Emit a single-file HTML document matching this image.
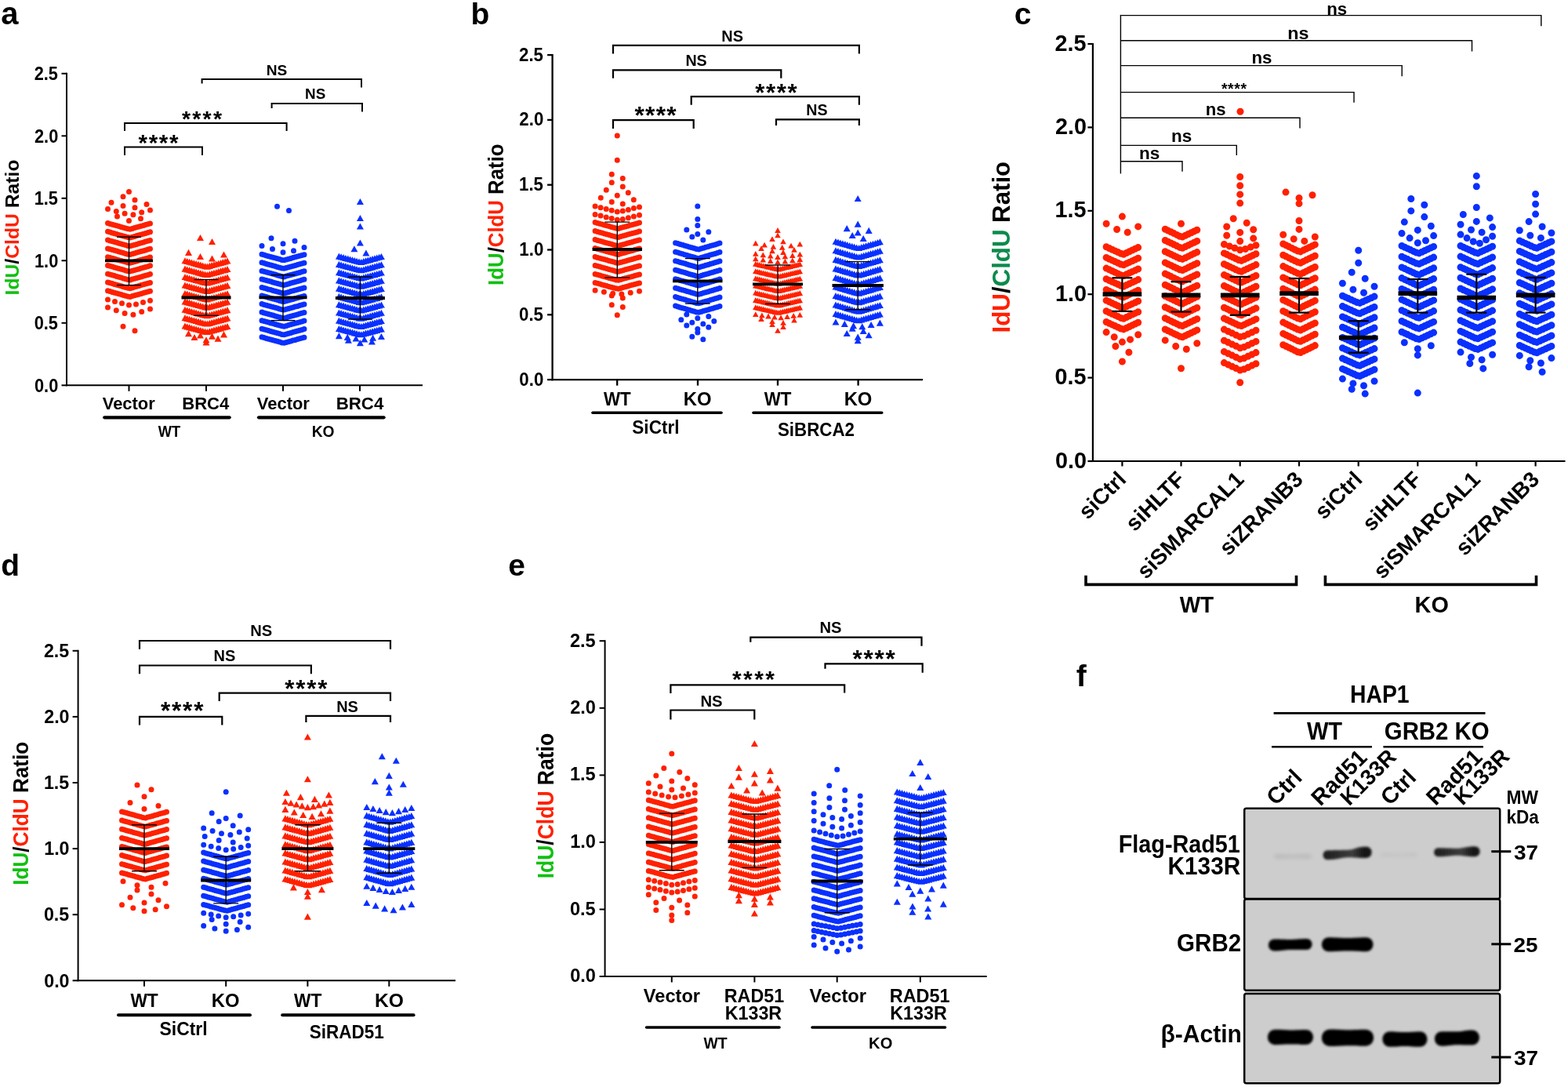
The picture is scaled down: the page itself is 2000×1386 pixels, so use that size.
<!DOCTYPE html><html><head><meta charset="utf-8"><style>html,body{margin:0;padding:0;background:#fff;overflow:hidden}svg{display:block}text{font-family:'Liberation Sans', Arial, Helvetica, sans-serif}</style></head><body>
<svg width="2000" height="1386" viewBox="0 0 2000 1386">
<defs>
<filter id="bl1_6" x="-20%" y="-80%" width="140%" height="260%"><feGaussianBlur stdDeviation="1.6"/></filter>
<filter id="bl1_8" x="-20%" y="-80%" width="140%" height="260%"><feGaussianBlur stdDeviation="1.8"/></filter>
<filter id="bl2_5" x="-20%" y="-80%" width="140%" height="260%"><feGaussianBlur stdDeviation="2.5"/></filter>
<linearGradient id="gb1" x1="0" y1="0" x2="1" y2="0"><stop offset="0" stop-color="#1c1c1c"/><stop offset="0.3" stop-color="#2c2c2c"/><stop offset="0.6" stop-color="#3c3c3c"/><stop offset="0.85" stop-color="#161616"/><stop offset="1" stop-color="#101010"/></linearGradient>
</defs>
<rect width="2000" height="1386" fill="#fff"/>
<text x="1.2" y="31.2" font-size="40" font-weight="bold" fill="#000" >a</text>
<line x1="85" y1="92.8" x2="85" y2="492.3" stroke="#000" stroke-width="2" stroke-linecap="butt"/>
<line x1="84" y1="491.3" x2="539" y2="491.3" stroke="#000" stroke-width="2" stroke-linecap="butt"/>
<line x1="78.5" y1="491.3" x2="85" y2="491.3" stroke="#000" stroke-width="2" stroke-linecap="butt"/>
<text x="44" y="499.8" font-size="23.3" font-weight="bold" fill="#000" textLength="30.3" lengthAdjust="spacingAndGlyphs" >0.0</text>
<line x1="78.5" y1="411.8" x2="85" y2="411.8" stroke="#000" stroke-width="2" stroke-linecap="butt"/>
<text x="43.7" y="420.3" font-size="23.3" font-weight="bold" fill="#000" textLength="30.3" lengthAdjust="spacingAndGlyphs" >0.5</text>
<line x1="78.5" y1="332.3" x2="85" y2="332.3" stroke="#000" stroke-width="2" stroke-linecap="butt"/>
<text x="44" y="340.8" font-size="23.3" font-weight="bold" fill="#000" textLength="30.3" lengthAdjust="spacingAndGlyphs" >1.0</text>
<line x1="78.5" y1="252.8" x2="85" y2="252.8" stroke="#000" stroke-width="2" stroke-linecap="butt"/>
<text x="43.7" y="261.2" font-size="23.3" font-weight="bold" fill="#000" textLength="30.3" lengthAdjust="spacingAndGlyphs" >1.5</text>
<line x1="78.5" y1="173.3" x2="85" y2="173.3" stroke="#000" stroke-width="2" stroke-linecap="butt"/>
<text x="44" y="181.8" font-size="23.3" font-weight="bold" fill="#000" textLength="30.3" lengthAdjust="spacingAndGlyphs" >2.0</text>
<line x1="78.5" y1="93.8" x2="85" y2="93.8" stroke="#000" stroke-width="2" stroke-linecap="butt"/>
<text x="43.7" y="102.3" font-size="23.3" font-weight="bold" fill="#000" textLength="30.3" lengthAdjust="spacingAndGlyphs" >2.5</text>
<line x1="164.5" y1="491.3" x2="164.5" y2="498.8" stroke="#000" stroke-width="2" stroke-linecap="butt"/>
<line x1="263" y1="491.3" x2="263" y2="498.8" stroke="#000" stroke-width="2" stroke-linecap="butt"/>
<line x1="361" y1="491.3" x2="361" y2="498.8" stroke="#000" stroke-width="2" stroke-linecap="butt"/>
<line x1="459" y1="491.3" x2="459" y2="498.8" stroke="#000" stroke-width="2" stroke-linecap="butt"/>
<path d="M165.9 378.5h0M163.1 378h0M168.8 377.6h0M160.2 377.2h0M171.6 376.8h0M157.4 376.4h0M174.4 376h0M154.6 375.6h0M177.3 375.2h0M151.7 374.8h0M180.1 374.4h0M148.9 374h0M183 373.6h0M146 373.2h0M185.8 372.8h0M143.2 372.4h0M188.7 372h0M140.3 371.6h0M191.5 371.2h0M137.5 370.8h0M165.9 367.7h0M163.1 367.3h0M168.8 366.9h0M160.2 366.5h0M171.6 366.1h0M157.4 365.7h0M174.4 365.2h0M154.6 364.8h0M177.3 364.4h0M151.7 364h0M180.1 363.6h0M148.9 363.2h0M183 362.8h0M146 362.4h0M185.8 362h0M143.2 361.6h0M188.7 361.2h0M140.3 360.8h0M191.5 360.4h0M137.5 360h0M165.9 356.9h0M163.1 356.5h0M168.8 356.1h0M160.2 355.7h0M171.6 355.3h0M157.4 354.9h0M174.4 354.5h0M154.6 354.1h0M177.3 353.7h0M151.7 353.3h0M180.1 352.9h0M148.9 352.5h0M183 352h0M146 351.6h0M185.8 351.2h0M143.2 350.8h0M188.7 350.4h0M140.3 350h0M191.5 349.6h0M137.5 349.2h0M165.9 346.1h0M163.1 345.7h0M168.8 345.3h0M160.2 344.9h0M171.6 344.5h0M157.4 344.1h0M174.4 343.7h0M154.6 343.3h0M177.3 342.9h0M151.7 342.5h0M180.1 342.1h0M148.9 341.7h0M183 341.3h0M146 340.9h0M185.8 340.5h0M143.2 340.1h0M188.7 339.7h0M140.3 339.3h0M191.5 338.8h0M137.5 338.4h0M165.9 335.3h0M163.1 334.9h0M168.8 334.5h0M160.2 334.1h0M171.6 333.7h0M157.4 333.3h0M174.4 332.9h0M154.6 332.5h0M177.3 332.1h0M151.7 331.7h0M180.1 331.3h0M148.9 330.9h0M183 330.5h0M146 330.1h0M185.8 329.7h0M143.2 329.3h0M188.7 328.9h0M140.3 328.5h0M191.5 328.1h0M137.5 327.7h0M165.9 324.6h0M163.1 324.2h0M168.8 323.8h0M160.2 323.4h0M171.6 323h0M157.4 322.5h0M174.4 322.1h0M154.6 321.7h0M177.3 321.3h0M151.7 320.9h0M180.1 320.5h0M148.9 320.1h0M183 319.7h0M146 319.3h0M185.8 318.9h0M143.2 318.5h0M188.7 318.1h0M140.3 317.7h0M191.5 317.3h0M137.5 316.9h0M165.9 313.8h0M163.1 313.4h0M168.8 313h0M160.2 312.6h0M171.6 312.2h0M157.4 311.8h0M174.4 311.4h0M154.6 311h0M177.3 310.6h0M151.7 310.2h0M180.1 309.7h0M148.9 309.3h0M183 308.9h0M146 308.5h0M185.8 308.1h0M143.2 307.7h0M188.7 307.3h0M140.3 306.9h0M191.5 306.5h0M137.5 306.1h0M165.9 303h0M163.1 302.6h0M168.8 302.2h0M160.2 301.8h0M171.6 301.4h0M157.4 301h0M174.4 300.6h0M154.6 300.2h0M177.3 299.8h0M151.7 299.4h0M180.1 299h0M148.9 298.6h0M183 298.2h0M146 297.8h0M185.8 297.4h0M143.2 297h0M188.7 296.5h0M140.3 296.1h0M191.5 295.7h0M137.5 295.3h0M165.9 292.2h0M163.1 291.8h0M168.8 291.4h0M160.2 291h0M171.6 290.6h0M157.4 290.2h0M174.4 289.8h0M154.6 289.4h0M177.3 289h0M151.7 288.6h0M180.1 288.2h0M148.9 287.8h0M183 287.4h0M146 287h0M185.8 286.6h0M143.2 286.2h0M188.7 285.8h0M140.3 285.4h0M191.5 285h0M137.5 284.6h0M164.5 281.6h0M179.5 278.7h0M149.5 275.9h0M169.9 273.7h0M159.1 272.3h0M180.7 270.8h0M148.3 269.4h0M191.5 268h0M137.5 266.6h0M172 264.8h0M157 262.6h0M187 260.5h0M142 258.3h0M172 255.1h0M157 250.8h0M164.5 244.4h0M164.5 389.1h0M173.5 387.9h0M155.5 386.8h0M182.5 385.6h0M146.5 384.4h0M191.5 383.2h0M137.5 382h0M169.9 401.3h0M159.1 399.5h0M180.7 397.6h0M148.3 395.8h0M191.5 393.9h0M137.5 392.1h0M172 421.7h0M157 416.2h0" stroke="#ff2000" stroke-width="7" stroke-linecap="round" fill="none"/>
<line x1="164.5" y1="302.1" x2="164.5" y2="363.6" stroke="#000" stroke-width="1.4" stroke-linecap="butt"/>
<line x1="149" y1="302.1" x2="180" y2="302.1" stroke="#000" stroke-width="1.4" stroke-linecap="butt"/>
<line x1="149" y1="363.6" x2="180" y2="363.6" stroke="#000" stroke-width="1.4" stroke-linecap="butt"/>
<line x1="134" y1="332.3" x2="195" y2="332.3" stroke="#000" stroke-width="3.8" stroke-linecap="butt"/>
<path d="M259.9 427.1l4.5 -8.1l4.5 8.1zM257.1 426.7l4.5 -8.1l4.5 8.1zM262.8 426.3l4.5 -8.1l4.5 8.1zM254.2 425.9l4.5 -8.1l4.5 8.1zM265.6 425.5l4.5 -8.1l4.5 8.1zM251.4 425.1l4.5 -8.1l4.5 8.1zM268.4 424.7l4.5 -8.1l4.5 8.1zM248.6 424.3l4.5 -8.1l4.5 8.1zM271.3 423.9l4.5 -8.1l4.5 8.1zM245.7 423.6l4.5 -8.1l4.5 8.1zM274.1 423.2l4.5 -8.1l4.5 8.1zM242.9 422.8l4.5 -8.1l4.5 8.1zM277 422.4l4.5 -8.1l4.5 8.1zM240 422l4.5 -8.1l4.5 8.1zM279.8 421.6l4.5 -8.1l4.5 8.1zM237.2 421.2l4.5 -8.1l4.5 8.1zM282.7 420.8l4.5 -8.1l4.5 8.1zM234.3 420.4l4.5 -8.1l4.5 8.1zM285.5 420l4.5 -8.1l4.5 8.1zM231.5 419.6l4.5 -8.1l4.5 8.1zM259.9 416.6l4.5 -8.1l4.5 8.1zM257.1 416.3l4.5 -8.1l4.5 8.1zM262.8 415.9l4.5 -8.1l4.5 8.1zM254.2 415.5l4.5 -8.1l4.5 8.1zM265.6 415.1l4.5 -8.1l4.5 8.1zM251.4 414.7l4.5 -8.1l4.5 8.1zM268.4 414.3l4.5 -8.1l4.5 8.1zM248.6 413.9l4.5 -8.1l4.5 8.1zM271.3 413.5l4.5 -8.1l4.5 8.1zM245.7 413.1l4.5 -8.1l4.5 8.1zM274.1 412.7l4.5 -8.1l4.5 8.1zM242.9 412.3l4.5 -8.1l4.5 8.1zM277 412l4.5 -8.1l4.5 8.1zM240 411.6l4.5 -8.1l4.5 8.1zM279.8 411.2l4.5 -8.1l4.5 8.1zM237.2 410.8l4.5 -8.1l4.5 8.1zM282.7 410.4l4.5 -8.1l4.5 8.1zM234.3 410l4.5 -8.1l4.5 8.1zM285.5 409.6l4.5 -8.1l4.5 8.1zM231.5 409.2l4.5 -8.1l4.5 8.1zM259.9 406.2l4.5 -8.1l4.5 8.1zM257.1 405.8l4.5 -8.1l4.5 8.1zM262.8 405.4l4.5 -8.1l4.5 8.1zM254.2 405.1l4.5 -8.1l4.5 8.1zM265.6 404.7l4.5 -8.1l4.5 8.1zM251.4 404.3l4.5 -8.1l4.5 8.1zM268.4 403.9l4.5 -8.1l4.5 8.1zM248.6 403.5l4.5 -8.1l4.5 8.1zM271.3 403.1l4.5 -8.1l4.5 8.1zM245.7 402.7l4.5 -8.1l4.5 8.1zM274.1 402.3l4.5 -8.1l4.5 8.1zM242.9 401.9l4.5 -8.1l4.5 8.1zM277 401.5l4.5 -8.1l4.5 8.1zM240 401.1l4.5 -8.1l4.5 8.1zM279.8 400.8l4.5 -8.1l4.5 8.1zM237.2 400.4l4.5 -8.1l4.5 8.1zM282.7 400l4.5 -8.1l4.5 8.1zM234.3 399.6l4.5 -8.1l4.5 8.1zM285.5 399.2l4.5 -8.1l4.5 8.1zM231.5 398.8l4.5 -8.1l4.5 8.1zM259.9 395.8l4.5 -8.1l4.5 8.1zM257.1 395.4l4.5 -8.1l4.5 8.1zM262.8 395l4.5 -8.1l4.5 8.1zM254.2 394.6l4.5 -8.1l4.5 8.1zM265.6 394.2l4.5 -8.1l4.5 8.1zM251.4 393.8l4.5 -8.1l4.5 8.1zM268.4 393.5l4.5 -8.1l4.5 8.1zM248.6 393.1l4.5 -8.1l4.5 8.1zM271.3 392.7l4.5 -8.1l4.5 8.1zM245.7 392.3l4.5 -8.1l4.5 8.1zM274.1 391.9l4.5 -8.1l4.5 8.1zM242.9 391.5l4.5 -8.1l4.5 8.1zM277 391.1l4.5 -8.1l4.5 8.1zM240 390.7l4.5 -8.1l4.5 8.1zM279.8 390.3l4.5 -8.1l4.5 8.1zM237.2 389.9l4.5 -8.1l4.5 8.1zM282.7 389.5l4.5 -8.1l4.5 8.1zM234.3 389.2l4.5 -8.1l4.5 8.1zM285.5 388.8l4.5 -8.1l4.5 8.1zM231.5 388.4l4.5 -8.1l4.5 8.1zM259.9 385.4l4.5 -8.1l4.5 8.1zM257.1 385l4.5 -8.1l4.5 8.1zM262.8 384.6l4.5 -8.1l4.5 8.1zM254.2 384.2l4.5 -8.1l4.5 8.1zM265.6 383.8l4.5 -8.1l4.5 8.1zM251.4 383.4l4.5 -8.1l4.5 8.1zM268.4 383l4.5 -8.1l4.5 8.1zM248.6 382.6l4.5 -8.1l4.5 8.1zM271.3 382.3l4.5 -8.1l4.5 8.1zM245.7 381.9l4.5 -8.1l4.5 8.1zM274.1 381.5l4.5 -8.1l4.5 8.1zM242.9 381.1l4.5 -8.1l4.5 8.1zM277 380.7l4.5 -8.1l4.5 8.1zM240 380.3l4.5 -8.1l4.5 8.1zM279.8 379.9l4.5 -8.1l4.5 8.1zM237.2 379.5l4.5 -8.1l4.5 8.1zM282.7 379.1l4.5 -8.1l4.5 8.1zM234.3 378.7l4.5 -8.1l4.5 8.1zM285.5 378.3l4.5 -8.1l4.5 8.1zM231.5 378l4.5 -8.1l4.5 8.1zM259.9 375l4.5 -8.1l4.5 8.1zM257.1 374.6l4.5 -8.1l4.5 8.1zM262.8 374.2l4.5 -8.1l4.5 8.1zM254.2 373.8l4.5 -8.1l4.5 8.1zM265.6 373.4l4.5 -8.1l4.5 8.1zM251.4 373l4.5 -8.1l4.5 8.1zM268.4 372.6l4.5 -8.1l4.5 8.1zM248.6 372.2l4.5 -8.1l4.5 8.1zM271.3 371.8l4.5 -8.1l4.5 8.1zM245.7 371.4l4.5 -8.1l4.5 8.1zM274.1 371l4.5 -8.1l4.5 8.1zM242.9 370.7l4.5 -8.1l4.5 8.1zM277 370.3l4.5 -8.1l4.5 8.1zM240 369.9l4.5 -8.1l4.5 8.1zM279.8 369.5l4.5 -8.1l4.5 8.1zM237.2 369.1l4.5 -8.1l4.5 8.1zM282.7 368.7l4.5 -8.1l4.5 8.1zM234.3 368.3l4.5 -8.1l4.5 8.1zM285.5 367.9l4.5 -8.1l4.5 8.1zM231.5 367.5l4.5 -8.1l4.5 8.1zM259.9 364.5l4.5 -8.1l4.5 8.1zM257.1 364.1l4.5 -8.1l4.5 8.1zM262.8 363.7l4.5 -8.1l4.5 8.1zM254.2 363.4l4.5 -8.1l4.5 8.1zM265.6 363l4.5 -8.1l4.5 8.1zM251.4 362.6l4.5 -8.1l4.5 8.1zM268.4 362.2l4.5 -8.1l4.5 8.1zM248.6 361.8l4.5 -8.1l4.5 8.1zM271.3 361.4l4.5 -8.1l4.5 8.1zM245.7 361l4.5 -8.1l4.5 8.1zM274.1 360.6l4.5 -8.1l4.5 8.1zM242.9 360.2l4.5 -8.1l4.5 8.1zM277 359.8l4.5 -8.1l4.5 8.1zM240 359.5l4.5 -8.1l4.5 8.1zM279.8 359.1l4.5 -8.1l4.5 8.1zM237.2 358.7l4.5 -8.1l4.5 8.1zM282.7 358.3l4.5 -8.1l4.5 8.1zM234.3 357.9l4.5 -8.1l4.5 8.1zM285.5 357.5l4.5 -8.1l4.5 8.1zM231.5 357.1l4.5 -8.1l4.5 8.1zM259.9 354.1l4.5 -8.1l4.5 8.1zM257.1 353.7l4.5 -8.1l4.5 8.1zM262.8 353.3l4.5 -8.1l4.5 8.1zM254.2 352.9l4.5 -8.1l4.5 8.1zM265.6 352.5l4.5 -8.1l4.5 8.1zM251.4 352.2l4.5 -8.1l4.5 8.1zM268.4 351.8l4.5 -8.1l4.5 8.1zM248.6 351.4l4.5 -8.1l4.5 8.1zM271.3 351l4.5 -8.1l4.5 8.1zM245.7 350.6l4.5 -8.1l4.5 8.1zM274.1 350.2l4.5 -8.1l4.5 8.1zM242.9 349.8l4.5 -8.1l4.5 8.1zM277 349.4l4.5 -8.1l4.5 8.1zM240 349l4.5 -8.1l4.5 8.1zM279.8 348.6l4.5 -8.1l4.5 8.1zM237.2 348.2l4.5 -8.1l4.5 8.1zM282.7 347.9l4.5 -8.1l4.5 8.1zM234.3 347.5l4.5 -8.1l4.5 8.1zM285.5 347.1l4.5 -8.1l4.5 8.1zM231.5 346.7l4.5 -8.1l4.5 8.1zM259.9 343.7l4.5 -8.1l4.5 8.1zM257.1 343.3l4.5 -8.1l4.5 8.1zM262.8 342.9l4.5 -8.1l4.5 8.1zM254.2 342.5l4.5 -8.1l4.5 8.1zM265.6 342.1l4.5 -8.1l4.5 8.1zM251.4 341.7l4.5 -8.1l4.5 8.1zM268.4 341.3l4.5 -8.1l4.5 8.1zM248.6 340.9l4.5 -8.1l4.5 8.1zM271.3 340.6l4.5 -8.1l4.5 8.1zM245.7 340.2l4.5 -8.1l4.5 8.1zM274.1 339.8l4.5 -8.1l4.5 8.1zM242.9 339.4l4.5 -8.1l4.5 8.1zM277 339l4.5 -8.1l4.5 8.1zM240 338.6l4.5 -8.1l4.5 8.1zM279.8 338.2l4.5 -8.1l4.5 8.1zM237.2 337.8l4.5 -8.1l4.5 8.1zM282.7 337.4l4.5 -8.1l4.5 8.1zM234.3 337l4.5 -8.1l4.5 8.1zM285.5 336.6l4.5 -8.1l4.5 8.1zM231.5 336.3l4.5 -8.1l4.5 8.1zM266 333.5l4.5 -8.1l4.5 8.1zM251 331l4.5 -8.1l4.5 8.1zM281 328.5l4.5 -8.1l4.5 8.1zM236 325.9l4.5 -8.1l4.5 8.1zM266 312.1l4.5 -8.1l4.5 8.1zM251 307.1l4.5 -8.1l4.5 8.1zM266 432.7l4.5 -8.1l4.5 8.1zM251 431.6l4.5 -8.1l4.5 8.1zM281 430.4l4.5 -8.1l4.5 8.1zM236 429.2l4.5 -8.1l4.5 8.1zM258.5 437.3l4.5 -8.1l4.5 8.1zM273.5 435.7l4.5 -8.1l4.5 8.1zM243.5 434.1l4.5 -8.1l4.5 8.1zM258.5 440.5l4.5 -8.1l4.5 8.1z" fill="#ff2000"/>
<line x1="263" y1="356.5" x2="263" y2="402.3" stroke="#000" stroke-width="1.4" stroke-linecap="butt"/>
<line x1="247.5" y1="356.5" x2="278.5" y2="356.5" stroke="#000" stroke-width="1.4" stroke-linecap="butt"/>
<line x1="247.5" y1="402.3" x2="278.5" y2="402.3" stroke="#000" stroke-width="1.4" stroke-linecap="butt"/>
<line x1="231.5" y1="379.5" x2="294.5" y2="379.5" stroke="#000" stroke-width="3.8" stroke-linecap="butt"/>
<path d="M362.4 437.3h0M359.6 436.9h0M365.3 436.5h0M356.7 436.1h0M368.1 435.7h0M353.9 435.3h0M370.9 434.9h0M351.1 434.5h0M373.8 434.1h0M348.2 433.8h0M376.6 433.4h0M345.4 433h0M379.5 432.6h0M342.5 432.2h0M382.3 431.8h0M339.7 431.4h0M385.2 431h0M336.8 430.6h0M388 430.2h0M334 429.8h0M362.4 426.8h0M359.6 426.4h0M365.3 426h0M356.7 425.6h0M368.1 425.2h0M353.9 424.8h0M370.9 424.4h0M351.1 424h0M373.8 423.6h0M348.2 423.2h0M376.6 422.8h0M345.4 422.4h0M379.5 422h0M342.5 421.6h0M382.3 421.2h0M339.7 420.8h0M385.2 420.4h0M336.8 420h0M388 419.6h0M334 419.2h0M362.4 416.2h0M359.6 415.8h0M365.3 415.4h0M356.7 415h0M368.1 414.6h0M353.9 414.2h0M370.9 413.8h0M351.1 413.4h0M373.8 413h0M348.2 412.6h0M376.6 412.3h0M345.4 411.9h0M379.5 411.5h0M342.5 411.1h0M382.3 410.7h0M339.7 410.3h0M385.2 409.9h0M336.8 409.5h0M388 409.1h0M334 408.7h0M362.4 405.7h0M359.6 405.3h0M365.3 404.9h0M356.7 404.5h0M368.1 404.1h0M353.9 403.7h0M370.9 403.3h0M351.1 402.9h0M373.8 402.5h0M348.2 402.1h0M376.6 401.7h0M345.4 401.3h0M379.5 400.9h0M342.5 400.5h0M382.3 400.1h0M339.7 399.7h0M385.2 399.3h0M336.8 398.9h0M388 398.5h0M334 398.1h0M362.4 395.1h0M359.6 394.7h0M365.3 394.3h0M356.7 393.9h0M368.1 393.5h0M353.9 393.1h0M370.9 392.7h0M351.1 392.3h0M373.8 391.9h0M348.2 391.5h0M376.6 391.1h0M345.4 390.8h0M379.5 390.4h0M342.5 390h0M382.3 389.6h0M339.7 389.2h0M385.2 388.8h0M336.8 388.4h0M388 388h0M334 387.6h0M362.4 384.6h0M359.6 384.2h0M365.3 383.8h0M356.7 383.4h0M368.1 383h0M353.9 382.6h0M370.9 382.2h0M351.1 381.8h0M373.8 381.4h0M348.2 381h0M376.6 380.6h0M345.4 380.2h0M379.5 379.8h0M342.5 379.4h0M382.3 379h0M339.7 378.6h0M385.2 378.2h0M336.8 377.8h0M388 377.4h0M334 377h0M362.4 374h0M359.6 373.6h0M365.3 373.2h0M356.7 372.8h0M368.1 372.4h0M353.9 372h0M370.9 371.6h0M351.1 371.2h0M373.8 370.8h0M348.2 370.4h0M376.6 370h0M345.4 369.6h0M379.5 369.3h0M342.5 368.9h0M382.3 368.5h0M339.7 368.1h0M385.2 367.7h0M336.8 367.3h0M388 366.9h0M334 366.5h0M362.4 363.5h0M359.6 363.1h0M365.3 362.7h0M356.7 362.3h0M368.1 361.9h0M353.9 361.5h0M370.9 361.1h0M351.1 360.7h0M373.8 360.3h0M348.2 359.9h0M376.6 359.5h0M345.4 359.1h0M379.5 358.7h0M342.5 358.3h0M382.3 357.9h0M339.7 357.5h0M385.2 357.1h0M336.8 356.7h0M388 356.3h0M334 355.9h0M362.4 352.9h0M359.6 352.5h0M365.3 352.1h0M356.7 351.7h0M368.1 351.3h0M353.9 350.9h0M370.9 350.5h0M351.1 350.1h0M373.8 349.7h0M348.2 349.3h0M376.6 348.9h0M345.4 348.5h0M379.5 348.2h0M342.5 347.8h0M382.3 347.4h0M339.7 347h0M385.2 346.6h0M336.8 346.2h0M388 345.8h0M334 345.4h0M362.4 342.3h0M359.6 342h0M365.3 341.6h0M356.7 341.2h0M368.1 340.8h0M353.9 340.4h0M370.9 340h0M351.1 339.6h0M373.8 339.2h0M348.2 338.8h0M376.6 338.4h0M345.4 338h0M379.5 337.6h0M342.5 337.2h0M382.3 336.8h0M339.7 336.4h0M385.2 336h0M336.8 335.6h0M388 335.2h0M334 334.8h0M362.4 331.8h0M359.6 331.4h0M365.3 331h0M356.7 330.6h0M368.1 330.2h0M353.9 329.8h0M370.9 329.4h0M351.1 329h0M373.8 328.6h0M348.2 328.2h0M376.6 327.8h0M345.4 327.4h0M379.5 327h0M342.5 326.7h0M382.3 326.3h0M339.7 325.9h0M385.2 325.5h0M336.8 325.1h0M388 324.7h0M334 324.3h0M361 321.7h0M374.5 319.7h0M347.5 317.6h0M388 315.5h0M334 313.5h0M361 310.7h0M376 307.3h0M346 303.8h0M368.5 268.5h0M353.5 263.3h0" stroke="#0a30ff" stroke-width="7" stroke-linecap="round" fill="none"/>
<line x1="361" y1="350.6" x2="361" y2="408.6" stroke="#000" stroke-width="1.4" stroke-linecap="butt"/>
<line x1="345.5" y1="350.6" x2="376.5" y2="350.6" stroke="#000" stroke-width="1.4" stroke-linecap="butt"/>
<line x1="345.5" y1="408.6" x2="376.5" y2="408.6" stroke="#000" stroke-width="1.4" stroke-linecap="butt"/>
<line x1="330.5" y1="379.4" x2="391.5" y2="379.4" stroke="#000" stroke-width="3.8" stroke-linecap="butt"/>
<path d="M456.3 430.3l4.5 -8.1l4.5 8.1zM453.5 429.9l4.5 -8.1l4.5 8.1zM459.2 429.5l4.5 -8.1l4.5 8.1zM450.6 429.1l4.5 -8.1l4.5 8.1zM462 428.7l4.5 -8.1l4.5 8.1zM447.8 428.4l4.5 -8.1l4.5 8.1zM464.8 428l4.5 -8.1l4.5 8.1zM445 427.6l4.5 -8.1l4.5 8.1zM467.7 427.2l4.5 -8.1l4.5 8.1zM442.1 426.8l4.5 -8.1l4.5 8.1zM470.5 426.4l4.5 -8.1l4.5 8.1zM439.3 426l4.5 -8.1l4.5 8.1zM473.4 425.7l4.5 -8.1l4.5 8.1zM436.4 425.3l4.5 -8.1l4.5 8.1zM476.2 424.9l4.5 -8.1l4.5 8.1zM433.6 424.5l4.5 -8.1l4.5 8.1zM479.1 424.1l4.5 -8.1l4.5 8.1zM430.7 423.7l4.5 -8.1l4.5 8.1zM481.9 423.4l4.5 -8.1l4.5 8.1zM427.9 423l4.5 -8.1l4.5 8.1zM456.3 420l4.5 -8.1l4.5 8.1zM453.5 419.6l4.5 -8.1l4.5 8.1zM459.2 419.3l4.5 -8.1l4.5 8.1zM450.6 418.9l4.5 -8.1l4.5 8.1zM462 418.5l4.5 -8.1l4.5 8.1zM447.8 418.1l4.5 -8.1l4.5 8.1zM464.8 417.7l4.5 -8.1l4.5 8.1zM445 417.3l4.5 -8.1l4.5 8.1zM467.7 416.9l4.5 -8.1l4.5 8.1zM442.1 416.6l4.5 -8.1l4.5 8.1zM470.5 416.2l4.5 -8.1l4.5 8.1zM439.3 415.8l4.5 -8.1l4.5 8.1zM473.4 415.4l4.5 -8.1l4.5 8.1zM436.4 415l4.5 -8.1l4.5 8.1zM476.2 414.6l4.5 -8.1l4.5 8.1zM433.6 414.3l4.5 -8.1l4.5 8.1zM479.1 413.9l4.5 -8.1l4.5 8.1zM430.7 413.5l4.5 -8.1l4.5 8.1zM481.9 413.1l4.5 -8.1l4.5 8.1zM427.9 412.7l4.5 -8.1l4.5 8.1zM456.3 409.8l4.5 -8.1l4.5 8.1zM453.5 409.4l4.5 -8.1l4.5 8.1zM459.2 409l4.5 -8.1l4.5 8.1zM450.6 408.6l4.5 -8.1l4.5 8.1zM462 408.2l4.5 -8.1l4.5 8.1zM447.8 407.8l4.5 -8.1l4.5 8.1zM464.8 407.5l4.5 -8.1l4.5 8.1zM445 407.1l4.5 -8.1l4.5 8.1zM467.7 406.7l4.5 -8.1l4.5 8.1zM442.1 406.3l4.5 -8.1l4.5 8.1zM470.5 405.9l4.5 -8.1l4.5 8.1zM439.3 405.5l4.5 -8.1l4.5 8.1zM473.4 405.1l4.5 -8.1l4.5 8.1zM436.4 404.8l4.5 -8.1l4.5 8.1zM476.2 404.4l4.5 -8.1l4.5 8.1zM433.6 404l4.5 -8.1l4.5 8.1zM479.1 403.6l4.5 -8.1l4.5 8.1zM430.7 403.2l4.5 -8.1l4.5 8.1zM481.9 402.8l4.5 -8.1l4.5 8.1zM427.9 402.5l4.5 -8.1l4.5 8.1zM456.3 399.5l4.5 -8.1l4.5 8.1zM453.5 399.1l4.5 -8.1l4.5 8.1zM459.2 398.7l4.5 -8.1l4.5 8.1zM450.6 398.4l4.5 -8.1l4.5 8.1zM462 398l4.5 -8.1l4.5 8.1zM447.8 397.6l4.5 -8.1l4.5 8.1zM464.8 397.2l4.5 -8.1l4.5 8.1zM445 396.8l4.5 -8.1l4.5 8.1zM467.7 396.4l4.5 -8.1l4.5 8.1zM442.1 396l4.5 -8.1l4.5 8.1zM470.5 395.7l4.5 -8.1l4.5 8.1zM439.3 395.3l4.5 -8.1l4.5 8.1zM473.4 394.9l4.5 -8.1l4.5 8.1zM436.4 394.5l4.5 -8.1l4.5 8.1zM476.2 394.1l4.5 -8.1l4.5 8.1zM433.6 393.7l4.5 -8.1l4.5 8.1zM479.1 393.4l4.5 -8.1l4.5 8.1zM430.7 393l4.5 -8.1l4.5 8.1zM481.9 392.6l4.5 -8.1l4.5 8.1zM427.9 392.2l4.5 -8.1l4.5 8.1zM456.3 389.3l4.5 -8.1l4.5 8.1zM453.5 388.9l4.5 -8.1l4.5 8.1zM459.2 388.5l4.5 -8.1l4.5 8.1zM450.6 388.1l4.5 -8.1l4.5 8.1zM462 387.7l4.5 -8.1l4.5 8.1zM447.8 387.3l4.5 -8.1l4.5 8.1zM464.8 386.9l4.5 -8.1l4.5 8.1zM445 386.6l4.5 -8.1l4.5 8.1zM467.7 386.2l4.5 -8.1l4.5 8.1zM442.1 385.8l4.5 -8.1l4.5 8.1zM470.5 385.4l4.5 -8.1l4.5 8.1zM439.3 385l4.5 -8.1l4.5 8.1zM473.4 384.6l4.5 -8.1l4.5 8.1zM436.4 384.3l4.5 -8.1l4.5 8.1zM476.2 383.9l4.5 -8.1l4.5 8.1zM433.6 383.5l4.5 -8.1l4.5 8.1zM479.1 383.1l4.5 -8.1l4.5 8.1zM430.7 382.7l4.5 -8.1l4.5 8.1zM481.9 382.3l4.5 -8.1l4.5 8.1zM427.9 381.9l4.5 -8.1l4.5 8.1zM456.3 379l4.5 -8.1l4.5 8.1zM453.5 378.6l4.5 -8.1l4.5 8.1zM459.2 378.2l4.5 -8.1l4.5 8.1zM450.6 377.8l4.5 -8.1l4.5 8.1zM462 377.5l4.5 -8.1l4.5 8.1zM447.8 377.1l4.5 -8.1l4.5 8.1zM464.8 376.7l4.5 -8.1l4.5 8.1zM445 376.3l4.5 -8.1l4.5 8.1zM467.7 375.9l4.5 -8.1l4.5 8.1zM442.1 375.5l4.5 -8.1l4.5 8.1zM470.5 375.2l4.5 -8.1l4.5 8.1zM439.3 374.8l4.5 -8.1l4.5 8.1zM473.4 374.4l4.5 -8.1l4.5 8.1zM436.4 374l4.5 -8.1l4.5 8.1zM476.2 373.6l4.5 -8.1l4.5 8.1zM433.6 373.2l4.5 -8.1l4.5 8.1zM479.1 372.8l4.5 -8.1l4.5 8.1zM430.7 372.5l4.5 -8.1l4.5 8.1zM481.9 372.1l4.5 -8.1l4.5 8.1zM427.9 371.7l4.5 -8.1l4.5 8.1zM456.3 368.7l4.5 -8.1l4.5 8.1zM453.5 368.4l4.5 -8.1l4.5 8.1zM459.2 368l4.5 -8.1l4.5 8.1zM450.6 367.6l4.5 -8.1l4.5 8.1zM462 367.2l4.5 -8.1l4.5 8.1zM447.8 366.8l4.5 -8.1l4.5 8.1zM464.8 366.4l4.5 -8.1l4.5 8.1zM445 366.1l4.5 -8.1l4.5 8.1zM467.7 365.7l4.5 -8.1l4.5 8.1zM442.1 365.3l4.5 -8.1l4.5 8.1zM470.5 364.9l4.5 -8.1l4.5 8.1zM439.3 364.5l4.5 -8.1l4.5 8.1zM473.4 364.1l4.5 -8.1l4.5 8.1zM436.4 363.7l4.5 -8.1l4.5 8.1zM476.2 363.4l4.5 -8.1l4.5 8.1zM433.6 363l4.5 -8.1l4.5 8.1zM479.1 362.6l4.5 -8.1l4.5 8.1zM430.7 362.2l4.5 -8.1l4.5 8.1zM481.9 361.8l4.5 -8.1l4.5 8.1zM427.9 361.4l4.5 -8.1l4.5 8.1zM456.3 358.5l4.5 -8.1l4.5 8.1zM453.5 358.1l4.5 -8.1l4.5 8.1zM459.2 357.7l4.5 -8.1l4.5 8.1zM450.6 357.3l4.5 -8.1l4.5 8.1zM462 356.9l4.5 -8.1l4.5 8.1zM447.8 356.6l4.5 -8.1l4.5 8.1zM464.8 356.2l4.5 -8.1l4.5 8.1zM445 355.8l4.5 -8.1l4.5 8.1zM467.7 355.4l4.5 -8.1l4.5 8.1zM442.1 355l4.5 -8.1l4.5 8.1zM470.5 354.6l4.5 -8.1l4.5 8.1zM439.3 354.3l4.5 -8.1l4.5 8.1zM473.4 353.9l4.5 -8.1l4.5 8.1zM436.4 353.5l4.5 -8.1l4.5 8.1zM476.2 353.1l4.5 -8.1l4.5 8.1zM433.6 352.7l4.5 -8.1l4.5 8.1zM479.1 352.3l4.5 -8.1l4.5 8.1zM430.7 351.9l4.5 -8.1l4.5 8.1zM481.9 351.6l4.5 -8.1l4.5 8.1zM427.9 351.2l4.5 -8.1l4.5 8.1zM456.3 348.2l4.5 -8.1l4.5 8.1zM453.5 347.8l4.5 -8.1l4.5 8.1zM459.2 347.5l4.5 -8.1l4.5 8.1zM450.6 347.1l4.5 -8.1l4.5 8.1zM462 346.7l4.5 -8.1l4.5 8.1zM447.8 346.3l4.5 -8.1l4.5 8.1zM464.8 345.9l4.5 -8.1l4.5 8.1zM445 345.5l4.5 -8.1l4.5 8.1zM467.7 345.2l4.5 -8.1l4.5 8.1zM442.1 344.8l4.5 -8.1l4.5 8.1zM470.5 344.4l4.5 -8.1l4.5 8.1zM439.3 344l4.5 -8.1l4.5 8.1zM473.4 343.6l4.5 -8.1l4.5 8.1zM436.4 343.2l4.5 -8.1l4.5 8.1zM476.2 342.8l4.5 -8.1l4.5 8.1zM433.6 342.5l4.5 -8.1l4.5 8.1zM479.1 342.1l4.5 -8.1l4.5 8.1zM430.7 341.7l4.5 -8.1l4.5 8.1zM481.9 341.3l4.5 -8.1l4.5 8.1zM427.9 340.9l4.5 -8.1l4.5 8.1zM456.3 338l4.5 -8.1l4.5 8.1zM453.5 337.6l4.5 -8.1l4.5 8.1zM459.2 337.2l4.5 -8.1l4.5 8.1zM450.6 336.8l4.5 -8.1l4.5 8.1zM462 336.4l4.5 -8.1l4.5 8.1zM447.8 336.1l4.5 -8.1l4.5 8.1zM464.8 335.7l4.5 -8.1l4.5 8.1zM445 335.3l4.5 -8.1l4.5 8.1zM467.7 334.9l4.5 -8.1l4.5 8.1zM442.1 334.5l4.5 -8.1l4.5 8.1zM470.5 334.1l4.5 -8.1l4.5 8.1zM439.3 333.7l4.5 -8.1l4.5 8.1zM473.4 333.4l4.5 -8.1l4.5 8.1zM436.4 333l4.5 -8.1l4.5 8.1zM476.2 332.6l4.5 -8.1l4.5 8.1zM433.6 332.2l4.5 -8.1l4.5 8.1zM479.1 331.8l4.5 -8.1l4.5 8.1zM430.7 331.4l4.5 -8.1l4.5 8.1zM481.9 331.1l4.5 -8.1l4.5 8.1zM427.9 330.7l4.5 -8.1l4.5 8.1zM462.4 326.6l4.5 -8.1l4.5 8.1zM447.4 321.3l4.5 -8.1l4.5 8.1zM454.9 313.5l4.5 -8.1l4.5 8.1zM454.9 292.5l4.5 -8.1l4.5 8.1zM454.9 282l4.5 -8.1l4.5 8.1zM454.9 261l4.5 -8.1l4.5 8.1zM460.3 436.5l4.5 -8.1l4.5 8.1zM449.5 435.6l4.5 -8.1l4.5 8.1zM471.1 434.8l4.5 -8.1l4.5 8.1zM438.7 433.9l4.5 -8.1l4.5 8.1zM481.9 433l4.5 -8.1l4.5 8.1zM427.9 432.2l4.5 -8.1l4.5 8.1zM454.9 441.2l4.5 -8.1l4.5 8.1zM469.9 439.5l4.5 -8.1l4.5 8.1zM439.9 437.8l4.5 -8.1l4.5 8.1z" fill="#0a30ff"/>
<line x1="459.4" y1="353" x2="459.4" y2="407" stroke="#000" stroke-width="1.4" stroke-linecap="butt"/>
<line x1="443.9" y1="353" x2="474.9" y2="353" stroke="#000" stroke-width="1.4" stroke-linecap="butt"/>
<line x1="443.9" y1="407" x2="474.9" y2="407" stroke="#000" stroke-width="1.4" stroke-linecap="butt"/>
<line x1="427.9" y1="380" x2="490.9" y2="380" stroke="#000" stroke-width="3.8" stroke-linecap="butt"/>
<path d="M257.6 106.4 L257.6 101 L461 101 L461 111.6" fill="none" stroke="#000" stroke-width="2" stroke-linecap="butt" stroke-linejoin="miter"/>
<text x="339.7" y="96" font-size="18.6" font-weight="bold" fill="#000" textLength="26.6" lengthAdjust="spacingAndGlyphs" >NS</text>
<path d="M346.6 138 L346.6 132 L462 132 L462 142.4" fill="none" stroke="#000" stroke-width="2" stroke-linecap="butt" stroke-linejoin="miter"/>
<text x="389.1" y="126.4" font-size="18.6" font-weight="bold" fill="#000" textLength="26.2" lengthAdjust="spacingAndGlyphs" >NS</text>
<path d="M159 167 L159 157 L365.6 157 L365.6 167" fill="none" stroke="#000" stroke-width="2" stroke-linecap="butt" stroke-linejoin="miter"/>
<text x="231.9" y="160.6" font-size="28.5" font-weight="bold" letter-spacing="2.26">****</text>
<path d="M159 198 L159 187.6 L258 187.6 L258 198" fill="none" stroke="#000" stroke-width="2" stroke-linecap="butt" stroke-linejoin="miter"/>
<text x="176.5" y="192.4" font-size="29.6" font-weight="bold" letter-spacing="1.62">****</text>
<text x="130.8" y="522.4" font-size="22.3" font-weight="bold" fill="#000" textLength="66.9" lengthAdjust="spacingAndGlyphs" >Vector</text>
<text x="232.2" y="522.4" font-size="22.3" font-weight="bold" fill="#000" textLength="60.2" lengthAdjust="spacingAndGlyphs" >BRC4</text>
<text x="327.8" y="522.4" font-size="22.3" font-weight="bold" fill="#000" textLength="67.1" lengthAdjust="spacingAndGlyphs" >Vector</text>
<text x="428.7" y="522.4" font-size="22.3" font-weight="bold" fill="#000" textLength="60.6" lengthAdjust="spacingAndGlyphs" >BRC4</text>
<line x1="133.2" y1="532.3" x2="292.7" y2="532.3" stroke="#000" stroke-width="4.2" stroke-linecap="round"/>
<line x1="330" y1="532.3" x2="489.6" y2="532.3" stroke="#000" stroke-width="4.2" stroke-linecap="round"/>
<text x="201.8" y="557.3" font-size="19.3" font-weight="bold" fill="#000" textLength="28.4" lengthAdjust="spacingAndGlyphs" >WT</text>
<text x="397.7" y="557.3" font-size="19.3" font-weight="bold" fill="#000" textLength="28.9" lengthAdjust="spacingAndGlyphs" >KO</text>
<text transform="translate(24.2 374.8) rotate(-90)" x="-1.7" y="0" font-size="24" font-weight="bold" textLength="173" lengthAdjust="spacingAndGlyphs"><tspan fill="#10c010">IdU</tspan><tspan fill="#000">/</tspan><tspan fill="#ff2000">CldU</tspan><tspan fill="#000"> Ratio</tspan></text>
<text x="600.4" y="30.6" font-size="39" font-weight="bold" fill="#000" >b</text>
<line x1="704.6" y1="69" x2="704.6" y2="485.2" stroke="#000" stroke-width="2.3" stroke-linecap="butt"/>
<line x1="703.5" y1="484.1" x2="1177" y2="484.1" stroke="#000" stroke-width="2.3" stroke-linecap="butt"/>
<line x1="698.1" y1="484.1" x2="704.6" y2="484.1" stroke="#000" stroke-width="2.3" stroke-linecap="butt"/>
<text x="662.3" y="491.5" font-size="23.4" font-weight="bold" fill="#000" textLength="31" lengthAdjust="spacingAndGlyphs" >0.0</text>
<line x1="698.1" y1="401.3" x2="704.6" y2="401.3" stroke="#000" stroke-width="2.3" stroke-linecap="butt"/>
<text x="662" y="408.7" font-size="23.4" font-weight="bold" fill="#000" textLength="31" lengthAdjust="spacingAndGlyphs" >0.5</text>
<line x1="698.1" y1="318.5" x2="704.6" y2="318.5" stroke="#000" stroke-width="2.3" stroke-linecap="butt"/>
<text x="662.3" y="325.9" font-size="23.4" font-weight="bold" fill="#000" textLength="31" lengthAdjust="spacingAndGlyphs" >1.0</text>
<line x1="698.1" y1="235.7" x2="704.6" y2="235.7" stroke="#000" stroke-width="2.3" stroke-linecap="butt"/>
<text x="662" y="243" font-size="23.4" font-weight="bold" fill="#000" textLength="31" lengthAdjust="spacingAndGlyphs" >1.5</text>
<line x1="698.1" y1="152.9" x2="704.6" y2="152.9" stroke="#000" stroke-width="2.3" stroke-linecap="butt"/>
<text x="662.3" y="160.3" font-size="23.4" font-weight="bold" fill="#000" textLength="31" lengthAdjust="spacingAndGlyphs" >2.0</text>
<line x1="698.1" y1="70.1" x2="704.6" y2="70.1" stroke="#000" stroke-width="2.3" stroke-linecap="butt"/>
<text x="662" y="77.5" font-size="23.4" font-weight="bold" fill="#000" textLength="31" lengthAdjust="spacingAndGlyphs" >2.5</text>
<line x1="787.2" y1="484.1" x2="787.2" y2="491.6" stroke="#000" stroke-width="2.3" stroke-linecap="butt"/>
<line x1="890" y1="484.1" x2="890" y2="491.6" stroke="#000" stroke-width="2.3" stroke-linecap="butt"/>
<line x1="992" y1="484.1" x2="992" y2="491.6" stroke="#000" stroke-width="2.3" stroke-linecap="butt"/>
<line x1="1094.6" y1="484.1" x2="1094.6" y2="491.6" stroke="#000" stroke-width="2.3" stroke-linecap="butt"/>
<path d="M788.8 368.3h0M785.8 367.8h0M791.8 367.4h0M782.8 367h0M794.7 366.6h0M779.9 366.2h0M797.7 365.8h0M776.9 365.4h0M800.7 365h0M773.9 364.6h0M803.6 364.1h0M771 363.7h0M806.6 363.3h0M768 362.9h0M809.6 362.5h0M765 362.1h0M812.5 361.7h0M762.1 361.3h0M815.5 360.9h0M759.1 360.4h0M788.8 357.3h0M785.8 356.9h0M791.8 356.5h0M782.8 356.1h0M794.7 355.6h0M779.9 355.2h0M797.7 354.8h0M776.9 354.4h0M800.7 354h0M773.9 353.6h0M803.6 353.2h0M771 352.8h0M806.6 352.4h0M768 351.9h0M809.6 351.5h0M765 351.1h0M812.5 350.7h0M762.1 350.3h0M815.5 349.9h0M759.1 349.5h0M788.8 346.3h0M785.8 345.9h0M791.8 345.5h0M782.8 345.1h0M794.7 344.7h0M779.9 344.3h0M797.7 343.8h0M776.9 343.4h0M800.7 343h0M773.9 342.6h0M803.6 342.2h0M771 341.8h0M806.6 341.4h0M768 341h0M809.6 340.6h0M765 340.1h0M812.5 339.7h0M762.1 339.3h0M815.5 338.9h0M759.1 338.5h0M788.8 335.3h0M785.8 334.9h0M791.8 334.5h0M782.8 334.1h0M794.7 333.7h0M779.9 333.3h0M797.7 332.9h0M776.9 332.5h0M800.7 332.1h0M773.9 331.6h0M803.6 331.2h0M771 330.8h0M806.6 330.4h0M768 330h0M809.6 329.6h0M765 329.2h0M812.5 328.8h0M762.1 328.4h0M815.5 327.9h0M759.1 327.5h0M788.8 324.4h0M785.8 324h0M791.8 323.6h0M782.8 323.1h0M794.7 322.7h0M779.9 322.3h0M797.7 321.9h0M776.9 321.5h0M800.7 321.1h0M773.9 320.7h0M803.6 320.3h0M771 319.8h0M806.6 319.4h0M768 319h0M809.6 318.6h0M765 318.2h0M812.5 317.8h0M762.1 317.4h0M815.5 317h0M759.1 316.6h0M788.8 313.4h0M785.8 313h0M791.8 312.6h0M782.8 312.2h0M794.7 311.8h0M779.9 311.3h0M797.7 310.9h0M776.9 310.5h0M800.7 310.1h0M773.9 309.7h0M803.6 309.3h0M771 308.9h0M806.6 308.5h0M768 308.1h0M809.6 307.6h0M765 307.2h0M812.5 306.8h0M762.1 306.4h0M815.5 306h0M759.1 305.6h0M788.8 302.4h0M785.8 302h0M791.8 301.6h0M782.8 301.2h0M794.7 300.8h0M779.9 300.4h0M797.7 300h0M776.9 299.6h0M800.7 299.1h0M773.9 298.7h0M803.6 298.3h0M771 297.9h0M806.6 297.5h0M768 297.1h0M809.6 296.7h0M765 296.3h0M812.5 295.9h0M762.1 295.4h0M815.5 295h0M759.1 294.6h0M788.8 291.5h0M785.8 291.1h0M791.8 290.6h0M782.8 290.2h0M794.7 289.8h0M779.9 289.4h0M797.7 289h0M776.9 288.6h0M800.7 288.2h0M773.9 287.8h0M803.6 287.3h0M771 286.9h0M806.6 286.5h0M768 286.1h0M809.6 285.7h0M765 285.3h0M812.5 284.9h0M762.1 284.5h0M815.5 284.1h0M759.1 283.6h0M787.3 280.3h0M794.3 279.5h0M780.2 278.6h0M801.4 277.7h0M773.2 276.9h0M808.4 276h0M766.1 275.1h0M815.5 274.3h0M759.1 273.4h0M787.3 269.9h0M794.3 269.1h0M780.2 268.2h0M801.4 267.4h0M773.2 266.5h0M808.4 265.6h0M766.1 264.8h0M815.5 263.9h0M759.1 263h0M794.3 260h0M780.3 257.4h0M808.3 254.8h0M766.3 252.2h0M787.3 249.2h0M801.3 245.7h0M773.3 242.2h0M794.3 237.9h0M780.3 232.7h0M794.3 227.5h0M780.3 222.3h0M787.3 204.2h0M787.3 173h0M792.9 375.1h0M781.7 374.2h0M804.2 373.2h0M770.4 372.3h0M815.5 371.3h0M759.1 370.3h0M794.3 380h0M780.3 377.1h0M794.3 391.6h0M780.3 388.7h0M787.3 401.7h0" stroke="#ff2000" stroke-width="7" stroke-linecap="round" fill="none"/>
<line x1="787.3" y1="283.1" x2="787.3" y2="353.9" stroke="#000" stroke-width="1.4" stroke-linecap="butt"/>
<line x1="771.3" y1="283.1" x2="803.3" y2="283.1" stroke="#000" stroke-width="1.4" stroke-linecap="butt"/>
<line x1="771.3" y1="353.9" x2="803.3" y2="353.9" stroke="#000" stroke-width="1.4" stroke-linecap="butt"/>
<line x1="755.6" y1="318" x2="819" y2="318" stroke="#000" stroke-width="3.8" stroke-linecap="butt"/>
<path d="M891.3 398.3h0M888.3 397.9h0M894.3 397.5h0M885.3 397h0M897.2 396.6h0M882.4 396.2h0M900.2 395.7h0M879.4 395.3h0M903.2 394.9h0M876.4 394.4h0M906.1 394h0M873.5 393.6h0M909.1 393.2h0M870.5 392.7h0M912.1 392.3h0M867.5 391.9h0M915 391.4h0M864.6 391h0M918 390.6h0M861.6 390.1h0M891.3 386.8h0M888.3 386.4h0M894.3 386h0M885.3 385.5h0M897.2 385.1h0M882.4 384.7h0M900.2 384.3h0M879.4 383.8h0M903.2 383.4h0M876.4 383h0M906.1 382.5h0M873.5 382.1h0M909.1 381.7h0M870.5 381.2h0M912.1 380.8h0M867.5 380.4h0M915 379.9h0M864.6 379.5h0M918 379.1h0M861.6 378.6h0M891.3 375.3h0M888.3 374.9h0M894.3 374.5h0M885.3 374.1h0M897.2 373.6h0M882.4 373.2h0M900.2 372.8h0M879.4 372.3h0M903.2 371.9h0M876.4 371.5h0M906.1 371h0M873.5 370.6h0M909.1 370.2h0M870.5 369.7h0M912.1 369.3h0M867.5 368.9h0M915 368.5h0M864.6 368h0M918 367.6h0M861.6 367.2h0M891.3 363.9h0M888.3 363.4h0M894.3 363h0M885.3 362.6h0M897.2 362.1h0M882.4 361.7h0M900.2 361.3h0M879.4 360.8h0M903.2 360.4h0M876.4 360h0M906.1 359.6h0M873.5 359.1h0M909.1 358.7h0M870.5 358.3h0M912.1 357.8h0M867.5 357.4h0M915 357h0M864.6 356.5h0M918 356.1h0M861.6 355.7h0M891.3 352.4h0M888.3 351.9h0M894.3 351.5h0M885.3 351.1h0M897.2 350.6h0M882.4 350.2h0M900.2 349.8h0M879.4 349.4h0M903.2 348.9h0M876.4 348.5h0M906.1 348.1h0M873.5 347.6h0M909.1 347.2h0M870.5 346.8h0M912.1 346.3h0M867.5 345.9h0M915 345.5h0M864.6 345h0M918 344.6h0M861.6 344.2h0M891.3 340.9h0M888.3 340.5h0M894.3 340h0M885.3 339.6h0M897.2 339.2h0M882.4 338.7h0M900.2 338.3h0M879.4 337.9h0M903.2 337.4h0M876.4 337h0M906.1 336.6h0M873.5 336.1h0M909.1 335.7h0M870.5 335.3h0M912.1 334.8h0M867.5 334.4h0M915 334h0M864.6 333.6h0M918 333.1h0M861.6 332.7h0M891.3 329.4h0M888.3 329h0M894.3 328.5h0M885.3 328.1h0M897.2 327.7h0M882.4 327.2h0M900.2 326.8h0M879.4 326.4h0M903.2 325.9h0M876.4 325.5h0M906.1 325.1h0M873.5 324.7h0M909.1 324.2h0M870.5 323.8h0M912.1 323.4h0M867.5 322.9h0M915 322.5h0M864.6 322.1h0M918 321.6h0M861.6 321.2h0M891.3 317.9h0M888.3 317.5h0M894.3 317h0M885.3 316.6h0M897.2 316.2h0M882.4 315.8h0M900.2 315.3h0M879.4 314.9h0M903.2 314.5h0M876.4 314h0M906.1 313.6h0M873.5 313.2h0M909.1 312.7h0M870.5 312.3h0M912.1 311.9h0M867.5 311.4h0M915 311h0M864.6 310.6h0M918 310.1h0M861.6 309.7h0M896.8 306h0M882.8 301.9h0M889.8 298.5h0M903.8 295.8h0M875.8 293h0M889.8 287.6h0M889.8 279.4h0M889.8 263h0M889.8 405.7h0M903.8 403.4h0M875.8 401.1h0M896.8 412.9h0M882.8 411.2h0M910.8 409.4h0M868.8 407.7h0M889.8 419.5h0M903.8 417.2h0M875.8 414.9h0M889.8 424.1h0M896.8 432.7h0M882.8 429.3h0" stroke="#0a30ff" stroke-width="7" stroke-linecap="round" fill="none"/>
<line x1="889.8" y1="329.6" x2="889.8" y2="387.1" stroke="#000" stroke-width="1.4" stroke-linecap="butt"/>
<line x1="873.8" y1="329.6" x2="905.8" y2="329.6" stroke="#000" stroke-width="1.4" stroke-linecap="butt"/>
<line x1="873.8" y1="387.1" x2="905.8" y2="387.1" stroke="#000" stroke-width="1.4" stroke-linecap="butt"/>
<line x1="858.1" y1="358.4" x2="921.5" y2="358.4" stroke="#000" stroke-width="3.8" stroke-linecap="butt"/>
<path d="M989.5 401.7l3.8 -6.8l3.8 6.8zM987 401.4l3.8 -6.8l3.8 6.8zM991.9 401.1l3.8 -6.8l3.8 6.8zM984.6 400.9l3.8 -6.8l3.8 6.8zM994.4 400.6l3.8 -6.8l3.8 6.8zM982.1 400.3l3.8 -6.8l3.8 6.8zM996.8 400l3.8 -6.8l3.8 6.8zM979.7 399.7l3.8 -6.8l3.8 6.8zM999.3 399.4l3.8 -6.8l3.8 6.8zM977.2 399.1l3.8 -6.8l3.8 6.8zM1001.7 398.8l3.8 -6.8l3.8 6.8zM974.8 398.6l3.8 -6.8l3.8 6.8zM1004.2 398.3l3.8 -6.8l3.8 6.8zM972.3 398l3.8 -6.8l3.8 6.8zM1006.6 397.7l3.8 -6.8l3.8 6.8zM969.9 397.4l3.8 -6.8l3.8 6.8zM1009.1 397.1l3.8 -6.8l3.8 6.8zM967.4 396.8l3.8 -6.8l3.8 6.8zM1011.5 396.5l3.8 -6.8l3.8 6.8zM965 396.2l3.8 -6.8l3.8 6.8zM1014 396l3.8 -6.8l3.8 6.8zM962.5 395.7l3.8 -6.8l3.8 6.8zM1016.5 395.4l3.8 -6.8l3.8 6.8zM960 395.1l3.8 -6.8l3.8 6.8zM989.5 392.5l3.8 -6.8l3.8 6.8zM987 392.2l3.8 -6.8l3.8 6.8zM991.9 391.9l3.8 -6.8l3.8 6.8zM984.6 391.6l3.8 -6.8l3.8 6.8zM994.4 391.3l3.8 -6.8l3.8 6.8zM982.1 391.1l3.8 -6.8l3.8 6.8zM996.8 390.8l3.8 -6.8l3.8 6.8zM979.7 390.5l3.8 -6.8l3.8 6.8zM999.3 390.2l3.8 -6.8l3.8 6.8zM977.2 389.9l3.8 -6.8l3.8 6.8zM1001.7 389.6l3.8 -6.8l3.8 6.8zM974.8 389.3l3.8 -6.8l3.8 6.8zM1004.2 389l3.8 -6.8l3.8 6.8zM972.3 388.7l3.8 -6.8l3.8 6.8zM1006.6 388.5l3.8 -6.8l3.8 6.8zM969.9 388.2l3.8 -6.8l3.8 6.8zM1009.1 387.9l3.8 -6.8l3.8 6.8zM967.4 387.6l3.8 -6.8l3.8 6.8zM1011.5 387.3l3.8 -6.8l3.8 6.8zM965 387l3.8 -6.8l3.8 6.8zM1014 386.7l3.8 -6.8l3.8 6.8zM962.5 386.4l3.8 -6.8l3.8 6.8zM1016.5 386.2l3.8 -6.8l3.8 6.8zM960 385.9l3.8 -6.8l3.8 6.8zM989.5 383.3l3.8 -6.8l3.8 6.8zM987 383l3.8 -6.8l3.8 6.8zM991.9 382.7l3.8 -6.8l3.8 6.8zM984.6 382.4l3.8 -6.8l3.8 6.8zM994.4 382.1l3.8 -6.8l3.8 6.8zM982.1 381.8l3.8 -6.8l3.8 6.8zM996.8 381.5l3.8 -6.8l3.8 6.8zM979.7 381.3l3.8 -6.8l3.8 6.8zM999.3 381l3.8 -6.8l3.8 6.8zM977.2 380.7l3.8 -6.8l3.8 6.8zM1001.7 380.4l3.8 -6.8l3.8 6.8zM974.8 380.1l3.8 -6.8l3.8 6.8zM1004.2 379.8l3.8 -6.8l3.8 6.8zM972.3 379.5l3.8 -6.8l3.8 6.8zM1006.6 379.2l3.8 -6.8l3.8 6.8zM969.9 378.9l3.8 -6.8l3.8 6.8zM1009.1 378.7l3.8 -6.8l3.8 6.8zM967.4 378.4l3.8 -6.8l3.8 6.8zM1011.5 378.1l3.8 -6.8l3.8 6.8zM965 377.8l3.8 -6.8l3.8 6.8zM1014 377.5l3.8 -6.8l3.8 6.8zM962.5 377.2l3.8 -6.8l3.8 6.8zM1016.5 376.9l3.8 -6.8l3.8 6.8zM960 376.6l3.8 -6.8l3.8 6.8zM989.5 374l3.8 -6.8l3.8 6.8zM987 373.8l3.8 -6.8l3.8 6.8zM991.9 373.5l3.8 -6.8l3.8 6.8zM984.6 373.2l3.8 -6.8l3.8 6.8zM994.4 372.9l3.8 -6.8l3.8 6.8zM982.1 372.6l3.8 -6.8l3.8 6.8zM996.8 372.3l3.8 -6.8l3.8 6.8zM979.7 372l3.8 -6.8l3.8 6.8zM999.3 371.7l3.8 -6.8l3.8 6.8zM977.2 371.4l3.8 -6.8l3.8 6.8zM1001.7 371.2l3.8 -6.8l3.8 6.8zM974.8 370.9l3.8 -6.8l3.8 6.8zM1004.2 370.6l3.8 -6.8l3.8 6.8zM972.3 370.3l3.8 -6.8l3.8 6.8zM1006.6 370l3.8 -6.8l3.8 6.8zM969.9 369.7l3.8 -6.8l3.8 6.8zM1009.1 369.4l3.8 -6.8l3.8 6.8zM967.4 369.1l3.8 -6.8l3.8 6.8zM1011.5 368.9l3.8 -6.8l3.8 6.8zM965 368.6l3.8 -6.8l3.8 6.8zM1014 368.3l3.8 -6.8l3.8 6.8zM962.5 368l3.8 -6.8l3.8 6.8zM1016.5 367.7l3.8 -6.8l3.8 6.8zM960 367.4l3.8 -6.8l3.8 6.8zM989.5 364.8l3.8 -6.8l3.8 6.8zM987 364.5l3.8 -6.8l3.8 6.8zM991.9 364.2l3.8 -6.8l3.8 6.8zM984.6 364l3.8 -6.8l3.8 6.8zM994.4 363.7l3.8 -6.8l3.8 6.8zM982.1 363.4l3.8 -6.8l3.8 6.8zM996.8 363.1l3.8 -6.8l3.8 6.8zM979.7 362.8l3.8 -6.8l3.8 6.8zM999.3 362.5l3.8 -6.8l3.8 6.8zM977.2 362.2l3.8 -6.8l3.8 6.8zM1001.7 361.9l3.8 -6.8l3.8 6.8zM974.8 361.6l3.8 -6.8l3.8 6.8zM1004.2 361.4l3.8 -6.8l3.8 6.8zM972.3 361.1l3.8 -6.8l3.8 6.8zM1006.6 360.8l3.8 -6.8l3.8 6.8zM969.9 360.5l3.8 -6.8l3.8 6.8zM1009.1 360.2l3.8 -6.8l3.8 6.8zM967.4 359.9l3.8 -6.8l3.8 6.8zM1011.5 359.6l3.8 -6.8l3.8 6.8zM965 359.3l3.8 -6.8l3.8 6.8zM1014 359l3.8 -6.8l3.8 6.8zM962.5 358.8l3.8 -6.8l3.8 6.8zM1016.5 358.5l3.8 -6.8l3.8 6.8zM960 358.2l3.8 -6.8l3.8 6.8zM989.5 355.6l3.8 -6.8l3.8 6.8zM987 355.3l3.8 -6.8l3.8 6.8zM991.9 355l3.8 -6.8l3.8 6.8zM984.6 354.7l3.8 -6.8l3.8 6.8zM994.4 354.4l3.8 -6.8l3.8 6.8zM982.1 354.1l3.8 -6.8l3.8 6.8zM996.8 353.9l3.8 -6.8l3.8 6.8zM979.7 353.6l3.8 -6.8l3.8 6.8zM999.3 353.3l3.8 -6.8l3.8 6.8zM977.2 353l3.8 -6.8l3.8 6.8zM1001.7 352.7l3.8 -6.8l3.8 6.8zM974.8 352.4l3.8 -6.8l3.8 6.8zM1004.2 352.1l3.8 -6.8l3.8 6.8zM972.3 351.8l3.8 -6.8l3.8 6.8zM1006.6 351.6l3.8 -6.8l3.8 6.8zM969.9 351.3l3.8 -6.8l3.8 6.8zM1009.1 351l3.8 -6.8l3.8 6.8zM967.4 350.7l3.8 -6.8l3.8 6.8zM1011.5 350.4l3.8 -6.8l3.8 6.8zM965 350.1l3.8 -6.8l3.8 6.8zM1014 349.8l3.8 -6.8l3.8 6.8zM962.5 349.5l3.8 -6.8l3.8 6.8zM1016.5 349.2l3.8 -6.8l3.8 6.8zM960 349l3.8 -6.8l3.8 6.8zM989.5 346.4l3.8 -6.8l3.8 6.8zM987 346.1l3.8 -6.8l3.8 6.8zM991.9 345.8l3.8 -6.8l3.8 6.8zM984.6 345.5l3.8 -6.8l3.8 6.8zM994.4 345.2l3.8 -6.8l3.8 6.8zM982.1 344.9l3.8 -6.8l3.8 6.8zM996.8 344.6l3.8 -6.8l3.8 6.8zM979.7 344.3l3.8 -6.8l3.8 6.8zM999.3 344.1l3.8 -6.8l3.8 6.8zM977.2 343.8l3.8 -6.8l3.8 6.8zM1001.7 343.5l3.8 -6.8l3.8 6.8zM974.8 343.2l3.8 -6.8l3.8 6.8zM1004.2 342.9l3.8 -6.8l3.8 6.8zM972.3 342.6l3.8 -6.8l3.8 6.8zM1006.6 342.3l3.8 -6.8l3.8 6.8zM969.9 342l3.8 -6.8l3.8 6.8zM1009.1 341.8l3.8 -6.8l3.8 6.8zM967.4 341.5l3.8 -6.8l3.8 6.8zM1011.5 341.2l3.8 -6.8l3.8 6.8zM965 340.9l3.8 -6.8l3.8 6.8zM1014 340.6l3.8 -6.8l3.8 6.8zM962.5 340.3l3.8 -6.8l3.8 6.8zM1016.5 340l3.8 -6.8l3.8 6.8zM960 339.7l3.8 -6.8l3.8 6.8zM988.2 337.3l3.8 -6.8l3.8 6.8zM997.6 336.6l3.8 -6.8l3.8 6.8zM978.9 335.9l3.8 -6.8l3.8 6.8zM1007 335.2l3.8 -6.8l3.8 6.8zM969.5 334.6l3.8 -6.8l3.8 6.8zM1016.5 333.9l3.8 -6.8l3.8 6.8zM960 333.2l3.8 -6.8l3.8 6.8zM988.2 330.9l3.8 -6.8l3.8 6.8zM997.6 330.2l3.8 -6.8l3.8 6.8zM978.9 329.5l3.8 -6.8l3.8 6.8zM1007 328.9l3.8 -6.8l3.8 6.8zM969.5 328.2l3.8 -6.8l3.8 6.8zM1016.5 327.5l3.8 -6.8l3.8 6.8zM960 326.8l3.8 -6.8l3.8 6.8zM995.2 324.9l3.8 -6.8l3.8 6.8zM981.2 323.3l3.8 -6.8l3.8 6.8zM1009.2 321.7l3.8 -6.8l3.8 6.8zM967.2 320.1l3.8 -6.8l3.8 6.8zM993.9 318.7l3.8 -6.8l3.8 6.8zM982.6 317.7l3.8 -6.8l3.8 6.8zM1005.2 316.6l3.8 -6.8l3.8 6.8zM971.3 315.5l3.8 -6.8l3.8 6.8zM1016.5 314.5l3.8 -6.8l3.8 6.8zM960 313.4l3.8 -6.8l3.8 6.8zM995.2 311.3l3.8 -6.8l3.8 6.8zM981.2 308.1l3.8 -6.8l3.8 6.8zM988.2 303.3l3.8 -6.8l3.8 6.8zM988.2 296.9l3.8 -6.8l3.8 6.8zM992.3 408.2l3.8 -6.8l3.8 6.8zM984.2 407.6l3.8 -6.8l3.8 6.8zM1000.3 407l3.8 -6.8l3.8 6.8zM976.2 406.4l3.8 -6.8l3.8 6.8zM1008.4 405.8l3.8 -6.8l3.8 6.8zM968.1 405.3l3.8 -6.8l3.8 6.8zM1016.5 404.7l3.8 -6.8l3.8 6.8zM960 404.1l3.8 -6.8l3.8 6.8zM995.2 414.7l3.8 -6.8l3.8 6.8zM981.2 413.1l3.8 -6.8l3.8 6.8zM1009.2 411.6l3.8 -6.8l3.8 6.8zM967.2 410l3.8 -6.8l3.8 6.8zM995.2 420.1l3.8 -6.8l3.8 6.8zM981.2 417l3.8 -6.8l3.8 6.8zM988.2 424.8l3.8 -6.8l3.8 6.8z" fill="#ff2000"/>
<line x1="992" y1="338" x2="992" y2="387.4" stroke="#000" stroke-width="1.4" stroke-linecap="butt"/>
<line x1="976" y1="338" x2="1008" y2="338" stroke="#000" stroke-width="1.4" stroke-linecap="butt"/>
<line x1="976" y1="387.4" x2="1008" y2="387.4" stroke="#000" stroke-width="1.4" stroke-linecap="butt"/>
<line x1="960" y1="362.4" x2="1024" y2="362.4" stroke="#000" stroke-width="3.8" stroke-linecap="butt"/>
<path d="M1091.2 412.3l4.5 -8.1l4.5 8.1zM1088.2 411.9l4.5 -8.1l4.5 8.1zM1094.2 411.4l4.5 -8.1l4.5 8.1zM1085.2 411l4.5 -8.1l4.5 8.1zM1097.1 410.6l4.5 -8.1l4.5 8.1zM1082.3 410.1l4.5 -8.1l4.5 8.1zM1100.1 409.7l4.5 -8.1l4.5 8.1zM1079.3 409.3l4.5 -8.1l4.5 8.1zM1103.1 408.8l4.5 -8.1l4.5 8.1zM1076.3 408.4l4.5 -8.1l4.5 8.1zM1106 408l4.5 -8.1l4.5 8.1zM1073.4 407.5l4.5 -8.1l4.5 8.1zM1109 407.1l4.5 -8.1l4.5 8.1zM1070.4 406.7l4.5 -8.1l4.5 8.1zM1112 406.2l4.5 -8.1l4.5 8.1zM1067.4 405.8l4.5 -8.1l4.5 8.1zM1114.9 405.4l4.5 -8.1l4.5 8.1zM1064.5 404.9l4.5 -8.1l4.5 8.1zM1117.9 404.5l4.5 -8.1l4.5 8.1zM1061.5 404.1l4.5 -8.1l4.5 8.1zM1091.2 400.8l4.5 -8.1l4.5 8.1zM1088.2 400.3l4.5 -8.1l4.5 8.1zM1094.2 399.9l4.5 -8.1l4.5 8.1zM1085.2 399.5l4.5 -8.1l4.5 8.1zM1097.1 399l4.5 -8.1l4.5 8.1zM1082.3 398.6l4.5 -8.1l4.5 8.1zM1100.1 398.2l4.5 -8.1l4.5 8.1zM1079.3 397.7l4.5 -8.1l4.5 8.1zM1103.1 397.3l4.5 -8.1l4.5 8.1zM1076.3 396.9l4.5 -8.1l4.5 8.1zM1106 396.4l4.5 -8.1l4.5 8.1zM1073.4 396l4.5 -8.1l4.5 8.1zM1109 395.6l4.5 -8.1l4.5 8.1zM1070.4 395.1l4.5 -8.1l4.5 8.1zM1112 394.7l4.5 -8.1l4.5 8.1zM1067.4 394.3l4.5 -8.1l4.5 8.1zM1114.9 393.8l4.5 -8.1l4.5 8.1zM1064.5 393.4l4.5 -8.1l4.5 8.1zM1117.9 393l4.5 -8.1l4.5 8.1zM1061.5 392.5l4.5 -8.1l4.5 8.1zM1091.2 389.2l4.5 -8.1l4.5 8.1zM1088.2 388.8l4.5 -8.1l4.5 8.1zM1094.2 388.4l4.5 -8.1l4.5 8.1zM1085.2 387.9l4.5 -8.1l4.5 8.1zM1097.1 387.5l4.5 -8.1l4.5 8.1zM1082.3 387.1l4.5 -8.1l4.5 8.1zM1100.1 386.6l4.5 -8.1l4.5 8.1zM1079.3 386.2l4.5 -8.1l4.5 8.1zM1103.1 385.8l4.5 -8.1l4.5 8.1zM1076.3 385.3l4.5 -8.1l4.5 8.1zM1106 384.9l4.5 -8.1l4.5 8.1zM1073.4 384.5l4.5 -8.1l4.5 8.1zM1109 384l4.5 -8.1l4.5 8.1zM1070.4 383.6l4.5 -8.1l4.5 8.1zM1112 383.2l4.5 -8.1l4.5 8.1zM1067.4 382.7l4.5 -8.1l4.5 8.1zM1114.9 382.3l4.5 -8.1l4.5 8.1zM1064.5 381.9l4.5 -8.1l4.5 8.1zM1117.9 381.4l4.5 -8.1l4.5 8.1zM1061.5 381l4.5 -8.1l4.5 8.1zM1091.2 377.7l4.5 -8.1l4.5 8.1zM1088.2 377.3l4.5 -8.1l4.5 8.1zM1094.2 376.8l4.5 -8.1l4.5 8.1zM1085.2 376.4l4.5 -8.1l4.5 8.1zM1097.1 376l4.5 -8.1l4.5 8.1zM1082.3 375.5l4.5 -8.1l4.5 8.1zM1100.1 375.1l4.5 -8.1l4.5 8.1zM1079.3 374.7l4.5 -8.1l4.5 8.1zM1103.1 374.2l4.5 -8.1l4.5 8.1zM1076.3 373.8l4.5 -8.1l4.5 8.1zM1106 373.4l4.5 -8.1l4.5 8.1zM1073.4 372.9l4.5 -8.1l4.5 8.1zM1109 372.5l4.5 -8.1l4.5 8.1zM1070.4 372.1l4.5 -8.1l4.5 8.1zM1112 371.6l4.5 -8.1l4.5 8.1zM1067.4 371.2l4.5 -8.1l4.5 8.1zM1114.9 370.8l4.5 -8.1l4.5 8.1zM1064.5 370.3l4.5 -8.1l4.5 8.1zM1117.9 369.9l4.5 -8.1l4.5 8.1zM1061.5 369.5l4.5 -8.1l4.5 8.1zM1091.2 366.2l4.5 -8.1l4.5 8.1zM1088.2 365.7l4.5 -8.1l4.5 8.1zM1094.2 365.3l4.5 -8.1l4.5 8.1zM1085.2 364.9l4.5 -8.1l4.5 8.1zM1097.1 364.4l4.5 -8.1l4.5 8.1zM1082.3 364l4.5 -8.1l4.5 8.1zM1100.1 363.6l4.5 -8.1l4.5 8.1zM1079.3 363.1l4.5 -8.1l4.5 8.1zM1103.1 362.7l4.5 -8.1l4.5 8.1zM1076.3 362.3l4.5 -8.1l4.5 8.1zM1106 361.8l4.5 -8.1l4.5 8.1zM1073.4 361.4l4.5 -8.1l4.5 8.1zM1109 361l4.5 -8.1l4.5 8.1zM1070.4 360.5l4.5 -8.1l4.5 8.1zM1112 360.1l4.5 -8.1l4.5 8.1zM1067.4 359.7l4.5 -8.1l4.5 8.1zM1114.9 359.2l4.5 -8.1l4.5 8.1zM1064.5 358.8l4.5 -8.1l4.5 8.1zM1117.9 358.4l4.5 -8.1l4.5 8.1zM1061.5 357.9l4.5 -8.1l4.5 8.1zM1091.2 354.6l4.5 -8.1l4.5 8.1zM1088.2 354.2l4.5 -8.1l4.5 8.1zM1094.2 353.8l4.5 -8.1l4.5 8.1zM1085.2 353.3l4.5 -8.1l4.5 8.1zM1097.1 352.9l4.5 -8.1l4.5 8.1zM1082.3 352.5l4.5 -8.1l4.5 8.1zM1100.1 352l4.5 -8.1l4.5 8.1zM1079.3 351.6l4.5 -8.1l4.5 8.1zM1103.1 351.2l4.5 -8.1l4.5 8.1zM1076.3 350.7l4.5 -8.1l4.5 8.1zM1106 350.3l4.5 -8.1l4.5 8.1zM1073.4 349.9l4.5 -8.1l4.5 8.1zM1109 349.4l4.5 -8.1l4.5 8.1zM1070.4 349l4.5 -8.1l4.5 8.1zM1112 348.6l4.5 -8.1l4.5 8.1zM1067.4 348.1l4.5 -8.1l4.5 8.1zM1114.9 347.7l4.5 -8.1l4.5 8.1zM1064.5 347.3l4.5 -8.1l4.5 8.1zM1117.9 346.8l4.5 -8.1l4.5 8.1zM1061.5 346.4l4.5 -8.1l4.5 8.1zM1091.2 343.1l4.5 -8.1l4.5 8.1zM1088.2 342.6l4.5 -8.1l4.5 8.1zM1094.2 342.2l4.5 -8.1l4.5 8.1zM1085.2 341.8l4.5 -8.1l4.5 8.1zM1097.1 341.4l4.5 -8.1l4.5 8.1zM1082.3 340.9l4.5 -8.1l4.5 8.1zM1100.1 340.5l4.5 -8.1l4.5 8.1zM1079.3 340.1l4.5 -8.1l4.5 8.1zM1103.1 339.6l4.5 -8.1l4.5 8.1zM1076.3 339.2l4.5 -8.1l4.5 8.1zM1106 338.8l4.5 -8.1l4.5 8.1zM1073.4 338.3l4.5 -8.1l4.5 8.1zM1109 337.9l4.5 -8.1l4.5 8.1zM1070.4 337.5l4.5 -8.1l4.5 8.1zM1112 337l4.5 -8.1l4.5 8.1zM1067.4 336.6l4.5 -8.1l4.5 8.1zM1114.9 336.2l4.5 -8.1l4.5 8.1zM1064.5 335.7l4.5 -8.1l4.5 8.1zM1117.9 335.3l4.5 -8.1l4.5 8.1zM1061.5 334.9l4.5 -8.1l4.5 8.1zM1091.2 331.5l4.5 -8.1l4.5 8.1zM1088.2 331.1l4.5 -8.1l4.5 8.1zM1094.2 330.7l4.5 -8.1l4.5 8.1zM1085.2 330.2l4.5 -8.1l4.5 8.1zM1097.1 329.8l4.5 -8.1l4.5 8.1zM1082.3 329.4l4.5 -8.1l4.5 8.1zM1100.1 328.9l4.5 -8.1l4.5 8.1zM1079.3 328.5l4.5 -8.1l4.5 8.1zM1103.1 328.1l4.5 -8.1l4.5 8.1zM1076.3 327.7l4.5 -8.1l4.5 8.1zM1106 327.2l4.5 -8.1l4.5 8.1zM1073.4 326.8l4.5 -8.1l4.5 8.1zM1109 326.4l4.5 -8.1l4.5 8.1zM1070.4 325.9l4.5 -8.1l4.5 8.1zM1112 325.5l4.5 -8.1l4.5 8.1zM1067.4 325.1l4.5 -8.1l4.5 8.1zM1114.9 324.6l4.5 -8.1l4.5 8.1zM1064.5 324.2l4.5 -8.1l4.5 8.1zM1117.9 323.8l4.5 -8.1l4.5 8.1zM1061.5 323.3l4.5 -8.1l4.5 8.1zM1091.2 320l4.5 -8.1l4.5 8.1zM1088.2 319.6l4.5 -8.1l4.5 8.1zM1094.2 319.1l4.5 -8.1l4.5 8.1zM1085.2 318.7l4.5 -8.1l4.5 8.1zM1097.1 318.3l4.5 -8.1l4.5 8.1zM1082.3 317.8l4.5 -8.1l4.5 8.1zM1100.1 317.4l4.5 -8.1l4.5 8.1zM1079.3 317l4.5 -8.1l4.5 8.1zM1103.1 316.5l4.5 -8.1l4.5 8.1zM1076.3 316.1l4.5 -8.1l4.5 8.1zM1106 315.7l4.5 -8.1l4.5 8.1zM1073.4 315.2l4.5 -8.1l4.5 8.1zM1109 314.8l4.5 -8.1l4.5 8.1zM1070.4 314.4l4.5 -8.1l4.5 8.1zM1112 314l4.5 -8.1l4.5 8.1zM1067.4 313.5l4.5 -8.1l4.5 8.1zM1114.9 313.1l4.5 -8.1l4.5 8.1zM1064.5 312.7l4.5 -8.1l4.5 8.1zM1117.9 312.2l4.5 -8.1l4.5 8.1zM1061.5 311.8l4.5 -8.1l4.5 8.1zM1096.7 308.1l4.5 -8.1l4.5 8.1zM1082.7 304l4.5 -8.1l4.5 8.1zM1089.7 300.6l4.5 -8.1l4.5 8.1zM1103.7 297.9l4.5 -8.1l4.5 8.1zM1075.7 295.2l4.5 -8.1l4.5 8.1zM1089.7 289.7l4.5 -8.1l4.5 8.1zM1089.7 257.1l4.5 -8.1l4.5 8.1zM1095.3 420.3l4.5 -8.1l4.5 8.1zM1084.1 419.2l4.5 -8.1l4.5 8.1zM1106.6 418l4.5 -8.1l4.5 8.1zM1072.8 416.9l4.5 -8.1l4.5 8.1zM1117.9 415.7l4.5 -8.1l4.5 8.1zM1061.5 414.5l4.5 -8.1l4.5 8.1zM1096.7 426.1l4.5 -8.1l4.5 8.1zM1082.7 422.7l4.5 -8.1l4.5 8.1zM1089.7 433.7l4.5 -8.1l4.5 8.1zM1103.7 431.3l4.5 -8.1l4.5 8.1zM1075.7 429l4.5 -8.1l4.5 8.1zM1089.7 438.3l4.5 -8.1l4.5 8.1z" fill="#0a30ff"/>
<line x1="1094.2" y1="333.6" x2="1094.2" y2="394.7" stroke="#000" stroke-width="1.4" stroke-linecap="butt"/>
<line x1="1078.2" y1="333.6" x2="1110.2" y2="333.6" stroke="#000" stroke-width="1.4" stroke-linecap="butt"/>
<line x1="1078.2" y1="394.7" x2="1110.2" y2="394.7" stroke="#000" stroke-width="1.4" stroke-linecap="butt"/>
<line x1="1061.5" y1="364" x2="1126.9" y2="364" stroke="#000" stroke-width="3.8" stroke-linecap="butt"/>
<path d="M782 68.6 L782 57.8 L1095.9 57.8 L1095.9 68.6" fill="none" stroke="#000" stroke-width="2.2" stroke-linecap="butt" stroke-linejoin="miter"/>
<text x="920.3" y="52.8" font-size="19.9" font-weight="bold" fill="#000" textLength="27.7" lengthAdjust="spacingAndGlyphs" >NS</text>
<path d="M782 99.7 L782 89.3 L996.3 89.3 L996.3 99.7" fill="none" stroke="#000" stroke-width="2.2" stroke-linecap="butt" stroke-linejoin="miter"/>
<text x="874.4" y="83.9" font-size="19.9" font-weight="bold" fill="#000" textLength="27.3" lengthAdjust="spacingAndGlyphs" >NS</text>
<path d="M881.7 133.7 L881.7 123.1 L1095.9 123.1 L1095.9 133.7" fill="none" stroke="#000" stroke-width="2.2" stroke-linecap="butt" stroke-linejoin="miter"/>
<text x="963.3" y="128.5" font-size="31.2" font-weight="bold" letter-spacing="1.56">****</text>
<path d="M990 160 L990 152.3 L1095.9 152.3 L1095.9 160" fill="none" stroke="#000" stroke-width="2.2" stroke-linecap="butt" stroke-linejoin="miter"/>
<text x="1028.3" y="147.4" font-size="19.9" font-weight="bold" fill="#000" textLength="27.3" lengthAdjust="spacingAndGlyphs" >NS</text>
<path d="M782 164 L782 153.2 L884.7 153.2 L884.7 164" fill="none" stroke="#000" stroke-width="2.2" stroke-linecap="butt" stroke-linejoin="miter"/>
<text x="809.4" y="157.8" font-size="31.7" font-weight="bold" letter-spacing="1.30">****</text>
<text x="770" y="516.5" font-size="23.5" font-weight="bold" fill="#000" textLength="34.8" lengthAdjust="spacingAndGlyphs" >WT</text>
<text x="871.8" y="516.5" font-size="23.5" font-weight="bold" fill="#000" textLength="35.8" lengthAdjust="spacingAndGlyphs" >KO</text>
<text x="974.7" y="516.5" font-size="23.5" font-weight="bold" fill="#000" textLength="34.7" lengthAdjust="spacingAndGlyphs" >WT</text>
<text x="1076.7" y="516.5" font-size="23.5" font-weight="bold" fill="#000" textLength="35.7" lengthAdjust="spacingAndGlyphs" >KO</text>
<line x1="756" y1="526.2" x2="920" y2="526.2" stroke="#000" stroke-width="3.6" stroke-linecap="round"/>
<line x1="961" y1="526.2" x2="1124.7" y2="526.2" stroke="#000" stroke-width="3.6" stroke-linecap="round"/>
<text x="806.3" y="553" font-size="23.5" font-weight="bold" fill="#000" textLength="60.3" lengthAdjust="spacingAndGlyphs" >SiCtrl</text>
<text x="992" y="556" font-size="23.5" font-weight="bold" fill="#000" textLength="97.9" lengthAdjust="spacingAndGlyphs" >SiBRCA2</text>
<text transform="translate(642.3 362.2) rotate(-90)" x="-1.7" y="0" font-size="27" font-weight="bold" textLength="180.5" lengthAdjust="spacingAndGlyphs"><tspan fill="#10c010">IdU</tspan><tspan fill="#000">/</tspan><tspan fill="#ff2000">CldU</tspan><tspan fill="#000"> Ratio</tspan></text>
<text x="1293.7" y="30.8" font-size="39" font-weight="bold" fill="#000" >c</text>
<line x1="1393.9" y1="54.9" x2="1393.9" y2="589.1" stroke="#000" stroke-width="2.2" stroke-linecap="butt"/>
<line x1="1392.8" y1="588" x2="1996.5" y2="588" stroke="#000" stroke-width="2.2" stroke-linecap="butt"/>
<line x1="1387.4" y1="588" x2="1393.9" y2="588" stroke="#000" stroke-width="2.2" stroke-linecap="butt"/>
<text x="1345.9" y="596.6" font-size="29.4" font-weight="bold" fill="#000" textLength="40" lengthAdjust="spacingAndGlyphs" >0.0</text>
<line x1="1387.4" y1="481.6" x2="1393.9" y2="481.6" stroke="#000" stroke-width="2.2" stroke-linecap="butt"/>
<text x="1345.5" y="490.2" font-size="29.4" font-weight="bold" fill="#000" textLength="40" lengthAdjust="spacingAndGlyphs" >0.5</text>
<line x1="1387.4" y1="375.2" x2="1393.9" y2="375.2" stroke="#000" stroke-width="2.2" stroke-linecap="butt"/>
<text x="1345.9" y="383.8" font-size="29.4" font-weight="bold" fill="#000" textLength="40" lengthAdjust="spacingAndGlyphs" >1.0</text>
<line x1="1387.4" y1="268.8" x2="1393.9" y2="268.8" stroke="#000" stroke-width="2.2" stroke-linecap="butt"/>
<text x="1345.5" y="277.3" font-size="29.4" font-weight="bold" fill="#000" textLength="40" lengthAdjust="spacingAndGlyphs" >1.5</text>
<line x1="1387.4" y1="162.4" x2="1393.9" y2="162.4" stroke="#000" stroke-width="2.2" stroke-linecap="butt"/>
<text x="1345.9" y="171" font-size="29.4" font-weight="bold" fill="#000" textLength="40" lengthAdjust="spacingAndGlyphs" >2.0</text>
<line x1="1387.4" y1="56" x2="1393.9" y2="56" stroke="#000" stroke-width="2.2" stroke-linecap="butt"/>
<text x="1345.5" y="64.6" font-size="29.4" font-weight="bold" fill="#000" textLength="40" lengthAdjust="spacingAndGlyphs" >2.5</text>
<line x1="1431.4" y1="588" x2="1431.4" y2="594.5" stroke="#000" stroke-width="2.2" stroke-linecap="butt"/>
<line x1="1506.5" y1="588" x2="1506.5" y2="594.5" stroke="#000" stroke-width="2.2" stroke-linecap="butt"/>
<line x1="1581.7" y1="588" x2="1581.7" y2="594.5" stroke="#000" stroke-width="2.2" stroke-linecap="butt"/>
<line x1="1657" y1="588" x2="1657" y2="594.5" stroke="#000" stroke-width="2.2" stroke-linecap="butt"/>
<line x1="1732.7" y1="588" x2="1732.7" y2="594.5" stroke="#000" stroke-width="2.2" stroke-linecap="butt"/>
<line x1="1808.3" y1="588" x2="1808.3" y2="594.5" stroke="#000" stroke-width="2.2" stroke-linecap="butt"/>
<line x1="1883.3" y1="588" x2="1883.3" y2="594.5" stroke="#000" stroke-width="2.2" stroke-linecap="butt"/>
<line x1="1958.6" y1="588" x2="1958.6" y2="594.5" stroke="#000" stroke-width="2.2" stroke-linecap="butt"/>
<path d="M1433.2 419.9h0M1429.6 419h0M1436.9 418.2h0M1425.9 417.3h0M1440.6 416.5h0M1422.2 415.6h0M1444.3 414.8h0M1418.5 413.9h0M1448 413h0M1414.8 412.2h0M1451.7 411.3h0M1411.1 410.5h0M1433.2 406.2h0M1429.6 405.4h0M1436.9 404.5h0M1425.9 403.6h0M1440.6 402.8h0M1422.2 401.9h0M1444.3 401.1h0M1418.5 400.2h0M1448 399.4h0M1414.8 398.5h0M1451.7 397.7h0M1411.1 396.8h0M1433.2 392.5h0M1429.6 391.7h0M1436.9 390.8h0M1425.9 390h0M1440.6 389.1h0M1422.2 388.3h0M1444.3 387.4h0M1418.5 386.6h0M1448 385.7h0M1414.8 384.8h0M1451.7 384h0M1411.1 383.1h0M1433.2 378.9h0M1429.6 378h0M1436.9 377.2h0M1425.9 376.3h0M1440.6 375.4h0M1422.2 374.6h0M1444.3 373.7h0M1418.5 372.9h0M1448 372h0M1414.8 371.2h0M1451.7 370.3h0M1411.1 369.5h0M1433.2 365.2h0M1429.6 364.3h0M1436.9 363.5h0M1425.9 362.6h0M1440.6 361.8h0M1422.2 360.9h0M1444.3 360.1h0M1418.5 359.2h0M1448 358.4h0M1414.8 357.5h0M1451.7 356.6h0M1411.1 355.8h0M1433.2 351.5h0M1429.6 350.7h0M1436.9 349.8h0M1425.9 349h0M1440.6 348.1h0M1422.2 347.2h0M1444.3 346.4h0M1418.5 345.5h0M1448 344.7h0M1414.8 343.8h0M1451.7 343h0M1411.1 342.1h0M1433.2 337.8h0M1429.6 337h0M1436.9 336.1h0M1425.9 335.3h0M1440.6 334.4h0M1422.2 333.6h0M1444.3 332.7h0M1418.5 331.9h0M1448 331h0M1414.8 330.2h0M1451.7 329.3h0M1411.1 328.4h0M1433.2 324.2h0M1429.6 323.3h0M1436.9 322.5h0M1425.9 321.6h0M1440.6 320.8h0M1422.2 319.9h0M1444.3 319h0M1418.5 318.2h0M1448 317.3h0M1414.8 316.5h0M1451.7 315.6h0M1411.1 314.8h0M1438.2 296.2h0M1424.6 292.5h0M1451.7 288.9h0M1411.1 285.2h0M1431.4 276.1h0M1431.4 436.1h0M1441.6 432.9h0M1421.2 429.8h0M1451.7 426.7h0M1411.1 423.6h0M1439.9 449.3h0M1422.9 441.5h0M1431.4 461h0" stroke="#ff2000" stroke-width="9" stroke-linecap="round" fill="none"/>
<line x1="1431.4" y1="354.3" x2="1431.4" y2="396.9" stroke="#000" stroke-width="2.2" stroke-linecap="butt"/>
<line x1="1418.4" y1="354.3" x2="1444.4" y2="354.3" stroke="#000" stroke-width="2.2" stroke-linecap="butt"/>
<line x1="1418.4" y1="396.9" x2="1444.4" y2="396.9" stroke="#000" stroke-width="2.2" stroke-linecap="butt"/>
<line x1="1406.6" y1="375.2" x2="1456.2" y2="375.2" stroke="#000" stroke-width="5.7" stroke-linecap="butt"/>
<path d="M1508.3 429.8h0M1504.7 428.9h0M1512 428h0M1501 427.1h0M1515.7 426.3h0M1497.3 425.4h0M1519.4 424.5h0M1493.6 423.6h0M1523.1 422.7h0M1489.9 421.8h0M1526.8 420.9h0M1486.2 420h0M1508.3 415.6h0M1504.7 414.7h0M1512 413.8h0M1501 412.9h0M1515.7 412.1h0M1497.3 411.2h0M1519.4 410.3h0M1493.6 409.4h0M1523.1 408.5h0M1489.9 407.6h0M1526.8 406.7h0M1486.2 405.8h0M1508.3 401.4h0M1504.7 400.5h0M1512 399.6h0M1501 398.8h0M1515.7 397.9h0M1497.3 397h0M1519.4 396.1h0M1493.6 395.2h0M1523.1 394.3h0M1489.9 393.4h0M1526.8 392.5h0M1486.2 391.7h0M1508.3 387.2h0M1504.7 386.3h0M1512 385.4h0M1501 384.6h0M1515.7 383.7h0M1497.3 382.8h0M1519.4 381.9h0M1493.6 381h0M1523.1 380.1h0M1489.9 379.2h0M1526.8 378.3h0M1486.2 377.5h0M1508.3 373h0M1504.7 372.1h0M1512 371.3h0M1501 370.4h0M1515.7 369.5h0M1497.3 368.6h0M1519.4 367.7h0M1493.6 366.8h0M1523.1 365.9h0M1489.9 365h0M1526.8 364.2h0M1486.2 363.3h0M1508.3 358.8h0M1504.7 357.9h0M1512 357.1h0M1501 356.2h0M1515.7 355.3h0M1497.3 354.4h0M1519.4 353.5h0M1493.6 352.6h0M1523.1 351.7h0M1489.9 350.8h0M1526.8 350h0M1486.2 349.1h0M1508.3 344.6h0M1504.7 343.8h0M1512 342.9h0M1501 342h0M1515.7 341.1h0M1497.3 340.2h0M1519.4 339.3h0M1493.6 338.4h0M1523.1 337.5h0M1489.9 336.7h0M1526.8 335.8h0M1486.2 334.9h0M1508.3 330.4h0M1504.7 329.6h0M1512 328.7h0M1501 327.8h0M1515.7 326.9h0M1497.3 326h0M1519.4 325.1h0M1493.6 324.2h0M1523.1 323.3h0M1489.9 322.5h0M1526.8 321.6h0M1486.2 320.7h0M1508.3 316.2h0M1504.7 315.4h0M1512 314.5h0M1501 313.6h0M1515.7 312.7h0M1497.3 311.8h0M1519.4 310.9h0M1493.6 310h0M1523.1 309.2h0M1489.9 308.3h0M1526.8 307.4h0M1486.2 306.5h0M1508.3 302.1h0M1504.7 301.2h0M1512 300.3h0M1501 299.4h0M1515.7 298.5h0M1497.3 297.6h0M1519.4 296.7h0M1493.6 295.8h0M1523.1 295h0M1489.9 294.1h0M1526.8 293.2h0M1486.2 292.3h0M1506.5 285.3h0M1513.3 445.2h0M1499.7 441.5h0M1526.8 437.7h0M1486.2 433.9h0M1506.5 469.8h0" stroke="#ff2000" stroke-width="9" stroke-linecap="round" fill="none"/>
<line x1="1506.5" y1="359.2" x2="1506.5" y2="397.5" stroke="#000" stroke-width="2.2" stroke-linecap="butt"/>
<line x1="1493.5" y1="359.2" x2="1519.5" y2="359.2" stroke="#000" stroke-width="2.2" stroke-linecap="butt"/>
<line x1="1493.5" y1="397.5" x2="1519.5" y2="397.5" stroke="#000" stroke-width="2.2" stroke-linecap="butt"/>
<line x1="1481.7" y1="376.3" x2="1531.3" y2="376.3" stroke="#000" stroke-width="5.7" stroke-linecap="butt"/>
<path d="M1581.7 472h0M1586.8 470.8h0M1576.6 469.6h0M1591.9 468.5h0M1571.5 467.3h0M1596.9 466.1h0M1566.5 464.9h0M1602 463.8h0M1561.4 462.6h0M1581.7 457.9h0M1586.8 456.7h0M1576.6 455.5h0M1591.9 454.3h0M1571.5 453.1h0M1596.9 452h0M1566.5 450.8h0M1602 449.6h0M1561.4 448.4h0M1581.7 443.7h0M1586.8 442.5h0M1576.6 441.3h0M1591.9 440.2h0M1571.5 439h0M1596.9 437.8h0M1566.5 436.6h0M1602 435.4h0M1561.4 434.3h0M1581.7 429.6h0M1586.8 428.4h0M1576.6 427.2h0M1591.9 426h0M1571.5 424.8h0M1596.9 423.7h0M1566.5 422.5h0M1602 421.3h0M1561.4 420.1h0M1583.5 415.6h0M1579.9 414.7h0M1587.2 413.9h0M1576.2 413h0M1590.9 412.1h0M1572.5 411.3h0M1594.6 410.4h0M1568.8 409.5h0M1598.3 408.7h0M1565.1 407.8h0M1602 406.9h0M1561.4 406.1h0M1583.5 401.7h0M1579.9 400.9h0M1587.2 400h0M1576.2 399.1h0M1590.9 398.3h0M1572.5 397.4h0M1594.6 396.5h0M1568.8 395.7h0M1598.3 394.8h0M1565.1 393.9h0M1602 393.1h0M1561.4 392.2h0M1583.5 387.9h0M1579.9 387h0M1587.2 386.1h0M1576.2 385.3h0M1590.9 384.4h0M1572.5 383.5h0M1594.6 382.7h0M1568.8 381.8h0M1598.3 380.9h0M1565.1 380.1h0M1602 379.2h0M1561.4 378.3h0M1583.5 374h0M1579.9 373.1h0M1587.2 372.3h0M1576.2 371.4h0M1590.9 370.5h0M1572.5 369.7h0M1594.6 368.8h0M1568.8 367.9h0M1598.3 367.1h0M1565.1 366.2h0M1602 365.3h0M1561.4 364.5h0M1583.5 360.1h0M1579.9 359.3h0M1587.2 358.4h0M1576.2 357.5h0M1590.9 356.7h0M1572.5 355.8h0M1594.6 354.9h0M1568.8 354.1h0M1598.3 353.2h0M1565.1 352.3h0M1602 351.5h0M1561.4 350.6h0M1583.5 346.3h0M1579.9 345.4h0M1587.2 344.5h0M1576.2 343.7h0M1590.9 342.8h0M1572.5 341.9h0M1594.6 341.1h0M1568.8 340.2h0M1598.3 339.4h0M1565.1 338.5h0M1602 337.6h0M1561.4 336.8h0M1583.5 332.4h0M1579.9 331.6h0M1587.2 330.7h0M1576.2 329.8h0M1590.9 329h0M1572.5 328.1h0M1594.6 327.2h0M1568.8 326.4h0M1598.3 325.5h0M1565.1 324.6h0M1602 323.8h0M1561.4 322.9h0M1581.7 318.7h0M1588.5 317.5h0M1574.9 316.3h0M1595.2 315.1h0M1568.2 313.9h0M1602 312.7h0M1561.4 311.5h0M1581.7 307.6h0M1598.7 303.9h0M1564.7 300.2h0M1581.7 296.4h0M1598.7 292.7h0M1564.7 289h0M1590.2 284.3h0M1573.2 278.7h0M1581.7 259.1h0M1581.7 247.9h0M1581.7 236.7h0M1581.7 225.5h0M1581.7 487.8h0" stroke="#ff2000" stroke-width="9" stroke-linecap="round" fill="none"/>
<line x1="1581.7" y1="352.9" x2="1581.7" y2="401.8" stroke="#000" stroke-width="2.2" stroke-linecap="butt"/>
<line x1="1568.7" y1="352.9" x2="1594.7" y2="352.9" stroke="#000" stroke-width="2.2" stroke-linecap="butt"/>
<line x1="1568.7" y1="401.8" x2="1594.7" y2="401.8" stroke="#000" stroke-width="2.2" stroke-linecap="butt"/>
<line x1="1556.9" y1="376.3" x2="1606.5" y2="376.3" stroke="#000" stroke-width="5.7" stroke-linecap="butt"/>
<path d="M1658.8 449.6h0M1655.2 448.7h0M1662.5 447.8h0M1651.5 446.9h0M1666.2 446h0M1647.8 445.1h0M1669.9 444.2h0M1644.1 443.3h0M1673.6 442.4h0M1640.4 441.5h0M1677.3 440.6h0M1636.7 439.7h0M1658.8 435.3h0M1655.2 434.4h0M1662.5 433.5h0M1651.5 432.6h0M1666.2 431.7h0M1647.8 430.8h0M1669.9 429.9h0M1644.1 429h0M1673.6 428.1h0M1640.4 427.2h0M1677.3 426.3h0M1636.7 425.4h0M1658.8 421h0M1655.2 420.1h0M1662.5 419.2h0M1651.5 418.3h0M1666.2 417.4h0M1647.8 416.5h0M1669.9 415.6h0M1644.1 414.7h0M1673.6 413.8h0M1640.4 412.9h0M1677.3 412h0M1636.7 411.1h0M1658.8 406.7h0M1655.2 405.8h0M1662.5 404.9h0M1651.5 404h0M1666.2 403.1h0M1647.8 402.2h0M1669.9 401.3h0M1644.1 400.4h0M1673.6 399.5h0M1640.4 398.6h0M1677.3 397.7h0M1636.7 396.8h0M1658.8 392.4h0M1655.2 391.5h0M1662.5 390.6h0M1651.5 389.7h0M1666.2 388.8h0M1647.8 387.9h0M1669.9 387h0M1644.1 386.1h0M1673.6 385.2h0M1640.4 384.3h0M1677.3 383.4h0M1636.7 382.5h0M1658.8 378.1h0M1655.2 377.2h0M1662.5 376.3h0M1651.5 375.4h0M1666.2 374.5h0M1647.8 373.6h0M1669.9 372.7h0M1644.1 371.8h0M1673.6 370.9h0M1640.4 370h0M1677.3 369.1h0M1636.7 368.2h0M1658.8 363.8h0M1655.2 362.9h0M1662.5 362h0M1651.5 361.1h0M1666.2 360.2h0M1647.8 359.3h0M1669.9 358.4h0M1644.1 357.5h0M1673.6 356.6h0M1640.4 355.7h0M1677.3 354.8h0M1636.7 353.9h0M1658.8 349.5h0M1655.2 348.6h0M1662.5 347.7h0M1651.5 346.8h0M1666.2 345.9h0M1647.8 345h0M1669.9 344.1h0M1644.1 343.2h0M1673.6 342.3h0M1640.4 341.4h0M1677.3 340.5h0M1636.7 339.6h0M1658.8 335.2h0M1655.2 334.3h0M1662.5 333.4h0M1651.5 332.5h0M1666.2 331.6h0M1647.8 330.7h0M1669.9 329.8h0M1644.1 328.9h0M1673.6 328h0M1640.4 327.1h0M1677.3 326.2h0M1636.7 325.3h0M1658.8 320.9h0M1655.2 320h0M1662.5 319.1h0M1651.5 318.2h0M1666.2 317.3h0M1647.8 316.4h0M1669.9 315.5h0M1644.1 314.6h0M1673.6 313.7h0M1640.4 312.8h0M1677.3 311.9h0M1636.7 311h0M1663.8 307.4h0M1650.2 304.7h0M1677.3 302h0M1636.7 299.2h0M1657 292.4h0M1657 281.5h0M1657 259.6h0M1657 252.4h0M1674 248.7h0M1640 245.1h0" stroke="#ff2000" stroke-width="9" stroke-linecap="round" fill="none"/>
<line x1="1657" y1="355" x2="1657" y2="398.6" stroke="#000" stroke-width="2.2" stroke-linecap="butt"/>
<line x1="1644" y1="355" x2="1670" y2="355" stroke="#000" stroke-width="2.2" stroke-linecap="butt"/>
<line x1="1644" y1="398.6" x2="1670" y2="398.6" stroke="#000" stroke-width="2.2" stroke-linecap="butt"/>
<line x1="1632.2" y1="374.1" x2="1681.8" y2="374.1" stroke="#000" stroke-width="5.7" stroke-linecap="butt"/>
<path d="M1734.5 479.5h0M1730.9 478.7h0M1738.2 477.9h0M1727.2 477h0M1741.9 476.2h0M1723.5 475.4h0M1745.6 474.5h0M1719.8 473.7h0M1749.3 472.9h0M1716.1 472h0M1753 471.2h0M1712.4 470.4h0M1734.5 466.2h0M1730.9 465.4h0M1738.2 464.6h0M1727.2 463.7h0M1741.9 462.9h0M1723.5 462.1h0M1745.6 461.2h0M1719.8 460.4h0M1749.3 459.6h0M1716.1 458.7h0M1753 457.9h0M1712.4 457.1h0M1734.5 452.9h0M1730.9 452.1h0M1738.2 451.3h0M1727.2 450.4h0M1741.9 449.6h0M1723.5 448.8h0M1745.6 447.9h0M1719.8 447.1h0M1749.3 446.3h0M1716.1 445.4h0M1753 444.6h0M1712.4 443.8h0M1734.5 439.6h0M1730.9 438.8h0M1738.2 438h0M1727.2 437.1h0M1741.9 436.3h0M1723.5 435.5h0M1745.6 434.6h0M1719.8 433.8h0M1749.3 433h0M1716.1 432.1h0M1753 431.3h0M1712.4 430.5h0M1734.5 426.3h0M1730.9 425.5h0M1738.2 424.7h0M1727.2 423.8h0M1741.9 423h0M1723.5 422.2h0M1745.6 421.3h0M1719.8 420.5h0M1749.3 419.7h0M1716.1 418.8h0M1753 418h0M1712.4 417.2h0M1734.5 413h0M1730.9 412.2h0M1738.2 411.4h0M1727.2 410.5h0M1741.9 409.7h0M1723.5 408.9h0M1745.6 408h0M1719.8 407.2h0M1749.3 406.4h0M1716.1 405.5h0M1753 404.7h0M1712.4 403.9h0M1734.5 399.7h0M1730.9 398.9h0M1738.2 398.1h0M1727.2 397.2h0M1741.9 396.4h0M1723.5 395.6h0M1745.6 394.7h0M1719.8 393.9h0M1749.3 393.1h0M1716.1 392.2h0M1753 391.4h0M1712.4 390.6h0M1734.5 386.4h0M1730.9 385.6h0M1738.2 384.8h0M1727.2 383.9h0M1741.9 383.1h0M1723.5 382.3h0M1745.6 381.4h0M1719.8 380.6h0M1749.3 379.8h0M1716.1 378.9h0M1753 378.1h0M1712.4 377.3h0M1739.5 373.2h0M1725.9 369.2h0M1753 365.2h0M1712.4 361.2h0M1741.2 355.2h0M1724.2 347.3h0M1732.7 335.3h0M1732.7 319.3h0M1739.5 491.8h0M1725.9 488.9h0M1753 486h0M1712.4 483.1h0M1741.2 502.1h0M1724.2 496.2h0" stroke="#0a30ff" stroke-width="9" stroke-linecap="round" fill="none"/>
<line x1="1732.7" y1="409.2" x2="1732.7" y2="449.7" stroke="#000" stroke-width="2.2" stroke-linecap="butt"/>
<line x1="1719.7" y1="409.2" x2="1745.7" y2="409.2" stroke="#000" stroke-width="2.2" stroke-linecap="butt"/>
<line x1="1719.7" y1="449.7" x2="1745.7" y2="449.7" stroke="#000" stroke-width="2.2" stroke-linecap="butt"/>
<line x1="1707.9" y1="430.5" x2="1757.5" y2="430.5" stroke="#000" stroke-width="5.7" stroke-linecap="butt"/>
<path d="M1810.1 432.6h0M1806.5 431.8h0M1813.8 430.9h0M1802.8 430.1h0M1817.5 429.2h0M1799.1 428.4h0M1821.2 427.5h0M1795.4 426.6h0M1824.9 425.8h0M1791.7 424.9h0M1828.6 424.1h0M1788 423.2h0M1810.1 418.9h0M1806.5 418.1h0M1813.8 417.2h0M1802.8 416.4h0M1817.5 415.5h0M1799.1 414.6h0M1821.2 413.8h0M1795.4 412.9h0M1824.9 412.1h0M1791.7 411.2h0M1828.6 410.4h0M1788 409.5h0M1810.1 405.2h0M1806.5 404.4h0M1813.8 403.5h0M1802.8 402.6h0M1817.5 401.8h0M1799.1 400.9h0M1821.2 400.1h0M1795.4 399.2h0M1824.9 398.4h0M1791.7 397.5h0M1828.6 396.6h0M1788 395.8h0M1810.1 391.5h0M1806.5 390.6h0M1813.8 389.8h0M1802.8 388.9h0M1817.5 388.1h0M1799.1 387.2h0M1821.2 386.4h0M1795.4 385.5h0M1824.9 384.6h0M1791.7 383.8h0M1828.6 382.9h0M1788 382.1h0M1810.1 377.8h0M1806.5 376.9h0M1813.8 376.1h0M1802.8 375.2h0M1817.5 374.4h0M1799.1 373.5h0M1821.2 372.6h0M1795.4 371.8h0M1824.9 370.9h0M1791.7 370.1h0M1828.6 369.2h0M1788 368.4h0M1810.1 364.1h0M1806.5 363.2h0M1813.8 362.4h0M1802.8 361.5h0M1817.5 360.6h0M1799.1 359.8h0M1821.2 358.9h0M1795.4 358.1h0M1824.9 357.2h0M1791.7 356.4h0M1828.6 355.5h0M1788 354.6h0M1810.1 350.4h0M1806.5 349.5h0M1813.8 348.6h0M1802.8 347.8h0M1817.5 346.9h0M1799.1 346.1h0M1821.2 345.2h0M1795.4 344.4h0M1824.9 343.5h0M1791.7 342.6h0M1828.6 341.8h0M1788 340.9h0M1810.1 336.6h0M1806.5 335.8h0M1813.8 334.9h0M1802.8 334.1h0M1817.5 333.2h0M1799.1 332.4h0M1821.2 331.5h0M1795.4 330.6h0M1824.9 329.8h0M1791.7 328.9h0M1828.6 328.1h0M1788 327.2h0M1810.1 322.9h0M1806.5 322.1h0M1813.8 321.2h0M1802.8 320.4h0M1817.5 319.5h0M1799.1 318.6h0M1821.2 317.8h0M1795.4 316.9h0M1824.9 316.1h0M1791.7 315.2h0M1828.6 314.4h0M1788 313.5h0M1808.3 309.8h0M1818.5 306.7h0M1798.1 303.6h0M1828.6 300.6h0M1788 297.5h0M1808.3 293.4h0M1825.3 288.2h0M1791.3 283.1h0M1816.8 276.6h0M1799.8 268.9h0M1816.8 261.2h0M1799.8 253.5h0M1808.3 444.8h0M1825.3 440.8h0M1791.3 436.8h0M1808.3 452.9h0M1808.3 501.1h0" stroke="#0a30ff" stroke-width="9" stroke-linecap="round" fill="none"/>
<line x1="1808.3" y1="356" x2="1808.3" y2="398.6" stroke="#000" stroke-width="2.2" stroke-linecap="butt"/>
<line x1="1795.3" y1="356" x2="1821.3" y2="356" stroke="#000" stroke-width="2.2" stroke-linecap="butt"/>
<line x1="1795.3" y1="398.6" x2="1821.3" y2="398.6" stroke="#000" stroke-width="2.2" stroke-linecap="butt"/>
<line x1="1783.5" y1="374.1" x2="1833.1" y2="374.1" stroke="#000" stroke-width="5.7" stroke-linecap="butt"/>
<path d="M1885.1 445.4h0M1881.5 444.6h0M1888.8 443.7h0M1877.8 442.9h0M1892.5 442h0M1874.1 441.2h0M1896.2 440.3h0M1870.4 439.5h0M1899.9 438.6h0M1866.7 437.8h0M1903.6 436.9h0M1863 436.1h0M1885.1 431.8h0M1881.5 431h0M1888.8 430.1h0M1877.8 429.3h0M1892.5 428.4h0M1874.1 427.5h0M1896.2 426.7h0M1870.4 425.8h0M1899.9 425h0M1866.7 424.1h0M1903.6 423.3h0M1863 422.4h0M1885.1 418.2h0M1881.5 417.3h0M1888.8 416.5h0M1877.8 415.6h0M1892.5 414.8h0M1874.1 413.9h0M1896.2 413.1h0M1870.4 412.2h0M1899.9 411.4h0M1866.7 410.5h0M1903.6 409.7h0M1863 408.8h0M1885.1 404.6h0M1881.5 403.7h0M1888.8 402.9h0M1877.8 402h0M1892.5 401.2h0M1874.1 400.3h0M1896.2 399.5h0M1870.4 398.6h0M1899.9 397.8h0M1866.7 396.9h0M1903.6 396.1h0M1863 395.2h0M1885.1 390.9h0M1881.5 390.1h0M1888.8 389.2h0M1877.8 388.4h0M1892.5 387.5h0M1874.1 386.7h0M1896.2 385.8h0M1870.4 385h0M1899.9 384.1h0M1866.7 383.3h0M1903.6 382.4h0M1863 381.6h0M1885.1 377.3h0M1881.5 376.5h0M1888.8 375.6h0M1877.8 374.8h0M1892.5 373.9h0M1874.1 373.1h0M1896.2 372.2h0M1870.4 371.4h0M1899.9 370.5h0M1866.7 369.7h0M1903.6 368.8h0M1863 368h0M1885.1 363.7h0M1881.5 362.9h0M1888.8 362h0M1877.8 361.2h0M1892.5 360.3h0M1874.1 359.5h0M1896.2 358.6h0M1870.4 357.8h0M1899.9 356.9h0M1866.7 356h0M1903.6 355.2h0M1863 354.3h0M1885.1 350.1h0M1881.5 349.2h0M1888.8 348.4h0M1877.8 347.5h0M1892.5 346.7h0M1874.1 345.8h0M1896.2 345h0M1870.4 344.1h0M1899.9 343.3h0M1866.7 342.4h0M1903.6 341.6h0M1863 340.7h0M1885.1 336.5h0M1881.5 335.6h0M1888.8 334.8h0M1877.8 333.9h0M1892.5 333.1h0M1874.1 332.2h0M1896.2 331.4h0M1870.4 330.5h0M1899.9 329.7h0M1866.7 328.8h0M1903.6 328h0M1863 327.1h0M1885.1 322.9h0M1881.5 322h0M1888.8 321.1h0M1877.8 320.3h0M1892.5 319.4h0M1874.1 318.6h0M1896.2 317.7h0M1870.4 316.9h0M1899.9 316h0M1866.7 315.2h0M1903.6 314.3h0M1863 313.5h0M1887.4 310.2h0M1879.2 308h0M1895.5 305.8h0M1871.1 303.6h0M1903.6 301.3h0M1863 299.1h0M1890.1 296.3h0M1876.5 293h0M1903.6 289.6h0M1863 286.3h0M1883.3 282.4h0M1900.3 277.9h0M1866.3 273.5h0M1883.3 264.5h0M1883.3 237.8h0M1883.3 224.4h0M1890.1 458.7h0M1876.5 455.5h0M1903.6 452.3h0M1863 449.1h0M1891.8 469.9h0M1874.8 463.5h0" stroke="#0a30ff" stroke-width="9" stroke-linecap="round" fill="none"/>
<line x1="1883.3" y1="349.7" x2="1883.3" y2="398.6" stroke="#000" stroke-width="2.2" stroke-linecap="butt"/>
<line x1="1870.3" y1="349.7" x2="1896.3" y2="349.7" stroke="#000" stroke-width="2.2" stroke-linecap="butt"/>
<line x1="1870.3" y1="398.6" x2="1896.3" y2="398.6" stroke="#000" stroke-width="2.2" stroke-linecap="butt"/>
<line x1="1858.5" y1="379.5" x2="1908.1" y2="379.5" stroke="#000" stroke-width="5.7" stroke-linecap="butt"/>
<path d="M1960.4 449.7h0M1956.8 448.9h0M1964.1 448.1h0M1953.1 447.2h0M1967.8 446.4h0M1949.4 445.6h0M1971.5 444.7h0M1945.7 443.9h0M1975.2 443h0M1942 442.2h0M1978.9 441.4h0M1938.3 440.5h0M1960.4 436.4h0M1956.8 435.5h0M1964.1 434.7h0M1953.1 433.9h0M1967.8 433h0M1949.4 432.2h0M1971.5 431.4h0M1945.7 430.5h0M1975.2 429.7h0M1942 428.9h0M1978.9 428h0M1938.3 427.2h0M1960.4 423h0M1956.8 422.2h0M1964.1 421.4h0M1953.1 420.5h0M1967.8 419.7h0M1949.4 418.9h0M1971.5 418h0M1945.7 417.2h0M1975.2 416.4h0M1942 415.5h0M1978.9 414.7h0M1938.3 413.8h0M1960.4 409.7h0M1956.8 408.8h0M1964.1 408h0M1953.1 407.2h0M1967.8 406.3h0M1949.4 405.5h0M1971.5 404.7h0M1945.7 403.8h0M1975.2 403h0M1942 402.2h0M1978.9 401.3h0M1938.3 400.5h0M1960.4 396.3h0M1956.8 395.5h0M1964.1 394.7h0M1953.1 393.8h0M1967.8 393h0M1949.4 392.2h0M1971.5 391.3h0M1945.7 390.5h0M1975.2 389.7h0M1942 388.8h0M1978.9 388h0M1938.3 387.2h0M1960.4 383h0M1956.8 382.1h0M1964.1 381.3h0M1953.1 380.5h0M1967.8 379.6h0M1949.4 378.8h0M1971.5 378h0M1945.7 377.1h0M1975.2 376.3h0M1942 375.5h0M1978.9 374.6h0M1938.3 373.8h0M1960.4 369.6h0M1956.8 368.8h0M1964.1 368h0M1953.1 367.1h0M1967.8 366.3h0M1949.4 365.5h0M1971.5 364.6h0M1945.7 363.8h0M1975.2 363h0M1942 362.1h0M1978.9 361.3h0M1938.3 360.5h0M1960.4 356.3h0M1956.8 355.4h0M1964.1 354.6h0M1953.1 353.8h0M1967.8 352.9h0M1949.4 352.1h0M1971.5 351.3h0M1945.7 350.4h0M1975.2 349.6h0M1942 348.8h0M1978.9 347.9h0M1938.3 347.1h0M1960.4 342.9h0M1956.8 342.1h0M1964.1 341.3h0M1953.1 340.4h0M1967.8 339.6h0M1949.4 338.8h0M1971.5 337.9h0M1945.7 337.1h0M1975.2 336.3h0M1942 335.4h0M1978.9 334.6h0M1938.3 333.8h0M1960.4 329.6h0M1956.8 328.8h0M1964.1 327.9h0M1953.1 327.1h0M1967.8 326.2h0M1949.4 325.4h0M1971.5 324.6h0M1945.7 323.7h0M1975.2 322.9h0M1942 322.1h0M1978.9 321.2h0M1938.3 320.4h0M1960.4 316.2h0M1956.8 315.4h0M1964.1 314.6h0M1953.1 313.7h0M1967.8 312.9h0M1949.4 312.1h0M1971.5 311.2h0M1945.7 310.4h0M1975.2 309.6h0M1942 308.7h0M1978.9 307.9h0M1938.3 307.1h0M1965.4 303.4h0M1951.8 300.2h0M1978.9 297h0M1938.3 293.8h0M1967.1 289h0M1950.1 282.6h0M1958.6 273.1h0M1958.6 260.3h0M1958.6 247.5h0M1965.4 463h0M1951.8 459.8h0M1978.9 456.6h0M1938.3 453.4h0M1967.1 474.2h0M1950.1 467.8h0" stroke="#0a30ff" stroke-width="9" stroke-linecap="round" fill="none"/>
<line x1="1958.6" y1="353.9" x2="1958.6" y2="398.6" stroke="#000" stroke-width="2.2" stroke-linecap="butt"/>
<line x1="1945.6" y1="353.9" x2="1971.6" y2="353.9" stroke="#000" stroke-width="2.2" stroke-linecap="butt"/>
<line x1="1945.6" y1="398.6" x2="1971.6" y2="398.6" stroke="#000" stroke-width="2.2" stroke-linecap="butt"/>
<line x1="1933.8" y1="376.3" x2="1983.4" y2="376.3" stroke="#000" stroke-width="5.7" stroke-linecap="butt"/>
<line x1="1429.4" y1="18.9" x2="1429.4" y2="221.4" stroke="#000" stroke-width="1.4" stroke-linecap="butt"/>
<path d="M1429.4 19.6 L1965.8 19.6 L1965.8 33.3" fill="none" stroke="#000" stroke-width="1.4" stroke-linecap="butt" stroke-linejoin="miter"/>
<path d="M1429.4 51.7 L1877.5 51.7 L1877.5 65.5" fill="none" stroke="#000" stroke-width="1.4" stroke-linecap="butt" stroke-linejoin="miter"/>
<path d="M1429.4 83.6 L1788.2 83.6 L1788.2 97.3" fill="none" stroke="#000" stroke-width="1.4" stroke-linecap="butt" stroke-linejoin="miter"/>
<path d="M1429.4 117.6 L1727 117.6 L1727 130.7" fill="none" stroke="#000" stroke-width="1.4" stroke-linecap="butt" stroke-linejoin="miter"/>
<path d="M1429.4 150.2 L1658 150.2 L1658 163.4" fill="none" stroke="#000" stroke-width="1.4" stroke-linecap="butt" stroke-linejoin="miter"/>
<path d="M1429.4 185.4 L1577.3 185.4 L1577.3 198" fill="none" stroke="#000" stroke-width="1.4" stroke-linecap="butt" stroke-linejoin="miter"/>
<path d="M1429.4 205.7 L1508 205.7 L1508 218.7" fill="none" stroke="#000" stroke-width="1.4" stroke-linecap="butt" stroke-linejoin="miter"/>
<text x="1692.2" y="18.6" font-size="21.5" font-weight="bold" fill="#000" textLength="26" lengthAdjust="spacingAndGlyphs" >ns</text>
<text x="1642.3" y="49.8" font-size="21.5" font-weight="bold" fill="#000" textLength="27.2" lengthAdjust="spacingAndGlyphs" >ns</text>
<text x="1596.5" y="81" font-size="21.5" font-weight="bold" fill="#000" textLength="26" lengthAdjust="spacingAndGlyphs" >ns</text>
<text x="1537.7" y="146.7" font-size="21.5" font-weight="bold" fill="#000" textLength="25.8" lengthAdjust="spacingAndGlyphs" >ns</text>
<text x="1494.1" y="180.9" font-size="21.5" font-weight="bold" fill="#000" textLength="26.2" lengthAdjust="spacingAndGlyphs" >ns</text>
<text x="1453.1" y="202.5" font-size="21.5" font-weight="bold" fill="#000" textLength="26.3" lengthAdjust="spacingAndGlyphs" >ns</text>
<text x="1557.9" y="119.5" font-size="19.4" font-weight="bold" letter-spacing="0.63">****</text>
<circle cx="1582" cy="142.2" r="4.5" fill="#ff2000"/>
<text transform="translate(1437.9 613) rotate(-45)" font-size="28" font-weight="bold" text-anchor="end">siCtrl</text>
<text transform="translate(1513 613) rotate(-45)" font-size="28" font-weight="bold" text-anchor="end">siHLTF</text>
<text transform="translate(1588.2 613) rotate(-45)" font-size="28" font-weight="bold" text-anchor="end">siSMARCAL1</text>
<text transform="translate(1663.5 613) rotate(-45)" font-size="28" font-weight="bold" text-anchor="end">siZRANB3</text>
<text transform="translate(1739.2 613) rotate(-45)" font-size="28" font-weight="bold" text-anchor="end">siCtrl</text>
<text transform="translate(1814.8 613) rotate(-45)" font-size="28" font-weight="bold" text-anchor="end">siHLTF</text>
<text transform="translate(1889.8 613) rotate(-45)" font-size="28" font-weight="bold" text-anchor="end">siSMARCAL1</text>
<text transform="translate(1965.1 613) rotate(-45)" font-size="28" font-weight="bold" text-anchor="end">siZRANB3</text>
<path d="M1385 733.7 L1385 745.4 L1653.5 745.4 L1653.5 733.7" fill="none" stroke="#000" stroke-width="3.6" stroke-linecap="butt" stroke-linejoin="miter"/>
<path d="M1690.4 733.7 L1690.4 745.4 L1959.5 745.4 L1959.5 733.7" fill="none" stroke="#000" stroke-width="3.6" stroke-linecap="butt" stroke-linejoin="miter"/>
<text x="1504.7" y="780.5" font-size="30" font-weight="bold" fill="#000" textLength="43.5" lengthAdjust="spacingAndGlyphs" >WT</text>
<text x="1804.6" y="780.5" font-size="30" font-weight="bold" fill="#000" textLength="43.2" lengthAdjust="spacingAndGlyphs" >KO</text>
<text transform="translate(1287.9 422.3) rotate(-90)" x="-2.1" y="0" font-size="31" font-weight="bold" textLength="218.6" lengthAdjust="spacingAndGlyphs"><tspan fill="#ff2000">IdU</tspan><tspan fill="#000">/</tspan><tspan fill="#0c8a4c">CldU</tspan><tspan fill="#000"> Ratio</tspan></text>
<text x="1.2" y="734" font-size="38.9" font-weight="bold" fill="#000" >d</text>
<line x1="99.6" y1="828.8" x2="99.6" y2="1251.3" stroke="#000" stroke-width="2" stroke-linecap="butt"/>
<line x1="98.6" y1="1250.3" x2="581" y2="1250.3" stroke="#000" stroke-width="2" stroke-linecap="butt"/>
<line x1="92.6" y1="1250.3" x2="99.6" y2="1250.3" stroke="#000" stroke-width="2" stroke-linecap="butt"/>
<text x="56.2" y="1258.5" font-size="23.7" font-weight="bold" fill="#000" textLength="32.4" lengthAdjust="spacingAndGlyphs" >0.0</text>
<line x1="92.6" y1="1166.2" x2="99.6" y2="1166.2" stroke="#000" stroke-width="2" stroke-linecap="butt"/>
<text x="55.9" y="1174.4" font-size="23.7" font-weight="bold" fill="#000" textLength="32.4" lengthAdjust="spacingAndGlyphs" >0.5</text>
<line x1="92.6" y1="1082.1" x2="99.6" y2="1082.1" stroke="#000" stroke-width="2" stroke-linecap="butt"/>
<text x="56.2" y="1090.3" font-size="23.7" font-weight="bold" fill="#000" textLength="32.4" lengthAdjust="spacingAndGlyphs" >1.0</text>
<line x1="92.6" y1="998" x2="99.6" y2="998" stroke="#000" stroke-width="2" stroke-linecap="butt"/>
<text x="55.9" y="1006" font-size="23.7" font-weight="bold" fill="#000" textLength="32.4" lengthAdjust="spacingAndGlyphs" >1.5</text>
<line x1="92.6" y1="913.9" x2="99.6" y2="913.9" stroke="#000" stroke-width="2" stroke-linecap="butt"/>
<text x="56.2" y="922.1" font-size="23.7" font-weight="bold" fill="#000" textLength="32.4" lengthAdjust="spacingAndGlyphs" >2.0</text>
<line x1="92.6" y1="829.8" x2="99.6" y2="829.8" stroke="#000" stroke-width="2" stroke-linecap="butt"/>
<text x="55.9" y="838" font-size="23.7" font-weight="bold" fill="#000" textLength="32.4" lengthAdjust="spacingAndGlyphs" >2.5</text>
<line x1="184" y1="1250.3" x2="184" y2="1257.8" stroke="#000" stroke-width="2" stroke-linecap="butt"/>
<line x1="288.2" y1="1250.3" x2="288.2" y2="1257.8" stroke="#000" stroke-width="2" stroke-linecap="butt"/>
<line x1="392.4" y1="1250.3" x2="392.4" y2="1257.8" stroke="#000" stroke-width="2" stroke-linecap="butt"/>
<line x1="496.3" y1="1250.3" x2="496.3" y2="1257.8" stroke="#000" stroke-width="2" stroke-linecap="butt"/>
<path d="M185.5 1120.9h0M182.5 1120.4h0M188.5 1120h0M179.5 1119.6h0M191.5 1119.2h0M176.5 1118.8h0M194.5 1118.4h0M173.5 1117.9h0M197.5 1117.5h0M170.5 1117.1h0M200.5 1116.7h0M167.5 1116.3h0M203.5 1115.9h0M164.5 1115.4h0M206.5 1115h0M161.5 1114.6h0M209.5 1114.2h0M158.5 1113.8h0M212.5 1113.3h0M155.5 1112.9h0M185.5 1109.7h0M182.5 1109.3h0M188.5 1108.9h0M179.5 1108.5h0M191.5 1108.1h0M176.5 1107.6h0M194.5 1107.2h0M173.5 1106.8h0M197.5 1106.4h0M170.5 1106h0M200.5 1105.5h0M167.5 1105.1h0M203.5 1104.7h0M164.5 1104.3h0M206.5 1103.9h0M161.5 1103.5h0M209.5 1103h0M158.5 1102.6h0M212.5 1102.2h0M155.5 1101.8h0M185.5 1098.6h0M182.5 1098.2h0M188.5 1097.7h0M179.5 1097.3h0M191.5 1096.9h0M176.5 1096.5h0M194.5 1096.1h0M173.5 1095.7h0M197.5 1095.2h0M170.5 1094.8h0M200.5 1094.4h0M167.5 1094h0M203.5 1093.6h0M164.5 1093.1h0M206.5 1092.7h0M161.5 1092.3h0M209.5 1091.9h0M158.5 1091.5h0M212.5 1091.1h0M155.5 1090.6h0M185.5 1087.4h0M182.5 1087h0M188.5 1086.6h0M179.5 1086.2h0M191.5 1085.8h0M176.5 1085.3h0M194.5 1084.9h0M173.5 1084.5h0M197.5 1084.1h0M170.5 1083.7h0M200.5 1083.3h0M167.5 1082.8h0M203.5 1082.4h0M164.5 1082h0M206.5 1081.6h0M161.5 1081.2h0M209.5 1080.8h0M158.5 1080.3h0M212.5 1079.9h0M155.5 1079.5h0M185.5 1076.3h0M182.5 1075.9h0M188.5 1075.5h0M179.5 1075h0M191.5 1074.6h0M176.5 1074.2h0M194.5 1073.8h0M173.5 1073.4h0M197.5 1073h0M170.5 1072.5h0M200.5 1072.1h0M167.5 1071.7h0M203.5 1071.3h0M164.5 1070.9h0M206.5 1070.4h0M161.5 1070h0M209.5 1069.6h0M158.5 1069.2h0M212.5 1068.8h0M155.5 1068.4h0M185.5 1065.1h0M182.5 1064.7h0M188.5 1064.3h0M179.5 1063.9h0M191.5 1063.5h0M176.5 1063.1h0M194.5 1062.6h0M173.5 1062.2h0M197.5 1061.8h0M170.5 1061.4h0M200.5 1061h0M167.5 1060.6h0M203.5 1060.1h0M164.5 1059.7h0M206.5 1059.3h0M161.5 1058.9h0M209.5 1058.5h0M158.5 1058h0M212.5 1057.6h0M155.5 1057.2h0M185.5 1054h0M182.5 1053.6h0M188.5 1053.2h0M179.5 1052.8h0M191.5 1052.3h0M176.5 1051.9h0M194.5 1051.5h0M173.5 1051.1h0M197.5 1050.7h0M170.5 1050.2h0M200.5 1049.8h0M167.5 1049.4h0M203.5 1049h0M164.5 1048.6h0M206.5 1048.2h0M161.5 1047.7h0M209.5 1047.3h0M158.5 1046.9h0M212.5 1046.5h0M155.5 1046.1h0M185.5 1042.9h0M182.5 1042.4h0M188.5 1042h0M179.5 1041.6h0M191.5 1041.2h0M176.5 1040.8h0M194.5 1040.4h0M173.5 1039.9h0M197.5 1039.5h0M170.5 1039.1h0M200.5 1038.7h0M167.5 1038.3h0M203.5 1037.8h0M164.5 1037.4h0M206.5 1037h0M161.5 1036.6h0M209.5 1036.2h0M158.5 1035.8h0M212.5 1035.3h0M155.5 1034.9h0M184 1031.4h0M202 1027.4h0M166 1023.5h0M184 1015.7h0M193 1006.8h0M175 1000.9h0M193 1131.3h0M175 1128.8h0M211 1126.3h0M157 1123.7h0M193 1140.1h0M175 1135.1h0M184 1151.1h0M202 1147.7h0M166 1144.3h0M184 1161.8h0M198.2 1159.8h0M169.8 1157.8h0M212.5 1155.8h0M155.5 1153.8h0" stroke="#ff2000" stroke-width="7" stroke-linecap="round" fill="none"/>
<line x1="184" y1="1051.8" x2="184" y2="1110.7" stroke="#000" stroke-width="1.4" stroke-linecap="butt"/>
<line x1="168" y1="1051.8" x2="200" y2="1051.8" stroke="#000" stroke-width="1.4" stroke-linecap="butt"/>
<line x1="168" y1="1110.7" x2="200" y2="1110.7" stroke="#000" stroke-width="1.4" stroke-linecap="butt"/>
<line x1="152" y1="1082.1" x2="216" y2="1082.1" stroke="#000" stroke-width="3.8" stroke-linecap="butt"/>
<path d="M289.7 1161.2h0M286.7 1160.8h0M292.7 1160.4h0M283.7 1160h0M295.7 1159.6h0M280.7 1159.2h0M298.7 1158.8h0M277.7 1158.3h0M301.7 1157.9h0M274.7 1157.5h0M304.7 1157.1h0M271.7 1156.7h0M307.7 1156.3h0M268.7 1155.9h0M310.7 1155.4h0M265.7 1155h0M313.7 1154.6h0M262.7 1154.2h0M316.7 1153.8h0M259.7 1153.4h0M289.7 1150.2h0M286.7 1149.8h0M292.7 1149.4h0M283.7 1149h0M295.7 1148.5h0M280.7 1148.1h0M298.7 1147.7h0M277.7 1147.3h0M301.7 1146.9h0M274.7 1146.5h0M304.7 1146h0M271.7 1145.6h0M307.7 1145.2h0M268.7 1144.8h0M310.7 1144.4h0M265.7 1144h0M313.7 1143.6h0M262.7 1143.1h0M316.7 1142.7h0M259.7 1142.3h0M289.7 1139.1h0M286.7 1138.7h0M292.7 1138.3h0M283.7 1137.9h0M295.7 1137.5h0M280.7 1137.1h0M298.7 1136.7h0M277.7 1136.2h0M301.7 1135.8h0M274.7 1135.4h0M304.7 1135h0M271.7 1134.6h0M307.7 1134.2h0M268.7 1133.8h0M310.7 1133.3h0M265.7 1132.9h0M313.7 1132.5h0M262.7 1132.1h0M316.7 1131.7h0M259.7 1131.3h0M289.7 1128.1h0M286.7 1127.7h0M292.7 1127.3h0M283.7 1126.8h0M295.7 1126.4h0M280.7 1126h0M298.7 1125.6h0M277.7 1125.2h0M301.7 1124.8h0M274.7 1124.4h0M304.7 1123.9h0M271.7 1123.5h0M307.7 1123.1h0M268.7 1122.7h0M310.7 1122.3h0M265.7 1121.9h0M313.7 1121.5h0M262.7 1121h0M316.7 1120.6h0M259.7 1120.2h0M289.7 1117h0M286.7 1116.6h0M292.7 1116.2h0M283.7 1115.8h0M295.7 1115.4h0M280.7 1115h0M298.7 1114.5h0M277.7 1114.1h0M301.7 1113.7h0M274.7 1113.3h0M304.7 1112.9h0M271.7 1112.5h0M307.7 1112.1h0M268.7 1111.6h0M310.7 1111.2h0M265.7 1110.8h0M313.7 1110.4h0M262.7 1110h0M316.7 1109.6h0M259.7 1109.2h0M289.7 1106h0M286.7 1105.6h0M292.7 1105.2h0M283.7 1104.7h0M295.7 1104.3h0M280.7 1103.9h0M298.7 1103.5h0M277.7 1103.1h0M301.7 1102.7h0M274.7 1102.3h0M304.7 1101.8h0M271.7 1101.4h0M307.7 1101h0M268.7 1100.6h0M310.7 1100.2h0M265.7 1099.8h0M313.7 1099.3h0M262.7 1098.9h0M316.7 1098.5h0M259.7 1098.1h0M289.7 1094.9h0M286.7 1094.5h0M292.7 1094.1h0M283.7 1093.7h0M295.7 1093.3h0M280.7 1092.9h0M298.7 1092.4h0M277.7 1092h0M301.7 1091.6h0M274.7 1091.2h0M304.7 1090.8h0M271.7 1090.4h0M307.7 1090h0M268.7 1089.5h0M310.7 1089.1h0M265.7 1088.7h0M313.7 1088.3h0M262.7 1087.9h0M316.7 1087.5h0M259.7 1087.1h0M288.2 1083.7h0M297.7 1082.6h0M278.7 1081.5h0M307.2 1080.4h0M269.2 1079.3h0M316.7 1078.3h0M259.7 1077.2h0M297.2 1074.1h0M279.2 1071.6h0M315.2 1069.1h0M261.2 1066.5h0M293.9 1064.4h0M282.5 1062.8h0M305.3 1061.1h0M271.1 1059.4h0M316.7 1057.7h0M259.7 1056h0M297.2 1052.7h0M279.2 1047.6h0M288.2 1043.4h0M306.2 1040h0M270.2 1036.7h0M288.2 1009.8h0M288.2 1169.7h0M297.7 1168.8h0M278.7 1167.9h0M307.2 1167h0M269.2 1166.1h0M316.7 1165.2h0M259.7 1164.3h0M288.2 1178.3h0M306.2 1175.5h0M270.2 1172.6h0M288.2 1187.2h0M302.4 1185.5h0M273.9 1183.9h0M316.7 1182.2h0M259.7 1180.5h0" stroke="#0a30ff" stroke-width="7" stroke-linecap="round" fill="none"/>
<line x1="288.2" y1="1092.2" x2="288.2" y2="1151.9" stroke="#000" stroke-width="1.4" stroke-linecap="butt"/>
<line x1="272.2" y1="1092.2" x2="304.2" y2="1092.2" stroke="#000" stroke-width="1.4" stroke-linecap="butt"/>
<line x1="272.2" y1="1151.9" x2="304.2" y2="1151.9" stroke="#000" stroke-width="1.4" stroke-linecap="butt"/>
<line x1="256.2" y1="1122.5" x2="320.2" y2="1122.5" stroke="#000" stroke-width="3.8" stroke-linecap="butt"/>
<path d="M389.4 1132.3l4.5 -8.1l4.5 8.1zM386.4 1131.9l4.5 -8.1l4.5 8.1zM392.4 1131.5l4.5 -8.1l4.5 8.1zM383.4 1131.1l4.5 -8.1l4.5 8.1zM395.4 1130.7l4.5 -8.1l4.5 8.1zM380.4 1130.3l4.5 -8.1l4.5 8.1zM398.4 1129.9l4.5 -8.1l4.5 8.1zM377.4 1129.4l4.5 -8.1l4.5 8.1zM401.4 1129l4.5 -8.1l4.5 8.1zM374.4 1128.6l4.5 -8.1l4.5 8.1zM404.4 1128.2l4.5 -8.1l4.5 8.1zM371.4 1127.8l4.5 -8.1l4.5 8.1zM407.4 1127.4l4.5 -8.1l4.5 8.1zM368.4 1127l4.5 -8.1l4.5 8.1zM410.4 1126.6l4.5 -8.1l4.5 8.1zM365.4 1126.1l4.5 -8.1l4.5 8.1zM413.4 1125.7l4.5 -8.1l4.5 8.1zM362.4 1125.3l4.5 -8.1l4.5 8.1zM416.4 1124.9l4.5 -8.1l4.5 8.1zM359.4 1124.5l4.5 -8.1l4.5 8.1zM389.4 1121.3l4.5 -8.1l4.5 8.1zM386.4 1120.9l4.5 -8.1l4.5 8.1zM392.4 1120.5l4.5 -8.1l4.5 8.1zM383.4 1120.1l4.5 -8.1l4.5 8.1zM395.4 1119.7l4.5 -8.1l4.5 8.1zM380.4 1119.3l4.5 -8.1l4.5 8.1zM398.4 1118.8l4.5 -8.1l4.5 8.1zM377.4 1118.4l4.5 -8.1l4.5 8.1zM401.4 1118l4.5 -8.1l4.5 8.1zM374.4 1117.6l4.5 -8.1l4.5 8.1zM404.4 1117.2l4.5 -8.1l4.5 8.1zM371.4 1116.8l4.5 -8.1l4.5 8.1zM407.4 1116.4l4.5 -8.1l4.5 8.1zM368.4 1115.9l4.5 -8.1l4.5 8.1zM410.4 1115.5l4.5 -8.1l4.5 8.1zM365.4 1115.1l4.5 -8.1l4.5 8.1zM413.4 1114.7l4.5 -8.1l4.5 8.1zM362.4 1114.3l4.5 -8.1l4.5 8.1zM416.4 1113.9l4.5 -8.1l4.5 8.1zM359.4 1113.5l4.5 -8.1l4.5 8.1zM389.4 1110.3l4.5 -8.1l4.5 8.1zM386.4 1109.9l4.5 -8.1l4.5 8.1zM392.4 1109.5l4.5 -8.1l4.5 8.1zM383.4 1109.1l4.5 -8.1l4.5 8.1zM395.4 1108.6l4.5 -8.1l4.5 8.1zM380.4 1108.2l4.5 -8.1l4.5 8.1zM398.4 1107.8l4.5 -8.1l4.5 8.1zM377.4 1107.4l4.5 -8.1l4.5 8.1zM401.4 1107l4.5 -8.1l4.5 8.1zM374.4 1106.6l4.5 -8.1l4.5 8.1zM404.4 1106.2l4.5 -8.1l4.5 8.1zM371.4 1105.8l4.5 -8.1l4.5 8.1zM407.4 1105.3l4.5 -8.1l4.5 8.1zM368.4 1104.9l4.5 -8.1l4.5 8.1zM410.4 1104.5l4.5 -8.1l4.5 8.1zM365.4 1104.1l4.5 -8.1l4.5 8.1zM413.4 1103.7l4.5 -8.1l4.5 8.1zM362.4 1103.3l4.5 -8.1l4.5 8.1zM416.4 1102.9l4.5 -8.1l4.5 8.1zM359.4 1102.5l4.5 -8.1l4.5 8.1zM389.4 1099.3l4.5 -8.1l4.5 8.1zM386.4 1098.9l4.5 -8.1l4.5 8.1zM392.4 1098.5l4.5 -8.1l4.5 8.1zM383.4 1098l4.5 -8.1l4.5 8.1zM395.4 1097.6l4.5 -8.1l4.5 8.1zM380.4 1097.2l4.5 -8.1l4.5 8.1zM398.4 1096.8l4.5 -8.1l4.5 8.1zM377.4 1096.4l4.5 -8.1l4.5 8.1zM401.4 1096l4.5 -8.1l4.5 8.1zM374.4 1095.6l4.5 -8.1l4.5 8.1zM404.4 1095.2l4.5 -8.1l4.5 8.1zM371.4 1094.7l4.5 -8.1l4.5 8.1zM407.4 1094.3l4.5 -8.1l4.5 8.1zM368.4 1093.9l4.5 -8.1l4.5 8.1zM410.4 1093.5l4.5 -8.1l4.5 8.1zM365.4 1093.1l4.5 -8.1l4.5 8.1zM413.4 1092.7l4.5 -8.1l4.5 8.1zM362.4 1092.3l4.5 -8.1l4.5 8.1zM416.4 1091.8l4.5 -8.1l4.5 8.1zM359.4 1091.4l4.5 -8.1l4.5 8.1zM389.4 1088.3l4.5 -8.1l4.5 8.1zM386.4 1087.9l4.5 -8.1l4.5 8.1zM392.4 1087.4l4.5 -8.1l4.5 8.1zM383.4 1087l4.5 -8.1l4.5 8.1zM395.4 1086.6l4.5 -8.1l4.5 8.1zM380.4 1086.2l4.5 -8.1l4.5 8.1zM398.4 1085.8l4.5 -8.1l4.5 8.1zM377.4 1085.4l4.5 -8.1l4.5 8.1zM401.4 1085l4.5 -8.1l4.5 8.1zM374.4 1084.5l4.5 -8.1l4.5 8.1zM404.4 1084.1l4.5 -8.1l4.5 8.1zM371.4 1083.7l4.5 -8.1l4.5 8.1zM407.4 1083.3l4.5 -8.1l4.5 8.1zM368.4 1082.9l4.5 -8.1l4.5 8.1zM410.4 1082.5l4.5 -8.1l4.5 8.1zM365.4 1082.1l4.5 -8.1l4.5 8.1zM413.4 1081.7l4.5 -8.1l4.5 8.1zM362.4 1081.2l4.5 -8.1l4.5 8.1zM416.4 1080.8l4.5 -8.1l4.5 8.1zM359.4 1080.4l4.5 -8.1l4.5 8.1zM389.4 1077.2l4.5 -8.1l4.5 8.1zM386.4 1076.8l4.5 -8.1l4.5 8.1zM392.4 1076.4l4.5 -8.1l4.5 8.1zM383.4 1076l4.5 -8.1l4.5 8.1zM395.4 1075.6l4.5 -8.1l4.5 8.1zM380.4 1075.2l4.5 -8.1l4.5 8.1zM398.4 1074.8l4.5 -8.1l4.5 8.1zM377.4 1074.4l4.5 -8.1l4.5 8.1zM401.4 1073.9l4.5 -8.1l4.5 8.1zM374.4 1073.5l4.5 -8.1l4.5 8.1zM404.4 1073.1l4.5 -8.1l4.5 8.1zM371.4 1072.7l4.5 -8.1l4.5 8.1zM407.4 1072.3l4.5 -8.1l4.5 8.1zM368.4 1071.9l4.5 -8.1l4.5 8.1zM410.4 1071.5l4.5 -8.1l4.5 8.1zM365.4 1071.1l4.5 -8.1l4.5 8.1zM413.4 1070.6l4.5 -8.1l4.5 8.1zM362.4 1070.2l4.5 -8.1l4.5 8.1zM416.4 1069.8l4.5 -8.1l4.5 8.1zM359.4 1069.4l4.5 -8.1l4.5 8.1zM389.4 1066.2l4.5 -8.1l4.5 8.1zM386.4 1065.8l4.5 -8.1l4.5 8.1zM392.4 1065.4l4.5 -8.1l4.5 8.1zM383.4 1065l4.5 -8.1l4.5 8.1zM395.4 1064.6l4.5 -8.1l4.5 8.1zM380.4 1064.2l4.5 -8.1l4.5 8.1zM398.4 1063.8l4.5 -8.1l4.5 8.1zM377.4 1063.3l4.5 -8.1l4.5 8.1zM401.4 1062.9l4.5 -8.1l4.5 8.1zM374.4 1062.5l4.5 -8.1l4.5 8.1zM404.4 1062.1l4.5 -8.1l4.5 8.1zM371.4 1061.7l4.5 -8.1l4.5 8.1zM407.4 1061.3l4.5 -8.1l4.5 8.1zM368.4 1060.9l4.5 -8.1l4.5 8.1zM410.4 1060.4l4.5 -8.1l4.5 8.1zM365.4 1060l4.5 -8.1l4.5 8.1zM413.4 1059.6l4.5 -8.1l4.5 8.1zM362.4 1059.2l4.5 -8.1l4.5 8.1zM416.4 1058.8l4.5 -8.1l4.5 8.1zM359.4 1058.4l4.5 -8.1l4.5 8.1zM389.4 1055.2l4.5 -8.1l4.5 8.1zM386.4 1054.8l4.5 -8.1l4.5 8.1zM392.4 1054.4l4.5 -8.1l4.5 8.1zM383.4 1054l4.5 -8.1l4.5 8.1zM395.4 1053.6l4.5 -8.1l4.5 8.1zM380.4 1053.1l4.5 -8.1l4.5 8.1zM398.4 1052.7l4.5 -8.1l4.5 8.1zM377.4 1052.3l4.5 -8.1l4.5 8.1zM401.4 1051.9l4.5 -8.1l4.5 8.1zM374.4 1051.5l4.5 -8.1l4.5 8.1zM404.4 1051.1l4.5 -8.1l4.5 8.1zM371.4 1050.7l4.5 -8.1l4.5 8.1zM407.4 1050.3l4.5 -8.1l4.5 8.1zM368.4 1049.8l4.5 -8.1l4.5 8.1zM410.4 1049.4l4.5 -8.1l4.5 8.1zM365.4 1049l4.5 -8.1l4.5 8.1zM413.4 1048.6l4.5 -8.1l4.5 8.1zM362.4 1048.2l4.5 -8.1l4.5 8.1zM416.4 1047.8l4.5 -8.1l4.5 8.1zM359.4 1047.4l4.5 -8.1l4.5 8.1zM393.6 1044.9l4.5 -8.1l4.5 8.1zM382.2 1043.1l4.5 -8.1l4.5 8.1zM405 1041.3l4.5 -8.1l4.5 8.1zM370.8 1039.5l4.5 -8.1l4.5 8.1zM416.4 1037.7l4.5 -8.1l4.5 8.1zM359.4 1035.9l4.5 -8.1l4.5 8.1zM387.9 1033.2l4.5 -8.1l4.5 8.1zM395 1032.3l4.5 -8.1l4.5 8.1zM380.8 1031.4l4.5 -8.1l4.5 8.1zM402.1 1030.5l4.5 -8.1l4.5 8.1zM373.6 1029.6l4.5 -8.1l4.5 8.1zM409.3 1028.7l4.5 -8.1l4.5 8.1zM366.5 1027.8l4.5 -8.1l4.5 8.1zM416.4 1026.9l4.5 -8.1l4.5 8.1zM359.4 1026l4.5 -8.1l4.5 8.1zM396.9 1022.9l4.5 -8.1l4.5 8.1zM378.9 1020.2l4.5 -8.1l4.5 8.1zM414.9 1017.5l4.5 -8.1l4.5 8.1zM360.9 1014.8l4.5 -8.1l4.5 8.1zM387.9 997.3l4.5 -8.1l4.5 8.1zM387.9 943.5l4.5 -8.1l4.5 8.1zM387.9 1141.1l4.5 -8.1l4.5 8.1zM405.9 1138.2l4.5 -8.1l4.5 8.1zM369.9 1135.4l4.5 -8.1l4.5 8.1zM387.9 1146.8l4.5 -8.1l4.5 8.1zM387.9 1172.7l4.5 -8.1l4.5 8.1z" fill="#ff2000"/>
<line x1="392.4" y1="1051.8" x2="392.4" y2="1110.7" stroke="#000" stroke-width="1.4" stroke-linecap="butt"/>
<line x1="376.4" y1="1051.8" x2="408.4" y2="1051.8" stroke="#000" stroke-width="1.4" stroke-linecap="butt"/>
<line x1="376.4" y1="1110.7" x2="408.4" y2="1110.7" stroke="#000" stroke-width="1.4" stroke-linecap="butt"/>
<line x1="359.4" y1="1082.1" x2="425.4" y2="1082.1" stroke="#000" stroke-width="3.8" stroke-linecap="butt"/>
<path d="M493.3 1130.3l4.5 -8.1l4.5 8.1zM490.3 1129.9l4.5 -8.1l4.5 8.1zM496.3 1129.4l4.5 -8.1l4.5 8.1zM487.3 1129l4.5 -8.1l4.5 8.1zM499.3 1128.6l4.5 -8.1l4.5 8.1zM484.3 1128.2l4.5 -8.1l4.5 8.1zM502.3 1127.8l4.5 -8.1l4.5 8.1zM481.3 1127.3l4.5 -8.1l4.5 8.1zM505.3 1126.9l4.5 -8.1l4.5 8.1zM478.3 1126.5l4.5 -8.1l4.5 8.1zM508.3 1126.1l4.5 -8.1l4.5 8.1zM475.3 1125.7l4.5 -8.1l4.5 8.1zM511.3 1125.2l4.5 -8.1l4.5 8.1zM472.3 1124.8l4.5 -8.1l4.5 8.1zM514.3 1124.4l4.5 -8.1l4.5 8.1zM469.3 1124l4.5 -8.1l4.5 8.1zM517.3 1123.6l4.5 -8.1l4.5 8.1zM466.3 1123.1l4.5 -8.1l4.5 8.1zM520.3 1122.7l4.5 -8.1l4.5 8.1zM463.3 1122.3l4.5 -8.1l4.5 8.1zM493.3 1119.1l4.5 -8.1l4.5 8.1zM490.3 1118.6l4.5 -8.1l4.5 8.1zM496.3 1118.2l4.5 -8.1l4.5 8.1zM487.3 1117.8l4.5 -8.1l4.5 8.1zM499.3 1117.4l4.5 -8.1l4.5 8.1zM484.3 1117l4.5 -8.1l4.5 8.1zM502.3 1116.5l4.5 -8.1l4.5 8.1zM481.3 1116.1l4.5 -8.1l4.5 8.1zM505.3 1115.7l4.5 -8.1l4.5 8.1zM478.3 1115.3l4.5 -8.1l4.5 8.1zM508.3 1114.8l4.5 -8.1l4.5 8.1zM475.3 1114.4l4.5 -8.1l4.5 8.1zM511.3 1114l4.5 -8.1l4.5 8.1zM472.3 1113.6l4.5 -8.1l4.5 8.1zM514.3 1113.2l4.5 -8.1l4.5 8.1zM469.3 1112.7l4.5 -8.1l4.5 8.1zM517.3 1112.3l4.5 -8.1l4.5 8.1zM466.3 1111.9l4.5 -8.1l4.5 8.1zM520.3 1111.5l4.5 -8.1l4.5 8.1zM463.3 1111.1l4.5 -8.1l4.5 8.1zM493.3 1107.8l4.5 -8.1l4.5 8.1zM490.3 1107.4l4.5 -8.1l4.5 8.1zM496.3 1107l4.5 -8.1l4.5 8.1zM487.3 1106.6l4.5 -8.1l4.5 8.1zM499.3 1106.1l4.5 -8.1l4.5 8.1zM484.3 1105.7l4.5 -8.1l4.5 8.1zM502.3 1105.3l4.5 -8.1l4.5 8.1zM481.3 1104.9l4.5 -8.1l4.5 8.1zM505.3 1104.5l4.5 -8.1l4.5 8.1zM478.3 1104l4.5 -8.1l4.5 8.1zM508.3 1103.6l4.5 -8.1l4.5 8.1zM475.3 1103.2l4.5 -8.1l4.5 8.1zM511.3 1102.8l4.5 -8.1l4.5 8.1zM472.3 1102.4l4.5 -8.1l4.5 8.1zM514.3 1101.9l4.5 -8.1l4.5 8.1zM469.3 1101.5l4.5 -8.1l4.5 8.1zM517.3 1101.1l4.5 -8.1l4.5 8.1zM466.3 1100.7l4.5 -8.1l4.5 8.1zM520.3 1100.3l4.5 -8.1l4.5 8.1zM463.3 1099.8l4.5 -8.1l4.5 8.1zM493.3 1096.6l4.5 -8.1l4.5 8.1zM490.3 1096.2l4.5 -8.1l4.5 8.1zM496.3 1095.8l4.5 -8.1l4.5 8.1zM487.3 1095.3l4.5 -8.1l4.5 8.1zM499.3 1094.9l4.5 -8.1l4.5 8.1zM484.3 1094.5l4.5 -8.1l4.5 8.1zM502.3 1094.1l4.5 -8.1l4.5 8.1zM481.3 1093.7l4.5 -8.1l4.5 8.1zM505.3 1093.2l4.5 -8.1l4.5 8.1zM478.3 1092.8l4.5 -8.1l4.5 8.1zM508.3 1092.4l4.5 -8.1l4.5 8.1zM475.3 1092l4.5 -8.1l4.5 8.1zM511.3 1091.6l4.5 -8.1l4.5 8.1zM472.3 1091.1l4.5 -8.1l4.5 8.1zM514.3 1090.7l4.5 -8.1l4.5 8.1zM469.3 1090.3l4.5 -8.1l4.5 8.1zM517.3 1089.9l4.5 -8.1l4.5 8.1zM466.3 1089.4l4.5 -8.1l4.5 8.1zM520.3 1089l4.5 -8.1l4.5 8.1zM463.3 1088.6l4.5 -8.1l4.5 8.1zM493.3 1085.4l4.5 -8.1l4.5 8.1zM490.3 1085l4.5 -8.1l4.5 8.1zM496.3 1084.5l4.5 -8.1l4.5 8.1zM487.3 1084.1l4.5 -8.1l4.5 8.1zM499.3 1083.7l4.5 -8.1l4.5 8.1zM484.3 1083.3l4.5 -8.1l4.5 8.1zM502.3 1082.9l4.5 -8.1l4.5 8.1zM481.3 1082.4l4.5 -8.1l4.5 8.1zM505.3 1082l4.5 -8.1l4.5 8.1zM478.3 1081.6l4.5 -8.1l4.5 8.1zM508.3 1081.2l4.5 -8.1l4.5 8.1zM475.3 1080.7l4.5 -8.1l4.5 8.1zM511.3 1080.3l4.5 -8.1l4.5 8.1zM472.3 1079.9l4.5 -8.1l4.5 8.1zM514.3 1079.5l4.5 -8.1l4.5 8.1zM469.3 1079.1l4.5 -8.1l4.5 8.1zM517.3 1078.6l4.5 -8.1l4.5 8.1zM466.3 1078.2l4.5 -8.1l4.5 8.1zM520.3 1077.8l4.5 -8.1l4.5 8.1zM463.3 1077.4l4.5 -8.1l4.5 8.1zM493.3 1074.1l4.5 -8.1l4.5 8.1zM490.3 1073.7l4.5 -8.1l4.5 8.1zM496.3 1073.3l4.5 -8.1l4.5 8.1zM487.3 1072.9l4.5 -8.1l4.5 8.1zM499.3 1072.5l4.5 -8.1l4.5 8.1zM484.3 1072l4.5 -8.1l4.5 8.1zM502.3 1071.6l4.5 -8.1l4.5 8.1zM481.3 1071.2l4.5 -8.1l4.5 8.1zM505.3 1070.8l4.5 -8.1l4.5 8.1zM478.3 1070.4l4.5 -8.1l4.5 8.1zM508.3 1069.9l4.5 -8.1l4.5 8.1zM475.3 1069.5l4.5 -8.1l4.5 8.1zM511.3 1069.1l4.5 -8.1l4.5 8.1zM472.3 1068.7l4.5 -8.1l4.5 8.1zM514.3 1068.3l4.5 -8.1l4.5 8.1zM469.3 1067.8l4.5 -8.1l4.5 8.1zM517.3 1067.4l4.5 -8.1l4.5 8.1zM466.3 1067l4.5 -8.1l4.5 8.1zM520.3 1066.6l4.5 -8.1l4.5 8.1zM463.3 1066.2l4.5 -8.1l4.5 8.1zM493.3 1062.9l4.5 -8.1l4.5 8.1zM490.3 1062.5l4.5 -8.1l4.5 8.1zM496.3 1062.1l4.5 -8.1l4.5 8.1zM487.3 1061.7l4.5 -8.1l4.5 8.1zM499.3 1061.2l4.5 -8.1l4.5 8.1zM484.3 1060.8l4.5 -8.1l4.5 8.1zM502.3 1060.4l4.5 -8.1l4.5 8.1zM481.3 1060l4.5 -8.1l4.5 8.1zM505.3 1059.6l4.5 -8.1l4.5 8.1zM478.3 1059.1l4.5 -8.1l4.5 8.1zM508.3 1058.7l4.5 -8.1l4.5 8.1zM475.3 1058.3l4.5 -8.1l4.5 8.1zM511.3 1057.9l4.5 -8.1l4.5 8.1zM472.3 1057.4l4.5 -8.1l4.5 8.1zM514.3 1057l4.5 -8.1l4.5 8.1zM469.3 1056.6l4.5 -8.1l4.5 8.1zM517.3 1056.2l4.5 -8.1l4.5 8.1zM466.3 1055.8l4.5 -8.1l4.5 8.1zM520.3 1055.3l4.5 -8.1l4.5 8.1zM463.3 1054.9l4.5 -8.1l4.5 8.1zM493.3 1051.7l4.5 -8.1l4.5 8.1zM490.3 1051.3l4.5 -8.1l4.5 8.1zM496.3 1050.9l4.5 -8.1l4.5 8.1zM487.3 1050.4l4.5 -8.1l4.5 8.1zM499.3 1050l4.5 -8.1l4.5 8.1zM484.3 1049.6l4.5 -8.1l4.5 8.1zM502.3 1049.2l4.5 -8.1l4.5 8.1zM481.3 1048.7l4.5 -8.1l4.5 8.1zM505.3 1048.3l4.5 -8.1l4.5 8.1zM478.3 1047.9l4.5 -8.1l4.5 8.1zM508.3 1047.5l4.5 -8.1l4.5 8.1zM475.3 1047.1l4.5 -8.1l4.5 8.1zM511.3 1046.6l4.5 -8.1l4.5 8.1zM472.3 1046.2l4.5 -8.1l4.5 8.1zM514.3 1045.8l4.5 -8.1l4.5 8.1zM469.3 1045.4l4.5 -8.1l4.5 8.1zM517.3 1045l4.5 -8.1l4.5 8.1zM466.3 1044.5l4.5 -8.1l4.5 8.1zM520.3 1044.1l4.5 -8.1l4.5 8.1zM463.3 1043.7l4.5 -8.1l4.5 8.1zM495.9 1040.2l4.5 -8.1l4.5 8.1zM487.7 1039.2l4.5 -8.1l4.5 8.1zM504 1038.2l4.5 -8.1l4.5 8.1zM479.6 1037.1l4.5 -8.1l4.5 8.1zM512.2 1036.1l4.5 -8.1l4.5 8.1zM471.4 1035.1l4.5 -8.1l4.5 8.1zM520.3 1034.1l4.5 -8.1l4.5 8.1zM463.3 1033l4.5 -8.1l4.5 8.1zM491.8 1014.7l4.5 -8.1l4.5 8.1zM491.8 1007.5l4.5 -8.1l4.5 8.1zM509.8 1003.8l4.5 -8.1l4.5 8.1zM473.8 1000.2l4.5 -8.1l4.5 8.1zM491.8 992.9l4.5 -8.1l4.5 8.1zM500.8 973.8l4.5 -8.1l4.5 8.1zM482.8 968.3l4.5 -8.1l4.5 8.1zM495.9 1141.1l4.5 -8.1l4.5 8.1zM487.7 1140.1l4.5 -8.1l4.5 8.1zM504 1139l4.5 -8.1l4.5 8.1zM479.6 1138l4.5 -8.1l4.5 8.1zM512.2 1136.9l4.5 -8.1l4.5 8.1zM471.4 1135.9l4.5 -8.1l4.5 8.1zM520.3 1134.8l4.5 -8.1l4.5 8.1zM463.3 1133.8l4.5 -8.1l4.5 8.1zM497.5 1164.3l4.5 -8.1l4.5 8.1zM486.1 1162.4l4.5 -8.1l4.5 8.1zM508.9 1160.6l4.5 -8.1l4.5 8.1zM474.7 1158.7l4.5 -8.1l4.5 8.1zM520.3 1156.9l4.5 -8.1l4.5 8.1zM463.3 1155l4.5 -8.1l4.5 8.1z" fill="#0a30ff"/>
<line x1="496.3" y1="1049.3" x2="496.3" y2="1113.2" stroke="#000" stroke-width="1.4" stroke-linecap="butt"/>
<line x1="480.3" y1="1049.3" x2="512.3" y2="1049.3" stroke="#000" stroke-width="1.4" stroke-linecap="butt"/>
<line x1="480.3" y1="1113.2" x2="512.3" y2="1113.2" stroke="#000" stroke-width="1.4" stroke-linecap="butt"/>
<line x1="463.3" y1="1082.1" x2="529.3" y2="1082.1" stroke="#000" stroke-width="3.8" stroke-linecap="butt"/>
<path d="M178 827.8 L178 817 L498 817 L498 827.8" fill="none" stroke="#000" stroke-width="2.2" stroke-linecap="butt" stroke-linejoin="miter"/>
<text x="319.3" y="811.2" font-size="19.5" font-weight="bold" fill="#000" textLength="28" lengthAdjust="spacingAndGlyphs" >NS</text>
<path d="M178 859.3 L178 848.5 L396.9 848.5 L396.9 859.3" fill="none" stroke="#000" stroke-width="2.2" stroke-linecap="butt" stroke-linejoin="miter"/>
<text x="272.5" y="843.1" font-size="19.5" font-weight="bold" fill="#000" textLength="27.8" lengthAdjust="spacingAndGlyphs" >NS</text>
<path d="M279.7 894 L279.7 883.6 L498 883.6 L498 894" fill="none" stroke="#000" stroke-width="2.2" stroke-linecap="butt" stroke-linejoin="miter"/>
<text x="363.3" y="888.5" font-size="31.2" font-weight="bold" letter-spacing="1.86">****</text>
<path d="M390.4 921 L390.4 912.9 L498 912.9 L498 921" fill="none" stroke="#000" stroke-width="2.2" stroke-linecap="butt" stroke-linejoin="miter"/>
<text x="429.2" y="907.9" font-size="19.5" font-weight="bold" fill="#000" textLength="27.7" lengthAdjust="spacingAndGlyphs" >NS</text>
<path d="M178 924.6 L178 913.8 L283.3 913.8 L283.3 924.6" fill="none" stroke="#000" stroke-width="2.2" stroke-linecap="butt" stroke-linejoin="miter"/>
<text x="204.9" y="917" font-size="31.5" font-weight="bold" letter-spacing="1.84">****</text>
<text x="166.4" y="1283.9" font-size="23.5" font-weight="bold" fill="#000" textLength="35.3" lengthAdjust="spacingAndGlyphs" >WT</text>
<text x="269.8" y="1283.9" font-size="23.5" font-weight="bold" fill="#000" textLength="35.7" lengthAdjust="spacingAndGlyphs" >KO</text>
<text x="375" y="1283.9" font-size="23.5" font-weight="bold" fill="#000" textLength="35.3" lengthAdjust="spacingAndGlyphs" >WT</text>
<text x="477.9" y="1283.9" font-size="23.5" font-weight="bold" fill="#000" textLength="36.9" lengthAdjust="spacingAndGlyphs" >KO</text>
<line x1="151" y1="1294.2" x2="319" y2="1294.2" stroke="#000" stroke-width="3.9" stroke-linecap="round"/>
<line x1="360.2" y1="1294.2" x2="527.6" y2="1294.2" stroke="#000" stroke-width="3.9" stroke-linecap="round"/>
<text x="203.5" y="1320" font-size="23" font-weight="bold" fill="#000" textLength="61.1" lengthAdjust="spacingAndGlyphs" >SiCtrl</text>
<text x="394.8" y="1323.6" font-size="23" font-weight="bold" fill="#000" textLength="95.1" lengthAdjust="spacingAndGlyphs" >SiRAD51</text>
<text transform="translate(36.2 1127) rotate(-90)" x="-1.8" y="0" font-size="28" font-weight="bold" textLength="183.1" lengthAdjust="spacingAndGlyphs"><tspan fill="#10c010">IdU</tspan><tspan fill="#000">/</tspan><tspan fill="#ff2000">CldU</tspan><tspan fill="#000"> Ratio</tspan></text>
<text x="648.3" y="734.2" font-size="38.9" font-weight="bold" fill="#000" >e</text>
<line x1="771.6" y1="816.2" x2="771.6" y2="1246" stroke="#000" stroke-width="2" stroke-linecap="butt"/>
<line x1="770.6" y1="1245" x2="1258.7" y2="1245" stroke="#000" stroke-width="2" stroke-linecap="butt"/>
<line x1="764.6" y1="1245" x2="771.6" y2="1245" stroke="#000" stroke-width="2" stroke-linecap="butt"/>
<text x="727.2" y="1252.2" font-size="23.3" font-weight="bold" fill="#000" textLength="32.8" lengthAdjust="spacingAndGlyphs" >0.0</text>
<line x1="764.6" y1="1159.5" x2="771.6" y2="1159.5" stroke="#000" stroke-width="2" stroke-linecap="butt"/>
<text x="726.9" y="1166.7" font-size="23.3" font-weight="bold" fill="#000" textLength="32.8" lengthAdjust="spacingAndGlyphs" >0.5</text>
<line x1="764.6" y1="1073.9" x2="771.6" y2="1073.9" stroke="#000" stroke-width="2" stroke-linecap="butt"/>
<text x="727.2" y="1081.1" font-size="23.3" font-weight="bold" fill="#000" textLength="32.8" lengthAdjust="spacingAndGlyphs" >1.0</text>
<line x1="764.6" y1="988.4" x2="771.6" y2="988.4" stroke="#000" stroke-width="2" stroke-linecap="butt"/>
<text x="726.9" y="995.4" font-size="23.3" font-weight="bold" fill="#000" textLength="32.8" lengthAdjust="spacingAndGlyphs" >1.5</text>
<line x1="764.6" y1="902.8" x2="771.6" y2="902.8" stroke="#000" stroke-width="2" stroke-linecap="butt"/>
<text x="727.2" y="910" font-size="23.3" font-weight="bold" fill="#000" textLength="32.8" lengthAdjust="spacingAndGlyphs" >2.0</text>
<line x1="764.6" y1="817.2" x2="771.6" y2="817.2" stroke="#000" stroke-width="2" stroke-linecap="butt"/>
<text x="726.9" y="824.5" font-size="23.3" font-weight="bold" fill="#000" textLength="32.8" lengthAdjust="spacingAndGlyphs" >2.5</text>
<line x1="856.8" y1="1245" x2="856.8" y2="1252.5" stroke="#000" stroke-width="2" stroke-linecap="butt"/>
<line x1="962.4" y1="1245" x2="962.4" y2="1252.5" stroke="#000" stroke-width="2" stroke-linecap="butt"/>
<line x1="1067.7" y1="1245" x2="1067.7" y2="1252.5" stroke="#000" stroke-width="2" stroke-linecap="butt"/>
<line x1="1173.8" y1="1245" x2="1173.8" y2="1252.5" stroke="#000" stroke-width="2" stroke-linecap="butt"/>
<path d="M858.4 1118.5h0M855.2 1118.1h0M861.5 1117.6h0M852.1 1117.2h0M864.6 1116.8h0M849 1116.4h0M867.7 1115.9h0M845.9 1115.5h0M870.8 1115.1h0M842.8 1114.7h0M873.9 1114.2h0M839.7 1113.8h0M877 1113.4h0M836.6 1113h0M880.1 1112.6h0M833.5 1112.1h0M883.2 1111.7h0M830.4 1111.3h0M886.3 1110.9h0M827.3 1110.4h0M858.4 1107.2h0M855.2 1106.8h0M861.5 1106.4h0M852.1 1105.9h0M864.6 1105.5h0M849 1105.1h0M867.7 1104.7h0M845.9 1104.2h0M870.8 1103.8h0M842.8 1103.4h0M873.9 1103h0M839.7 1102.6h0M877 1102.1h0M836.6 1101.7h0M880.1 1101.3h0M833.5 1100.9h0M883.2 1100.4h0M830.4 1100h0M886.3 1099.6h0M827.3 1099.2h0M858.4 1095.9h0M855.2 1095.5h0M861.5 1095.1h0M852.1 1094.7h0M864.6 1094.2h0M849 1093.8h0M867.7 1093.4h0M845.9 1093h0M870.8 1092.5h0M842.8 1092.1h0M873.9 1091.7h0M839.7 1091.3h0M877 1090.9h0M836.6 1090.4h0M880.1 1090h0M833.5 1089.6h0M883.2 1089.2h0M830.4 1088.7h0M886.3 1088.3h0M827.3 1087.9h0M858.4 1084.7h0M855.2 1084.2h0M861.5 1083.8h0M852.1 1083.4h0M864.6 1083h0M849 1082.5h0M867.7 1082.1h0M845.9 1081.7h0M870.8 1081.3h0M842.8 1080.9h0M873.9 1080.4h0M839.7 1080h0M877 1079.6h0M836.6 1079.2h0M880.1 1078.7h0M833.5 1078.3h0M883.2 1077.9h0M830.4 1077.5h0M886.3 1077h0M827.3 1076.6h0M858.4 1073.4h0M855.2 1073h0M861.5 1072.5h0M852.1 1072.1h0M864.6 1071.7h0M849 1071.3h0M867.7 1070.8h0M845.9 1070.4h0M870.8 1070h0M842.8 1069.6h0M873.9 1069.2h0M839.7 1068.7h0M877 1068.3h0M836.6 1067.9h0M880.1 1067.5h0M833.5 1067h0M883.2 1066.6h0M830.4 1066.2h0M886.3 1065.8h0M827.3 1065.3h0M858.4 1062.1h0M855.2 1061.7h0M861.5 1061.3h0M852.1 1060.8h0M864.6 1060.4h0M849 1060h0M867.7 1059.6h0M845.9 1059.1h0M870.8 1058.7h0M842.8 1058.3h0M873.9 1057.9h0M839.7 1057.5h0M877 1057h0M836.6 1056.6h0M880.1 1056.2h0M833.5 1055.8h0M883.2 1055.3h0M830.4 1054.9h0M886.3 1054.5h0M827.3 1054.1h0M858.4 1050.8h0M855.2 1050.4h0M861.5 1050h0M852.1 1049.6h0M864.6 1049.1h0M849 1048.7h0M867.7 1048.3h0M845.9 1047.9h0M870.8 1047.5h0M842.8 1047h0M873.9 1046.6h0M839.7 1046.2h0M877 1045.8h0M836.6 1045.3h0M880.1 1044.9h0M833.5 1044.5h0M883.2 1044.1h0M830.4 1043.6h0M886.3 1043.2h0M827.3 1042.8h0M858.4 1039.6h0M855.2 1039.1h0M861.5 1038.7h0M852.1 1038.3h0M864.6 1037.9h0M849 1037.4h0M867.7 1037h0M845.9 1036.6h0M870.8 1036.2h0M842.8 1035.8h0M873.9 1035.3h0M839.7 1034.9h0M877 1034.5h0M836.6 1034.1h0M880.1 1033.6h0M833.5 1033.2h0M883.2 1032.8h0M830.4 1032.4h0M886.3 1032h0M827.3 1031.5h0M858.4 1028.3h0M855.2 1027.9h0M861.5 1027.4h0M852.1 1027h0M864.6 1026.6h0M849 1026.2h0M867.7 1025.8h0M845.9 1025.3h0M870.8 1024.9h0M842.8 1024.5h0M873.9 1024.1h0M839.7 1023.6h0M877 1023.2h0M836.6 1022.8h0M880.1 1022.4h0M833.5 1021.9h0M883.2 1021.5h0M830.4 1021.1h0M886.3 1020.7h0M827.3 1020.3h0M861 1016.8h0M852.6 1015.9h0M869.4 1014.9h0M844.2 1013.9h0M877.9 1012.9h0M835.7 1011.9h0M886.3 1010.9h0M827.3 1010h0M856.8 1007.1h0M871.5 1005h0M842 1002.9h0M886.3 1000.8h0M827.3 998.8h0M856.8 996h0M876.8 992.5h0M836.8 989h0M866.8 984.6h0M846.8 979.4h0M856.8 961.1h0M856.8 1128.2h0M864.2 1127.4h0M849.4 1126.6h0M871.5 1125.8h0M842 1124.9h0M878.9 1124.1h0M834.7 1123.3h0M886.3 1122.5h0M827.3 1121.7h0M856.8 1137.9h0M864.2 1137.1h0M849.4 1136.3h0M871.5 1135.4h0M842 1134.6h0M878.9 1133.8h0M834.7 1133h0M886.3 1132.2h0M827.3 1131.4h0M866.6 1148h0M847 1145.5h0M886.3 1143.1h0M827.3 1140.7h0M856.8 1157.3h0M876.8 1154h0M836.8 1150.8h0M856.8 1167h0M876.8 1163.7h0M836.8 1160.5h0M856.8 1173.4h0" stroke="#ff2000" stroke-width="7" stroke-linecap="round" fill="none"/>
<line x1="856.8" y1="1037.1" x2="856.8" y2="1109.8" stroke="#000" stroke-width="1.4" stroke-linecap="butt"/>
<line x1="840.8" y1="1037.1" x2="872.8" y2="1037.1" stroke="#000" stroke-width="1.4" stroke-linecap="butt"/>
<line x1="840.8" y1="1109.8" x2="872.8" y2="1109.8" stroke="#000" stroke-width="1.4" stroke-linecap="butt"/>
<line x1="823.8" y1="1073.9" x2="889.8" y2="1073.9" stroke="#000" stroke-width="3.8" stroke-linecap="butt"/>
<path d="M959.5 1142.5l4.5 -8.1l4.5 8.1zM956.3 1142.1l4.5 -8.1l4.5 8.1zM962.6 1141.7l4.5 -8.1l4.5 8.1zM953.2 1141.3l4.5 -8.1l4.5 8.1zM965.7 1140.9l4.5 -8.1l4.5 8.1zM950.1 1140.5l4.5 -8.1l4.5 8.1zM968.8 1140.1l4.5 -8.1l4.5 8.1zM947 1139.7l4.5 -8.1l4.5 8.1zM971.9 1139.3l4.5 -8.1l4.5 8.1zM943.9 1138.9l4.5 -8.1l4.5 8.1zM975 1138.5l4.5 -8.1l4.5 8.1zM940.8 1138.1l4.5 -8.1l4.5 8.1zM978.1 1137.7l4.5 -8.1l4.5 8.1zM937.7 1137.3l4.5 -8.1l4.5 8.1zM981.2 1136.9l4.5 -8.1l4.5 8.1zM934.6 1136.5l4.5 -8.1l4.5 8.1zM984.3 1136.1l4.5 -8.1l4.5 8.1zM931.5 1135.7l4.5 -8.1l4.5 8.1zM987.4 1135.3l4.5 -8.1l4.5 8.1zM928.4 1134.9l4.5 -8.1l4.5 8.1zM959.5 1131.8l4.5 -8.1l4.5 8.1zM956.3 1131.4l4.5 -8.1l4.5 8.1zM962.6 1131l4.5 -8.1l4.5 8.1zM953.2 1130.6l4.5 -8.1l4.5 8.1zM965.7 1130.2l4.5 -8.1l4.5 8.1zM950.1 1129.8l4.5 -8.1l4.5 8.1zM968.8 1129.4l4.5 -8.1l4.5 8.1zM947 1129l4.5 -8.1l4.5 8.1zM971.9 1128.6l4.5 -8.1l4.5 8.1zM943.9 1128.2l4.5 -8.1l4.5 8.1zM975 1127.8l4.5 -8.1l4.5 8.1zM940.8 1127.4l4.5 -8.1l4.5 8.1zM978.1 1127l4.5 -8.1l4.5 8.1zM937.7 1126.6l4.5 -8.1l4.5 8.1zM981.2 1126.2l4.5 -8.1l4.5 8.1zM934.6 1125.8l4.5 -8.1l4.5 8.1zM984.3 1125.4l4.5 -8.1l4.5 8.1zM931.5 1125l4.5 -8.1l4.5 8.1zM987.4 1124.6l4.5 -8.1l4.5 8.1zM928.4 1124.2l4.5 -8.1l4.5 8.1zM959.5 1121.1l4.5 -8.1l4.5 8.1zM956.3 1120.7l4.5 -8.1l4.5 8.1zM962.6 1120.3l4.5 -8.1l4.5 8.1zM953.2 1119.9l4.5 -8.1l4.5 8.1zM965.7 1119.5l4.5 -8.1l4.5 8.1zM950.1 1119.1l4.5 -8.1l4.5 8.1zM968.8 1118.7l4.5 -8.1l4.5 8.1zM947 1118.3l4.5 -8.1l4.5 8.1zM971.9 1117.9l4.5 -8.1l4.5 8.1zM943.9 1117.5l4.5 -8.1l4.5 8.1zM975 1117.1l4.5 -8.1l4.5 8.1zM940.8 1116.7l4.5 -8.1l4.5 8.1zM978.1 1116.3l4.5 -8.1l4.5 8.1zM937.7 1115.9l4.5 -8.1l4.5 8.1zM981.2 1115.5l4.5 -8.1l4.5 8.1zM934.6 1115.1l4.5 -8.1l4.5 8.1zM984.3 1114.7l4.5 -8.1l4.5 8.1zM931.5 1114.3l4.5 -8.1l4.5 8.1zM987.4 1113.9l4.5 -8.1l4.5 8.1zM928.4 1113.5l4.5 -8.1l4.5 8.1zM959.5 1110.5l4.5 -8.1l4.5 8.1zM956.3 1110.1l4.5 -8.1l4.5 8.1zM962.6 1109.7l4.5 -8.1l4.5 8.1zM953.2 1109.3l4.5 -8.1l4.5 8.1zM965.7 1108.9l4.5 -8.1l4.5 8.1zM950.1 1108.5l4.5 -8.1l4.5 8.1zM968.8 1108.1l4.5 -8.1l4.5 8.1zM947 1107.7l4.5 -8.1l4.5 8.1zM971.9 1107.3l4.5 -8.1l4.5 8.1zM943.9 1106.9l4.5 -8.1l4.5 8.1zM975 1106.5l4.5 -8.1l4.5 8.1zM940.8 1106.1l4.5 -8.1l4.5 8.1zM978.1 1105.7l4.5 -8.1l4.5 8.1zM937.7 1105.3l4.5 -8.1l4.5 8.1zM981.2 1104.9l4.5 -8.1l4.5 8.1zM934.6 1104.5l4.5 -8.1l4.5 8.1zM984.3 1104.1l4.5 -8.1l4.5 8.1zM931.5 1103.7l4.5 -8.1l4.5 8.1zM987.4 1103.3l4.5 -8.1l4.5 8.1zM928.4 1102.9l4.5 -8.1l4.5 8.1zM959.5 1099.8l4.5 -8.1l4.5 8.1zM956.3 1099.4l4.5 -8.1l4.5 8.1zM962.6 1099l4.5 -8.1l4.5 8.1zM953.2 1098.6l4.5 -8.1l4.5 8.1zM965.7 1098.2l4.5 -8.1l4.5 8.1zM950.1 1097.8l4.5 -8.1l4.5 8.1zM968.8 1097.4l4.5 -8.1l4.5 8.1zM947 1097l4.5 -8.1l4.5 8.1zM971.9 1096.6l4.5 -8.1l4.5 8.1zM943.9 1096.2l4.5 -8.1l4.5 8.1zM975 1095.8l4.5 -8.1l4.5 8.1zM940.8 1095.4l4.5 -8.1l4.5 8.1zM978.1 1095l4.5 -8.1l4.5 8.1zM937.7 1094.6l4.5 -8.1l4.5 8.1zM981.2 1094.2l4.5 -8.1l4.5 8.1zM934.6 1093.8l4.5 -8.1l4.5 8.1zM984.3 1093.4l4.5 -8.1l4.5 8.1zM931.5 1093l4.5 -8.1l4.5 8.1zM987.4 1092.6l4.5 -8.1l4.5 8.1zM928.4 1092.2l4.5 -8.1l4.5 8.1zM959.5 1089.1l4.5 -8.1l4.5 8.1zM956.3 1088.7l4.5 -8.1l4.5 8.1zM962.6 1088.3l4.5 -8.1l4.5 8.1zM953.2 1087.9l4.5 -8.1l4.5 8.1zM965.7 1087.5l4.5 -8.1l4.5 8.1zM950.1 1087.1l4.5 -8.1l4.5 8.1zM968.8 1086.7l4.5 -8.1l4.5 8.1zM947 1086.3l4.5 -8.1l4.5 8.1zM971.9 1085.9l4.5 -8.1l4.5 8.1zM943.9 1085.5l4.5 -8.1l4.5 8.1zM975 1085.1l4.5 -8.1l4.5 8.1zM940.8 1084.7l4.5 -8.1l4.5 8.1zM978.1 1084.3l4.5 -8.1l4.5 8.1zM937.7 1083.9l4.5 -8.1l4.5 8.1zM981.2 1083.5l4.5 -8.1l4.5 8.1zM934.6 1083.1l4.5 -8.1l4.5 8.1zM984.3 1082.7l4.5 -8.1l4.5 8.1zM931.5 1082.3l4.5 -8.1l4.5 8.1zM987.4 1081.9l4.5 -8.1l4.5 8.1zM928.4 1081.5l4.5 -8.1l4.5 8.1zM959.5 1078.5l4.5 -8.1l4.5 8.1zM956.3 1078.1l4.5 -8.1l4.5 8.1zM962.6 1077.7l4.5 -8.1l4.5 8.1zM953.2 1077.3l4.5 -8.1l4.5 8.1zM965.7 1076.9l4.5 -8.1l4.5 8.1zM950.1 1076.5l4.5 -8.1l4.5 8.1zM968.8 1076.1l4.5 -8.1l4.5 8.1zM947 1075.7l4.5 -8.1l4.5 8.1zM971.9 1075.3l4.5 -8.1l4.5 8.1zM943.9 1074.9l4.5 -8.1l4.5 8.1zM975 1074.5l4.5 -8.1l4.5 8.1zM940.8 1074.1l4.5 -8.1l4.5 8.1zM978.1 1073.7l4.5 -8.1l4.5 8.1zM937.7 1073.3l4.5 -8.1l4.5 8.1zM981.2 1072.9l4.5 -8.1l4.5 8.1zM934.6 1072.5l4.5 -8.1l4.5 8.1zM984.3 1072.1l4.5 -8.1l4.5 8.1zM931.5 1071.7l4.5 -8.1l4.5 8.1zM987.4 1071.3l4.5 -8.1l4.5 8.1zM928.4 1070.9l4.5 -8.1l4.5 8.1zM959.5 1067.8l4.5 -8.1l4.5 8.1zM956.3 1067.4l4.5 -8.1l4.5 8.1zM962.6 1067l4.5 -8.1l4.5 8.1zM953.2 1066.6l4.5 -8.1l4.5 8.1zM965.7 1066.2l4.5 -8.1l4.5 8.1zM950.1 1065.8l4.5 -8.1l4.5 8.1zM968.8 1065.4l4.5 -8.1l4.5 8.1zM947 1065l4.5 -8.1l4.5 8.1zM971.9 1064.6l4.5 -8.1l4.5 8.1zM943.9 1064.2l4.5 -8.1l4.5 8.1zM975 1063.8l4.5 -8.1l4.5 8.1zM940.8 1063.4l4.5 -8.1l4.5 8.1zM978.1 1063l4.5 -8.1l4.5 8.1zM937.7 1062.6l4.5 -8.1l4.5 8.1zM981.2 1062.2l4.5 -8.1l4.5 8.1zM934.6 1061.8l4.5 -8.1l4.5 8.1zM984.3 1061.4l4.5 -8.1l4.5 8.1zM931.5 1061l4.5 -8.1l4.5 8.1zM987.4 1060.6l4.5 -8.1l4.5 8.1zM928.4 1060.2l4.5 -8.1l4.5 8.1zM959.5 1057.1l4.5 -8.1l4.5 8.1zM956.3 1056.7l4.5 -8.1l4.5 8.1zM962.6 1056.3l4.5 -8.1l4.5 8.1zM953.2 1055.9l4.5 -8.1l4.5 8.1zM965.7 1055.5l4.5 -8.1l4.5 8.1zM950.1 1055.1l4.5 -8.1l4.5 8.1zM968.8 1054.7l4.5 -8.1l4.5 8.1zM947 1054.3l4.5 -8.1l4.5 8.1zM971.9 1053.9l4.5 -8.1l4.5 8.1zM943.9 1053.5l4.5 -8.1l4.5 8.1zM975 1053.1l4.5 -8.1l4.5 8.1zM940.8 1052.7l4.5 -8.1l4.5 8.1zM978.1 1052.3l4.5 -8.1l4.5 8.1zM937.7 1051.9l4.5 -8.1l4.5 8.1zM981.2 1051.5l4.5 -8.1l4.5 8.1zM934.6 1051.1l4.5 -8.1l4.5 8.1zM984.3 1050.7l4.5 -8.1l4.5 8.1zM931.5 1050.3l4.5 -8.1l4.5 8.1zM987.4 1049.9l4.5 -8.1l4.5 8.1zM928.4 1049.5l4.5 -8.1l4.5 8.1zM959.5 1046.5l4.5 -8.1l4.5 8.1zM956.3 1046.1l4.5 -8.1l4.5 8.1zM962.6 1045.7l4.5 -8.1l4.5 8.1zM953.2 1045.3l4.5 -8.1l4.5 8.1zM965.7 1044.9l4.5 -8.1l4.5 8.1zM950.1 1044.5l4.5 -8.1l4.5 8.1zM968.8 1044.1l4.5 -8.1l4.5 8.1zM947 1043.7l4.5 -8.1l4.5 8.1zM971.9 1043.3l4.5 -8.1l4.5 8.1zM943.9 1042.9l4.5 -8.1l4.5 8.1zM975 1042.5l4.5 -8.1l4.5 8.1zM940.8 1042.1l4.5 -8.1l4.5 8.1zM978.1 1041.7l4.5 -8.1l4.5 8.1zM937.7 1041.3l4.5 -8.1l4.5 8.1zM981.2 1040.9l4.5 -8.1l4.5 8.1zM934.6 1040.5l4.5 -8.1l4.5 8.1zM984.3 1040.1l4.5 -8.1l4.5 8.1zM931.5 1039.7l4.5 -8.1l4.5 8.1zM987.4 1039.3l4.5 -8.1l4.5 8.1zM928.4 1038.9l4.5 -8.1l4.5 8.1zM959.5 1035.8l4.5 -8.1l4.5 8.1zM956.3 1035.4l4.5 -8.1l4.5 8.1zM962.6 1035l4.5 -8.1l4.5 8.1zM953.2 1034.6l4.5 -8.1l4.5 8.1zM965.7 1034.2l4.5 -8.1l4.5 8.1zM950.1 1033.8l4.5 -8.1l4.5 8.1zM968.8 1033.4l4.5 -8.1l4.5 8.1zM947 1033l4.5 -8.1l4.5 8.1zM971.9 1032.6l4.5 -8.1l4.5 8.1zM943.9 1032.2l4.5 -8.1l4.5 8.1zM975 1031.8l4.5 -8.1l4.5 8.1zM940.8 1031.4l4.5 -8.1l4.5 8.1zM978.1 1031l4.5 -8.1l4.5 8.1zM937.7 1030.6l4.5 -8.1l4.5 8.1zM981.2 1030.2l4.5 -8.1l4.5 8.1zM934.6 1029.8l4.5 -8.1l4.5 8.1zM984.3 1029.4l4.5 -8.1l4.5 8.1zM931.5 1029l4.5 -8.1l4.5 8.1zM987.4 1028.6l4.5 -8.1l4.5 8.1zM928.4 1028.2l4.5 -8.1l4.5 8.1zM959.5 1025.1l4.5 -8.1l4.5 8.1zM956.3 1024.7l4.5 -8.1l4.5 8.1zM962.6 1024.3l4.5 -8.1l4.5 8.1zM953.2 1023.9l4.5 -8.1l4.5 8.1zM965.7 1023.5l4.5 -8.1l4.5 8.1zM950.1 1023.1l4.5 -8.1l4.5 8.1zM968.8 1022.7l4.5 -8.1l4.5 8.1zM947 1022.3l4.5 -8.1l4.5 8.1zM971.9 1021.9l4.5 -8.1l4.5 8.1zM943.9 1021.5l4.5 -8.1l4.5 8.1zM975 1021.1l4.5 -8.1l4.5 8.1zM940.8 1020.7l4.5 -8.1l4.5 8.1zM978.1 1020.3l4.5 -8.1l4.5 8.1zM937.7 1019.9l4.5 -8.1l4.5 8.1zM981.2 1019.5l4.5 -8.1l4.5 8.1zM934.6 1019.1l4.5 -8.1l4.5 8.1zM984.3 1018.7l4.5 -8.1l4.5 8.1zM931.5 1018.3l4.5 -8.1l4.5 8.1zM987.4 1017.9l4.5 -8.1l4.5 8.1zM928.4 1017.5l4.5 -8.1l4.5 8.1zM967.7 1014.6l4.5 -8.1l4.5 8.1zM948.1 1011.6l4.5 -8.1l4.5 8.1zM987.4 1008.7l4.5 -8.1l4.5 8.1zM928.4 1005.8l4.5 -8.1l4.5 8.1zM957.9 1002.4l4.5 -8.1l4.5 8.1zM977.9 998.6l4.5 -8.1l4.5 8.1zM937.9 994.7l4.5 -8.1l4.5 8.1zM957.9 990.8l4.5 -8.1l4.5 8.1zM977.9 986.9l4.5 -8.1l4.5 8.1zM937.9 983l4.5 -8.1l4.5 8.1zM957.9 952l4.5 -8.1l4.5 8.1zM957.9 1149.8l4.5 -8.1l4.5 8.1zM977.9 1147.5l4.5 -8.1l4.5 8.1zM937.9 1145.2l4.5 -8.1l4.5 8.1zM957.9 1156.9l4.5 -8.1l4.5 8.1zM977.9 1154.5l4.5 -8.1l4.5 8.1zM937.9 1152.2l4.5 -8.1l4.5 8.1zM957.9 1168.5l4.5 -8.1l4.5 8.1z" fill="#ff2000"/>
<line x1="962.4" y1="1038" x2="962.4" y2="1106.4" stroke="#000" stroke-width="1.4" stroke-linecap="butt"/>
<line x1="946.4" y1="1038" x2="978.4" y2="1038" stroke="#000" stroke-width="1.4" stroke-linecap="butt"/>
<line x1="946.4" y1="1106.4" x2="978.4" y2="1106.4" stroke="#000" stroke-width="1.4" stroke-linecap="butt"/>
<line x1="928.4" y1="1073" x2="996.4" y2="1073" stroke="#000" stroke-width="3.8" stroke-linecap="butt"/>
<path d="M1067.7 1192.4h0M1072.6 1191.9h0M1062.8 1191.4h0M1077.5 1190.9h0M1057.9 1190.4h0M1082.5 1189.9h0M1053 1189.4h0M1087.4 1188.9h0M1048 1188.4h0M1092.3 1187.9h0M1043.1 1187.4h0M1097.2 1186.9h0M1038.2 1186.4h0M1067.7 1183.8h0M1072.6 1183.3h0M1062.8 1182.8h0M1077.5 1182.3h0M1057.9 1181.8h0M1082.5 1181.3h0M1053 1180.8h0M1087.4 1180.3h0M1048 1179.9h0M1092.3 1179.4h0M1043.1 1178.9h0M1097.2 1178.4h0M1038.2 1177.9h0M1069.3 1175h0M1066.1 1174.6h0M1072.4 1174.2h0M1063 1173.8h0M1075.5 1173.4h0M1059.9 1173h0M1078.6 1172.6h0M1056.8 1172.2h0M1081.7 1171.8h0M1053.7 1171.4h0M1084.8 1171h0M1050.6 1170.6h0M1087.9 1170.2h0M1047.5 1169.8h0M1091 1169.4h0M1044.4 1168.9h0M1094.1 1168.5h0M1041.3 1168.1h0M1097.2 1167.7h0M1038.2 1167.3h0M1069.3 1164.2h0M1066.1 1163.8h0M1072.4 1163.4h0M1063 1163h0M1075.5 1162.6h0M1059.9 1162.2h0M1078.6 1161.8h0M1056.8 1161.4h0M1081.7 1161h0M1053.7 1160.6h0M1084.8 1160.2h0M1050.6 1159.8h0M1087.9 1159.4h0M1047.5 1159h0M1091 1158.6h0M1044.4 1158.2h0M1094.1 1157.8h0M1041.3 1157.4h0M1097.2 1157h0M1038.2 1156.6h0M1069.3 1153.5h0M1066.1 1153h0M1072.4 1152.6h0M1063 1152.2h0M1075.5 1151.8h0M1059.9 1151.4h0M1078.6 1151h0M1056.8 1150.6h0M1081.7 1150.2h0M1053.7 1149.8h0M1084.8 1149.4h0M1050.6 1149h0M1087.9 1148.6h0M1047.5 1148.2h0M1091 1147.8h0M1044.4 1147.4h0M1094.1 1147h0M1041.3 1146.6h0M1097.2 1146.2h0M1038.2 1145.8h0M1069.3 1142.7h0M1066.1 1142.3h0M1072.4 1141.9h0M1063 1141.5h0M1075.5 1141.1h0M1059.9 1140.7h0M1078.6 1140.2h0M1056.8 1139.8h0M1081.7 1139.4h0M1053.7 1139h0M1084.8 1138.6h0M1050.6 1138.2h0M1087.9 1137.8h0M1047.5 1137.4h0M1091 1137h0M1044.4 1136.6h0M1094.1 1136.2h0M1041.3 1135.8h0M1097.2 1135.4h0M1038.2 1135h0M1069.3 1131.9h0M1066.1 1131.5h0M1072.4 1131.1h0M1063 1130.7h0M1075.5 1130.3h0M1059.9 1129.9h0M1078.6 1129.5h0M1056.8 1129.1h0M1081.7 1128.7h0M1053.7 1128.3h0M1084.8 1127.9h0M1050.6 1127.4h0M1087.9 1127h0M1047.5 1126.6h0M1091 1126.2h0M1044.4 1125.8h0M1094.1 1125.4h0M1041.3 1125h0M1097.2 1124.6h0M1038.2 1124.2h0M1069.3 1121.1h0M1066.1 1120.7h0M1072.4 1120.3h0M1063 1119.9h0M1075.5 1119.5h0M1059.9 1119.1h0M1078.6 1118.7h0M1056.8 1118.3h0M1081.7 1117.9h0M1053.7 1117.5h0M1084.8 1117.1h0M1050.6 1116.7h0M1087.9 1116.3h0M1047.5 1115.9h0M1091 1115.5h0M1044.4 1115.1h0M1094.1 1114.6h0M1041.3 1114.2h0M1097.2 1113.8h0M1038.2 1113.4h0M1069.3 1110.3h0M1066.1 1109.9h0M1072.4 1109.5h0M1063 1109.1h0M1075.5 1108.7h0M1059.9 1108.3h0M1078.6 1107.9h0M1056.8 1107.5h0M1081.7 1107.1h0M1053.7 1106.7h0M1084.8 1106.3h0M1050.6 1105.9h0M1087.9 1105.5h0M1047.5 1105.1h0M1091 1104.7h0M1044.4 1104.3h0M1094.1 1103.9h0M1041.3 1103.5h0M1097.2 1103.1h0M1038.2 1102.7h0M1069.3 1099.6h0M1066.1 1099.2h0M1072.4 1098.7h0M1063 1098.3h0M1075.5 1097.9h0M1059.9 1097.5h0M1078.6 1097.1h0M1056.8 1096.7h0M1081.7 1096.3h0M1053.7 1095.9h0M1084.8 1095.5h0M1050.6 1095.1h0M1087.9 1094.7h0M1047.5 1094.3h0M1091 1093.9h0M1044.4 1093.5h0M1094.1 1093.1h0M1041.3 1092.7h0M1097.2 1092.3h0M1038.2 1091.9h0M1069.3 1088.8h0M1066.1 1088.4h0M1072.4 1088h0M1063 1087.6h0M1075.5 1087.2h0M1059.9 1086.8h0M1078.6 1086.4h0M1056.8 1085.9h0M1081.7 1085.5h0M1053.7 1085.1h0M1084.8 1084.7h0M1050.6 1084.3h0M1087.9 1083.9h0M1047.5 1083.5h0M1091 1083.1h0M1044.4 1082.7h0M1094.1 1082.3h0M1041.3 1081.9h0M1097.2 1081.5h0M1038.2 1081.1h0M1069.3 1078h0M1066.1 1077.6h0M1072.4 1077.2h0M1063 1076.8h0M1075.5 1076.4h0M1059.9 1076h0M1078.6 1075.6h0M1056.8 1075.2h0M1081.7 1074.8h0M1053.7 1074.4h0M1084.8 1074h0M1050.6 1073.6h0M1087.9 1073.1h0M1047.5 1072.7h0M1091 1072.3h0M1044.4 1071.9h0M1094.1 1071.5h0M1041.3 1071.1h0M1097.2 1070.7h0M1038.2 1070.3h0M1067.7 1066.8h0M1075.1 1065.9h0M1060.3 1064.9h0M1082.5 1063.9h0M1053 1062.9h0M1089.8 1062h0M1045.6 1061h0M1097.2 1060h0M1038.2 1059.1h0M1073.6 1056.1h0M1061.8 1054.2h0M1085.4 1052.3h0M1050 1050.3h0M1097.2 1048.4h0M1038.2 1046.4h0M1073.6 1044.5h0M1061.8 1042.5h0M1085.4 1040.6h0M1050 1038.7h0M1097.2 1036.7h0M1038.2 1034.8h0M1077.5 1032.3h0M1057.9 1029.4h0M1097.2 1026.5h0M1038.2 1023.6h0M1077.5 1020.7h0M1057.9 1017.8h0M1097.2 1014.9h0M1038.2 1011.9h0M1077.7 1007.6h0M1057.7 1001.7h0M1067.7 981.3h0M1073.6 1203.1h0M1061.8 1201.4h0M1085.4 1199.7h0M1050 1197.9h0M1097.2 1196.2h0M1038.2 1194.5h0M1067.7 1213.2h0M1082.5 1211.1h0M1053 1209.1h0M1097.2 1207h0M1038.2 1205h0" stroke="#0a30ff" stroke-width="7" stroke-linecap="round" fill="none"/>
<line x1="1067.7" y1="1082.5" x2="1067.7" y2="1163.7" stroke="#000" stroke-width="1.4" stroke-linecap="butt"/>
<line x1="1051.7" y1="1082.5" x2="1083.7" y2="1082.5" stroke="#000" stroke-width="1.4" stroke-linecap="butt"/>
<line x1="1051.7" y1="1163.7" x2="1083.7" y2="1163.7" stroke="#000" stroke-width="1.4" stroke-linecap="butt"/>
<line x1="1034.7" y1="1123.5" x2="1100.7" y2="1123.5" stroke="#000" stroke-width="3.8" stroke-linecap="butt"/>
<path d="M1170.9 1127.7l4.5 -8.1l4.5 8.1zM1167.7 1127.3l4.5 -8.1l4.5 8.1zM1174 1126.9l4.5 -8.1l4.5 8.1zM1164.6 1126.5l4.5 -8.1l4.5 8.1zM1177.1 1126.2l4.5 -8.1l4.5 8.1zM1161.5 1125.8l4.5 -8.1l4.5 8.1zM1180.2 1125.4l4.5 -8.1l4.5 8.1zM1158.4 1125l4.5 -8.1l4.5 8.1zM1183.3 1124.6l4.5 -8.1l4.5 8.1zM1155.3 1124.2l4.5 -8.1l4.5 8.1zM1186.4 1123.8l4.5 -8.1l4.5 8.1zM1152.2 1123.4l4.5 -8.1l4.5 8.1zM1189.5 1123l4.5 -8.1l4.5 8.1zM1149.1 1122.6l4.5 -8.1l4.5 8.1zM1192.6 1122.2l4.5 -8.1l4.5 8.1zM1146 1121.8l4.5 -8.1l4.5 8.1zM1195.7 1121.4l4.5 -8.1l4.5 8.1zM1142.9 1121l4.5 -8.1l4.5 8.1zM1198.8 1120.6l4.5 -8.1l4.5 8.1zM1139.8 1120.2l4.5 -8.1l4.5 8.1zM1170.9 1117.1l4.5 -8.1l4.5 8.1zM1167.7 1116.7l4.5 -8.1l4.5 8.1zM1174 1116.3l4.5 -8.1l4.5 8.1zM1164.6 1115.9l4.5 -8.1l4.5 8.1zM1177.1 1115.5l4.5 -8.1l4.5 8.1zM1161.5 1115.1l4.5 -8.1l4.5 8.1zM1180.2 1114.7l4.5 -8.1l4.5 8.1zM1158.4 1114.3l4.5 -8.1l4.5 8.1zM1183.3 1113.9l4.5 -8.1l4.5 8.1zM1155.3 1113.5l4.5 -8.1l4.5 8.1zM1186.4 1113.1l4.5 -8.1l4.5 8.1zM1152.2 1112.7l4.5 -8.1l4.5 8.1zM1189.5 1112.3l4.5 -8.1l4.5 8.1zM1149.1 1111.9l4.5 -8.1l4.5 8.1zM1192.6 1111.5l4.5 -8.1l4.5 8.1zM1146 1111.1l4.5 -8.1l4.5 8.1zM1195.7 1110.7l4.5 -8.1l4.5 8.1zM1142.9 1110.3l4.5 -8.1l4.5 8.1zM1198.8 1109.9l4.5 -8.1l4.5 8.1zM1139.8 1109.5l4.5 -8.1l4.5 8.1zM1170.9 1106.4l4.5 -8.1l4.5 8.1zM1167.7 1106l4.5 -8.1l4.5 8.1zM1174 1105.6l4.5 -8.1l4.5 8.1zM1164.6 1105.2l4.5 -8.1l4.5 8.1zM1177.1 1104.8l4.5 -8.1l4.5 8.1zM1161.5 1104.4l4.5 -8.1l4.5 8.1zM1180.2 1104l4.5 -8.1l4.5 8.1zM1158.4 1103.6l4.5 -8.1l4.5 8.1zM1183.3 1103.2l4.5 -8.1l4.5 8.1zM1155.3 1102.8l4.5 -8.1l4.5 8.1zM1186.4 1102.4l4.5 -8.1l4.5 8.1zM1152.2 1102l4.5 -8.1l4.5 8.1zM1189.5 1101.6l4.5 -8.1l4.5 8.1zM1149.1 1101.2l4.5 -8.1l4.5 8.1zM1192.6 1100.8l4.5 -8.1l4.5 8.1zM1146 1100.4l4.5 -8.1l4.5 8.1zM1195.7 1100l4.5 -8.1l4.5 8.1zM1142.9 1099.6l4.5 -8.1l4.5 8.1zM1198.8 1099.2l4.5 -8.1l4.5 8.1zM1139.8 1098.8l4.5 -8.1l4.5 8.1zM1170.9 1095.8l4.5 -8.1l4.5 8.1zM1167.7 1095.4l4.5 -8.1l4.5 8.1zM1174 1095l4.5 -8.1l4.5 8.1zM1164.6 1094.6l4.5 -8.1l4.5 8.1zM1177.1 1094.2l4.5 -8.1l4.5 8.1zM1161.5 1093.8l4.5 -8.1l4.5 8.1zM1180.2 1093.4l4.5 -8.1l4.5 8.1zM1158.4 1093l4.5 -8.1l4.5 8.1zM1183.3 1092.6l4.5 -8.1l4.5 8.1zM1155.3 1092.2l4.5 -8.1l4.5 8.1zM1186.4 1091.8l4.5 -8.1l4.5 8.1zM1152.2 1091.4l4.5 -8.1l4.5 8.1zM1189.5 1091l4.5 -8.1l4.5 8.1zM1149.1 1090.6l4.5 -8.1l4.5 8.1zM1192.6 1090.2l4.5 -8.1l4.5 8.1zM1146 1089.8l4.5 -8.1l4.5 8.1zM1195.7 1089.4l4.5 -8.1l4.5 8.1zM1142.9 1089l4.5 -8.1l4.5 8.1zM1198.8 1088.6l4.5 -8.1l4.5 8.1zM1139.8 1088.2l4.5 -8.1l4.5 8.1zM1170.9 1085.1l4.5 -8.1l4.5 8.1zM1167.7 1084.7l4.5 -8.1l4.5 8.1zM1174 1084.3l4.5 -8.1l4.5 8.1zM1164.6 1083.9l4.5 -8.1l4.5 8.1zM1177.1 1083.5l4.5 -8.1l4.5 8.1zM1161.5 1083.1l4.5 -8.1l4.5 8.1zM1180.2 1082.7l4.5 -8.1l4.5 8.1zM1158.4 1082.3l4.5 -8.1l4.5 8.1zM1183.3 1081.9l4.5 -8.1l4.5 8.1zM1155.3 1081.5l4.5 -8.1l4.5 8.1zM1186.4 1081.1l4.5 -8.1l4.5 8.1zM1152.2 1080.7l4.5 -8.1l4.5 8.1zM1189.5 1080.3l4.5 -8.1l4.5 8.1zM1149.1 1079.9l4.5 -8.1l4.5 8.1zM1192.6 1079.5l4.5 -8.1l4.5 8.1zM1146 1079.1l4.5 -8.1l4.5 8.1zM1195.7 1078.7l4.5 -8.1l4.5 8.1zM1142.9 1078.3l4.5 -8.1l4.5 8.1zM1198.8 1077.9l4.5 -8.1l4.5 8.1zM1139.8 1077.5l4.5 -8.1l4.5 8.1zM1170.9 1074.5l4.5 -8.1l4.5 8.1zM1167.7 1074.1l4.5 -8.1l4.5 8.1zM1174 1073.7l4.5 -8.1l4.5 8.1zM1164.6 1073.3l4.5 -8.1l4.5 8.1zM1177.1 1072.9l4.5 -8.1l4.5 8.1zM1161.5 1072.5l4.5 -8.1l4.5 8.1zM1180.2 1072.1l4.5 -8.1l4.5 8.1zM1158.4 1071.7l4.5 -8.1l4.5 8.1zM1183.3 1071.3l4.5 -8.1l4.5 8.1zM1155.3 1070.9l4.5 -8.1l4.5 8.1zM1186.4 1070.5l4.5 -8.1l4.5 8.1zM1152.2 1070.1l4.5 -8.1l4.5 8.1zM1189.5 1069.7l4.5 -8.1l4.5 8.1zM1149.1 1069.3l4.5 -8.1l4.5 8.1zM1192.6 1068.9l4.5 -8.1l4.5 8.1zM1146 1068.5l4.5 -8.1l4.5 8.1zM1195.7 1068.1l4.5 -8.1l4.5 8.1zM1142.9 1067.7l4.5 -8.1l4.5 8.1zM1198.8 1067.3l4.5 -8.1l4.5 8.1zM1139.8 1066.9l4.5 -8.1l4.5 8.1zM1170.9 1063.8l4.5 -8.1l4.5 8.1zM1167.7 1063.4l4.5 -8.1l4.5 8.1zM1174 1063l4.5 -8.1l4.5 8.1zM1164.6 1062.6l4.5 -8.1l4.5 8.1zM1177.1 1062.2l4.5 -8.1l4.5 8.1zM1161.5 1061.8l4.5 -8.1l4.5 8.1zM1180.2 1061.4l4.5 -8.1l4.5 8.1zM1158.4 1061l4.5 -8.1l4.5 8.1zM1183.3 1060.6l4.5 -8.1l4.5 8.1zM1155.3 1060.2l4.5 -8.1l4.5 8.1zM1186.4 1059.8l4.5 -8.1l4.5 8.1zM1152.2 1059.4l4.5 -8.1l4.5 8.1zM1189.5 1059l4.5 -8.1l4.5 8.1zM1149.1 1058.6l4.5 -8.1l4.5 8.1zM1192.6 1058.2l4.5 -8.1l4.5 8.1zM1146 1057.8l4.5 -8.1l4.5 8.1zM1195.7 1057.4l4.5 -8.1l4.5 8.1zM1142.9 1057l4.5 -8.1l4.5 8.1zM1198.8 1056.6l4.5 -8.1l4.5 8.1zM1139.8 1056.2l4.5 -8.1l4.5 8.1zM1170.9 1053.2l4.5 -8.1l4.5 8.1zM1167.7 1052.8l4.5 -8.1l4.5 8.1zM1174 1052.4l4.5 -8.1l4.5 8.1zM1164.6 1052l4.5 -8.1l4.5 8.1zM1177.1 1051.6l4.5 -8.1l4.5 8.1zM1161.5 1051.2l4.5 -8.1l4.5 8.1zM1180.2 1050.8l4.5 -8.1l4.5 8.1zM1158.4 1050.4l4.5 -8.1l4.5 8.1zM1183.3 1050l4.5 -8.1l4.5 8.1zM1155.3 1049.6l4.5 -8.1l4.5 8.1zM1186.4 1049.2l4.5 -8.1l4.5 8.1zM1152.2 1048.8l4.5 -8.1l4.5 8.1zM1189.5 1048.4l4.5 -8.1l4.5 8.1zM1149.1 1048l4.5 -8.1l4.5 8.1zM1192.6 1047.6l4.5 -8.1l4.5 8.1zM1146 1047.2l4.5 -8.1l4.5 8.1zM1195.7 1046.8l4.5 -8.1l4.5 8.1zM1142.9 1046.4l4.5 -8.1l4.5 8.1zM1198.8 1046l4.5 -8.1l4.5 8.1zM1139.8 1045.6l4.5 -8.1l4.5 8.1zM1170.9 1042.5l4.5 -8.1l4.5 8.1zM1167.7 1042.1l4.5 -8.1l4.5 8.1zM1174 1041.7l4.5 -8.1l4.5 8.1zM1164.6 1041.3l4.5 -8.1l4.5 8.1zM1177.1 1040.9l4.5 -8.1l4.5 8.1zM1161.5 1040.5l4.5 -8.1l4.5 8.1zM1180.2 1040.1l4.5 -8.1l4.5 8.1zM1158.4 1039.7l4.5 -8.1l4.5 8.1zM1183.3 1039.3l4.5 -8.1l4.5 8.1zM1155.3 1038.9l4.5 -8.1l4.5 8.1zM1186.4 1038.5l4.5 -8.1l4.5 8.1zM1152.2 1038.1l4.5 -8.1l4.5 8.1zM1189.5 1037.7l4.5 -8.1l4.5 8.1zM1149.1 1037.3l4.5 -8.1l4.5 8.1zM1192.6 1036.9l4.5 -8.1l4.5 8.1zM1146 1036.5l4.5 -8.1l4.5 8.1zM1195.7 1036.1l4.5 -8.1l4.5 8.1zM1142.9 1035.7l4.5 -8.1l4.5 8.1zM1198.8 1035.3l4.5 -8.1l4.5 8.1zM1139.8 1034.9l4.5 -8.1l4.5 8.1zM1170.9 1031.9l4.5 -8.1l4.5 8.1zM1167.7 1031.5l4.5 -8.1l4.5 8.1zM1174 1031.1l4.5 -8.1l4.5 8.1zM1164.6 1030.7l4.5 -8.1l4.5 8.1zM1177.1 1030.3l4.5 -8.1l4.5 8.1zM1161.5 1029.9l4.5 -8.1l4.5 8.1zM1180.2 1029.5l4.5 -8.1l4.5 8.1zM1158.4 1029.1l4.5 -8.1l4.5 8.1zM1183.3 1028.7l4.5 -8.1l4.5 8.1zM1155.3 1028.3l4.5 -8.1l4.5 8.1zM1186.4 1027.9l4.5 -8.1l4.5 8.1zM1152.2 1027.5l4.5 -8.1l4.5 8.1zM1189.5 1027.1l4.5 -8.1l4.5 8.1zM1149.1 1026.7l4.5 -8.1l4.5 8.1zM1192.6 1026.3l4.5 -8.1l4.5 8.1zM1146 1025.9l4.5 -8.1l4.5 8.1zM1195.7 1025.5l4.5 -8.1l4.5 8.1zM1142.9 1025.1l4.5 -8.1l4.5 8.1zM1198.8 1024.7l4.5 -8.1l4.5 8.1zM1139.8 1024.3l4.5 -8.1l4.5 8.1zM1170.9 1021.2l4.5 -8.1l4.5 8.1zM1167.7 1020.8l4.5 -8.1l4.5 8.1zM1174 1020.4l4.5 -8.1l4.5 8.1zM1164.6 1020l4.5 -8.1l4.5 8.1zM1177.1 1019.6l4.5 -8.1l4.5 8.1zM1161.5 1019.2l4.5 -8.1l4.5 8.1zM1180.2 1018.8l4.5 -8.1l4.5 8.1zM1158.4 1018.4l4.5 -8.1l4.5 8.1zM1183.3 1018l4.5 -8.1l4.5 8.1zM1155.3 1017.6l4.5 -8.1l4.5 8.1zM1186.4 1017.2l4.5 -8.1l4.5 8.1zM1152.2 1016.8l4.5 -8.1l4.5 8.1zM1189.5 1016.4l4.5 -8.1l4.5 8.1zM1149.1 1016l4.5 -8.1l4.5 8.1zM1192.6 1015.6l4.5 -8.1l4.5 8.1zM1146 1015.2l4.5 -8.1l4.5 8.1zM1195.7 1014.8l4.5 -8.1l4.5 8.1zM1142.9 1014.4l4.5 -8.1l4.5 8.1zM1198.8 1014l4.5 -8.1l4.5 8.1zM1139.8 1013.6l4.5 -8.1l4.5 8.1zM1169.3 1008.1l4.5 -8.1l4.5 8.1zM1179.3 994l4.5 -8.1l4.5 8.1zM1159.3 990l4.5 -8.1l4.5 8.1zM1169.3 975.9l4.5 -8.1l4.5 8.1zM1169.3 1139.7l4.5 -8.1l4.5 8.1zM1184 1137.4l4.5 -8.1l4.5 8.1zM1154.5 1135.1l4.5 -8.1l4.5 8.1zM1198.8 1132.7l4.5 -8.1l4.5 8.1zM1139.8 1130.4l4.5 -8.1l4.5 8.1zM1179.3 1149.5l4.5 -8.1l4.5 8.1zM1159.3 1143.7l4.5 -8.1l4.5 8.1zM1179.1 1162.5l4.5 -8.1l4.5 8.1zM1159.5 1159.6l4.5 -8.1l4.5 8.1zM1198.8 1156.7l4.5 -8.1l4.5 8.1zM1139.8 1153.8l4.5 -8.1l4.5 8.1zM1179.3 1172.6l4.5 -8.1l4.5 8.1zM1159.3 1166.8l4.5 -8.1l4.5 8.1z" fill="#0a30ff"/>
<line x1="1173.8" y1="1036.3" x2="1173.8" y2="1103" stroke="#000" stroke-width="1.4" stroke-linecap="butt"/>
<line x1="1157.8" y1="1036.3" x2="1189.8" y2="1036.3" stroke="#000" stroke-width="1.4" stroke-linecap="butt"/>
<line x1="1157.8" y1="1103" x2="1189.8" y2="1103" stroke="#000" stroke-width="1.4" stroke-linecap="butt"/>
<line x1="1139.8" y1="1069.6" x2="1207.8" y2="1069.6" stroke="#000" stroke-width="3.8" stroke-linecap="butt"/>
<path d="M957.3 818.7 L957.3 812.7 L1175.5 812.7 L1175.5 823.8" fill="none" stroke="#000" stroke-width="2.2" stroke-linecap="butt" stroke-linejoin="miter"/>
<text x="1045.4" y="807.3" font-size="20.2" font-weight="bold" fill="#000" textLength="28" lengthAdjust="spacingAndGlyphs" >NS</text>
<path d="M1052.5 852.7 L1052.5 846.4 L1176.7 846.4 L1176.7 857.7" fill="none" stroke="#000" stroke-width="2.2" stroke-linecap="butt" stroke-linejoin="miter"/>
<text x="1087.6" y="851.2" font-size="31.5" font-weight="bold" letter-spacing="1.70">****</text>
<path d="M855.4 883.9 L855.4 873.3 L1077.2 873.3 L1077.2 883.5" fill="none" stroke="#000" stroke-width="2.2" stroke-linecap="butt" stroke-linejoin="miter"/>
<text x="933.9" y="875.7" font-size="30.1" font-weight="bold" letter-spacing="2.43">****</text>
<path d="M855.4 917.4 L855.4 905.5 L962.3 905.5 L962.3 917.4" fill="none" stroke="#000" stroke-width="2.2" stroke-linecap="butt" stroke-linejoin="miter"/>
<text x="893.4" y="901.2" font-size="20.2" font-weight="bold" fill="#000" textLength="28.2" lengthAdjust="spacingAndGlyphs" >NS</text>
<text x="820.8" y="1277.5" font-size="23.7" font-weight="bold" fill="#000" textLength="72.2" lengthAdjust="spacingAndGlyphs" >Vector</text>
<text x="1032.5" y="1277.5" font-size="23.7" font-weight="bold" fill="#000" textLength="72.5" lengthAdjust="spacingAndGlyphs" >Vector</text>
<text x="923.8" y="1277.5" font-size="23.7" font-weight="bold" fill="#000" textLength="76.4" lengthAdjust="spacingAndGlyphs" >RAD51</text>
<text x="1134.7" y="1277.5" font-size="23.7" font-weight="bold" fill="#000" textLength="77" lengthAdjust="spacingAndGlyphs" >RAD51</text>
<text x="924.7" y="1300.4" font-size="23.7" font-weight="bold" fill="#000" textLength="72.5" lengthAdjust="spacingAndGlyphs" >K133R</text>
<text x="1135.2" y="1300.4" font-size="23.7" font-weight="bold" fill="#000" textLength="72.6" lengthAdjust="spacingAndGlyphs" >K133R</text>
<line x1="824.6" y1="1310" x2="994" y2="1310" stroke="#000" stroke-width="3.6" stroke-linecap="round"/>
<line x1="1036" y1="1310" x2="1205.5" y2="1310" stroke="#000" stroke-width="3.6" stroke-linecap="round"/>
<text x="897.4" y="1337.4" font-size="20.3" font-weight="bold" fill="#000" textLength="30.2" lengthAdjust="spacingAndGlyphs" >WT</text>
<text x="1108.1" y="1337.4" font-size="20.3" font-weight="bold" fill="#000" textLength="30.2" lengthAdjust="spacingAndGlyphs" >KO</text>
<text transform="translate(706.2 1118.5) rotate(-90)" x="-1.8" y="0" font-size="28.7" font-weight="bold" textLength="185.4" lengthAdjust="spacingAndGlyphs"><tspan fill="#10c010">IdU</tspan><tspan fill="#000">/</tspan><tspan fill="#ff2000">CldU</tspan><tspan fill="#000"> Ratio</tspan></text>
<text x="1372.8" y="874.5" font-size="39" font-weight="bold" fill="#000" >f</text>
<text x="1722" y="895.8" font-size="30.8" font-weight="bold" fill="#000" textLength="75.5" lengthAdjust="spacingAndGlyphs" >HAP1</text>
<line x1="1624.6" y1="909.4" x2="1894.5" y2="909.4" stroke="#000" stroke-width="2.6" stroke-linecap="butt"/>
<text x="1666.9" y="943.2" font-size="30.5" font-weight="bold" fill="#000" textLength="45.2" lengthAdjust="spacingAndGlyphs" >WT</text>
<text x="1765.8" y="943.2" font-size="30.5" font-weight="bold" fill="#000" textLength="133.8" lengthAdjust="spacingAndGlyphs" >GRB2 KO</text>
<line x1="1622" y1="952.3" x2="1749.9" y2="952.3" stroke="#000" stroke-width="2.6" stroke-linecap="butt"/>
<line x1="1764.4" y1="952.3" x2="1891.9" y2="952.3" stroke="#000" stroke-width="2.6" stroke-linecap="butt"/>
<rect x="1588" y="1140" width="324" height="130" fill="#cdcdcd"/>
<rect x="1587.2" y="1030.8" width="326" height="115.2" rx="2.5" fill="#cdcdcd" stroke="#000" stroke-width="2.5"/>
<rect x="1587.2" y="1146.6" width="326" height="116.1" rx="2.5" fill="#cdcdcd" stroke="#000" stroke-width="2.5"/>
<rect x="1587.2" y="1266.9" width="326" height="114.3" rx="2.5" fill="#cdcdcd" stroke="#000" stroke-width="2.5"/>
<path d="M1627.5 1089.5 C1639.4 1089.5 1643.2 1090 1649 1090 C1654.8 1090 1658.6 1089.5 1670.5 1089.5 C1673.8 1089.5 1673.8 1094.5 1670.5 1094.5 C1658.6 1094.5 1654.8 1094 1649 1094 C1643.2 1094 1639.4 1094.5 1627.5 1094.5 C1624.2 1094.5 1624.2 1089.5 1627.5 1089.5Z" fill="#a0a0a0" opacity="0.45" filter="url(#bl2_5)"/>
<path d="M1763 1088 C1775.1 1088 1778.9 1088.5 1784.5 1088.5 C1790.1 1088.5 1793.9 1088 1806 1088 C1808.7 1088 1808.7 1092 1806 1092 C1793.9 1092 1790.1 1091.5 1784.5 1091.5 C1778.9 1091.5 1775.1 1092 1763 1092 C1760.3 1092 1760.3 1088 1763 1088Z" fill="#a8a8a8" opacity="0.3" filter="url(#bl2_5)"/>
<path d="M1693.6 1084.2 C1706.2 1084.2 1711.1 1083.8 1718.5 1083.8 C1726 1083.8 1730.9 1079.5 1742.2 1079.5 C1752 1079.5 1752 1094 1742.2 1094 C1730.9 1094 1726 1093.2 1718.5 1093.2 C1711.1 1093.2 1706.2 1096.2 1693.6 1096.2 C1685.6 1096.2 1685.6 1084.2 1693.6 1084.2Z" fill="url(#gb1)" opacity="1.0" filter="url(#bl1_8)"/>
<path d="M1834.7 1081.2 C1846.7 1081.2 1851.4 1081.7 1858.4 1081.7 C1865.4 1081.7 1870.1 1079.2 1881.1 1079.2 C1889.8 1079.2 1889.8 1092.2 1881.1 1092.2 C1870.1 1092.2 1865.4 1090.7 1858.4 1090.7 C1851.4 1090.7 1846.7 1092.2 1834.7 1092.2 C1827.3 1092.2 1827.3 1081.2 1834.7 1081.2Z" fill="url(#gb1)" opacity="1.0" filter="url(#bl1_8)"/>
<path d="M1625.5 1197.4 C1634.7 1197.4 1639.1 1197.9 1645.8 1197.9 C1652.4 1197.9 1656.8 1196.9 1666.5 1196.9 C1675.9 1196.9 1675.9 1210.9 1666.5 1210.9 C1656.8 1210.9 1652.4 1210.9 1645.8 1210.9 C1639.1 1210.9 1634.7 1212.4 1625.5 1212.4 C1615.5 1212.4 1615.5 1197.4 1625.5 1197.4Z" fill="#050505" opacity="1.0" filter="url(#bl1_6)"/>
<path d="M1695 1195.2 C1705.6 1195.2 1710.9 1196 1718.7 1196 C1726.5 1196 1731.8 1195.2 1742.4 1195.2 C1754.5 1195.2 1754.5 1213.2 1742.4 1213.2 C1731.8 1213.2 1726.5 1212.5 1718.7 1212.5 C1710.9 1212.5 1705.6 1213.2 1695 1213.2 C1682.9 1213.2 1682.9 1195.2 1695 1195.2Z" fill="#050505" opacity="1.0" filter="url(#bl1_6)"/>
<path d="M1626.8 1312.8 C1634.4 1312.8 1639 1313.5 1646 1313.5 C1653 1313.5 1657.6 1313 1665.5 1313 C1678.2 1313 1678.2 1332 1665.5 1332 C1657.6 1332 1653 1331.5 1646 1331.5 C1639 1331.5 1634.4 1332.2 1626.8 1332.2 C1613.7 1332.2 1613.7 1312.8 1626.8 1312.8Z" fill="#030303" opacity="1.0" filter="url(#bl1_6)"/>
<path d="M1696.8 1312.5 C1705.8 1312.5 1711.1 1313.2 1719 1313.2 C1726.9 1313.2 1732.2 1312.7 1741.5 1312.7 C1755.6 1312.7 1755.6 1333.7 1741.5 1333.7 C1732.2 1333.7 1726.9 1333.2 1719 1333.2 C1711.1 1333.2 1705.8 1334 1696.8 1334 C1682.3 1334 1682.3 1312.5 1696.8 1312.5Z" fill="#030303" opacity="1.0" filter="url(#bl1_6)"/>
<path d="M1773.2 1315.2 C1780.5 1315.2 1785.1 1316 1791.9 1316 C1798.7 1316 1803.3 1315.2 1810.7 1315.2 C1823.7 1315.2 1823.7 1334.8 1810.7 1334.8 C1803.3 1334.8 1798.7 1334 1791.9 1334 C1785.1 1334 1780.5 1334.8 1773.2 1334.8 C1760.1 1334.8 1760.1 1315.2 1773.2 1315.2Z" fill="#030303" opacity="1.0" filter="url(#bl1_6)"/>
<path d="M1839.2 1315.2 C1847.1 1315.2 1851.7 1315.2 1858.5 1315.2 C1865.3 1315.2 1869.9 1313.5 1877.5 1313.5 C1890.2 1313.5 1890.2 1332.5 1877.5 1332.5 C1869.9 1332.5 1865.3 1332.2 1858.5 1332.2 C1851.7 1332.2 1847.1 1333.7 1839.2 1333.7 C1826.9 1333.7 1826.9 1315.2 1839.2 1315.2Z" fill="#030303" opacity="1.0" filter="url(#bl1_6)"/>
<text x="1426.7" y="1087.4" font-size="30.8" font-weight="bold" fill="#000" textLength="155.2" lengthAdjust="spacingAndGlyphs" >Flag-Rad51</text>
<text x="1489.6" y="1114.8" font-size="30.8" font-weight="bold" fill="#000" textLength="92.6" lengthAdjust="spacingAndGlyphs" >K133R</text>
<text x="1501.1" y="1213" font-size="30.8" font-weight="bold" fill="#000" textLength="82.1" lengthAdjust="spacingAndGlyphs" >GRB2</text>
<text x="1480.5" y="1329" font-size="30.8" font-weight="bold" fill="#000" textLength="103.3" lengthAdjust="spacingAndGlyphs" >β-Actin</text>
<text x="1921.5" y="1024.5" font-size="23" font-weight="bold" fill="#000" textLength="40.5" lengthAdjust="spacingAndGlyphs" >MW</text>
<text x="1921.4" y="1050" font-size="23" font-weight="bold" fill="#000" textLength="41.4" lengthAdjust="spacingAndGlyphs" >kDa</text>
<line x1="1902.3" y1="1085.7" x2="1927.3" y2="1085.7" stroke="#000" stroke-width="3" stroke-linecap="butt"/>
<text x="1930.9" y="1096" font-size="26.5" font-weight="bold" fill="#000" textLength="31.1" lengthAdjust="spacingAndGlyphs" >37</text>
<line x1="1902.3" y1="1203.8" x2="1927.3" y2="1203.8" stroke="#000" stroke-width="3" stroke-linecap="butt"/>
<text x="1930.5" y="1213.8" font-size="26.5" font-weight="bold" fill="#000" textLength="31" lengthAdjust="spacingAndGlyphs" >25</text>
<line x1="1902.3" y1="1348" x2="1927.3" y2="1348" stroke="#000" stroke-width="3" stroke-linecap="butt"/>
<text x="1930.9" y="1357.7" font-size="26.5" font-weight="bold" fill="#000" textLength="31.1" lengthAdjust="spacingAndGlyphs" >37</text>
<text transform="translate(1627.2 1028.3) rotate(-45)" font-size="29" font-weight="bold">Ctrl</text>
<text transform="translate(1772.7 1028.3) rotate(-45)" font-size="29" font-weight="bold">Ctrl</text>
<text transform="translate(1684.3 1028.7) rotate(-45)" font-size="28.8" font-weight="bold">Rad51</text>
<text transform="translate(1831.1 1028.2) rotate(-45)" font-size="28.8" font-weight="bold">Rad51</text>
<text transform="translate(1721 1028.6) rotate(-45)" font-size="28" font-weight="bold">K133R</text>
<text transform="translate(1865.5 1028.1) rotate(-45)" font-size="28" font-weight="bold">K133R</text>
</svg></body></html>
